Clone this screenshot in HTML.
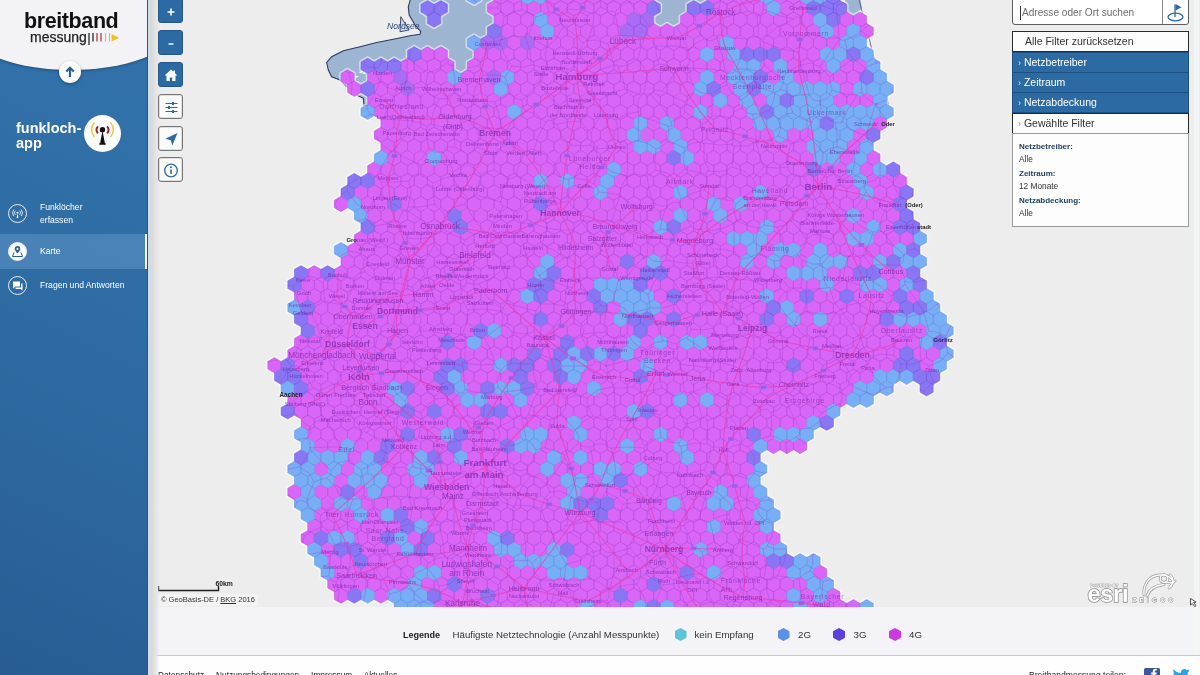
<!DOCTYPE html>
<html lang="de">
<head>
<meta charset="utf-8">
<title>Breitbandmessung – Funkloch-App Karte</title>
<style>
*{box-sizing:border-box;margin:0;padding:0}
html,body{width:1200px;height:675px;overflow:hidden;background:#efefef;font-family:"Liberation Sans",sans-serif;color:#222}
#app{position:relative;width:1200px;height:675px;overflow:hidden}
#map{position:absolute;left:148px;top:0;width:1052px;height:607px;background:#eeeeee;overflow:hidden}
#map svg{position:absolute;left:-148px;top:0}
/* sidebar */
#side{position:absolute;left:0;top:0;width:148px;height:675px;background:linear-gradient(205deg,#3272ab 0%,#2f6da4 40%,#2c669d 70%,#285c92 100%);z-index:5;overflow:hidden;border-right:1px solid #2a5578}
#sideshadow{position:absolute;left:148px;top:0;width:12px;height:675px;background:linear-gradient(90deg,#cfe3ef 0,#d3dcdf 12%,#d9d9d9 30%,#e3e3e7 60%,rgba(238,238,238,0) 100%);z-index:3}
#head{position:absolute;left:-29px;top:-90px;width:200px;height:160px;background:#f3f2f6;border-radius:0 0 50% 50%/0 0 38px 38px;box-shadow:0 1px 3px rgba(0,0,0,.3)}
#logo1{position:absolute;left:24px;top:8px;font-size:21.5px;font-weight:bold;color:#111;letter-spacing:-.4px;line-height:26px}
#logo2{position:absolute;left:30px;top:27.500px;font-size:14px;color:#222;line-height:18px;-webkit-text-stroke:.25px #222}
#bars{position:absolute;left:87.500px;top:32px}
#up{position:absolute;left:59px;top:61px;width:22px;height:22px;border-radius:50%;background:#fbfbfb;box-shadow:0 1px 3px rgba(0,0,0,.35)}
#fl{position:absolute;left:16px;top:121px;font-size:14.5px;font-weight:bold;color:#fff;line-height:15px}
#flic{position:absolute;left:84px;top:114.500px;width:37px;height:37px;border-radius:50%;background:#fdfdfd}
.nav{position:absolute;left:0;width:148px;color:#fff;font-size:8.6px;line-height:12.6px}
.nav .ic{position:absolute;left:8px;width:19px;height:19px;border-radius:50%;border:1px solid #e6eef6}
.nav .tx{position:absolute;left:40px}
#n2{top:234px;height:35px;background:rgba(120,170,215,.36);border-right:3px solid #f4f6f8}
/* map buttons */
.mb{position:absolute;left:158px;width:25px;height:25px;border-radius:3px;z-index:4}
.mb.b{background:#2c6aa3;border:1px solid #24578a;color:#fff}
.mb.w{background:#fbfbfb;border:1px solid #777;box-shadow:inset 0 0 0 1px #ddd}
.mb svg{position:absolute;left:0;top:0}
/* right panel */
#rp{position:absolute;left:1012px;top:0;width:177px;z-index:4;font-size:11px}
#search{position:absolute;left:0;top:-3px;width:177px;height:28px;border:1.500px solid #5e5e5e;border-radius:3px;background:#fff}
#search .ph{position:absolute;left:7px;top:8px;font-size:10.1px;color:#6d6d6d;border-left:1px solid #333;padding-left:1px;line-height:14px}
#search .go{position:absolute;right:0;top:0;width:26px;height:26px;border-left:1px solid #8a8a8a}
.fr{position:absolute;left:0;width:177px;height:21px;line-height:19px;font-size:10.5px;border:1px solid #2a2a2a}
.fr.w{background:#fdfdfd;color:#333}
.fr.b{background:#2c6aa3;color:#fff;border-color:#1d4f80}
#sel{position:absolute;left:0;top:133px;width:177px;height:94px;background:#fdfdfd;border:1px solid #9a9a9a;font-size:8.3px;line-height:13.4px;padding:6px 0 0 6px;color:#333}
#sel b{color:#1c3d5e;font-size:8px}
/* legend + footer */
#legend{position:absolute;left:148px;top:607px;width:1052px;height:49px;background:#f3f3f8;border-bottom:1px solid #c9c9cf;font-size:9.7px;color:#333}
#legend span{position:absolute;top:22px;line-height:12px;white-space:nowrap}
#legend i{position:absolute;top:21px;width:12px;height:13px;clip-path:polygon(50% 0,100% 25%,100% 75%,50% 100%,0 75%,0 25%)}
#foot{position:absolute;left:148px;top:656px;width:1052px;height:19px;background:#fefefe;font-size:8.3px;color:#222}
#foot span{position:absolute;top:13px;line-height:12px;white-space:nowrap}
#attr{position:absolute;left:158px;top:594px;font-size:7.5px;line-height:12px;color:#333;background:rgba(245,245,245,.7);padding:0 3px;z-index:3;white-space:nowrap}
#scale{position:absolute;left:158px;top:577px;z-index:3}
</style>
</head>
<body>
<div id="app">
<div id="map">
<svg width="1200" height="607" viewBox="0 0 1200 607" font-family="Liberation Sans, sans-serif">
<rect width="1200" height="607" fill="#ededed"/>
<polygon points="410.8,-2.0 408.3,6.7 409.2,15.0 415.0,25.0 420.8,31.7 420.0,34.2 410.0,35.8 393.3,39.2 376.7,42.5 360.0,46.7 343.3,50.8 331.7,56.7 326.7,62.5 328.3,70.0 331.7,76.7 340.0,80.0 346.7,86.7 353.3,93.3 363.3,98.3 364.2,106.7 366.7,112.0 376.0,110.0 376.0,92.0 372.0,86.0 376.0,80.0 400.0,72.0 440.0,66.0 455.0,76.0 470.0,76.0 482.0,62.0 500.0,42.0 506.0,-2.0" fill="#9db5d1"/>
<polyline points="410.8,-2.0 408.3,6.7 409.2,15.0 415.0,25.0 420.8,31.7 420.0,34.2 410.0,35.8 393.3,39.2 376.7,42.5 360.0,46.7 343.3,50.8 331.7,56.7 326.7,62.5 328.3,70.0 331.7,76.7 340.0,80.0 346.7,86.7 353.3,93.3 363.3,98.3 364.2,106.7 366.7,112.0" fill="none" stroke="#2b3a66" stroke-width="1.1"/>
<polygon points="400.8,16.7 409.2,30 400,31.7" fill="#cfd8e6" stroke="#2b3a66" stroke-width=".9"/>
<path d="M359 72l3-1.500 1 1.500-3 1.500zM355 76.500l3-.8.500 1.300-3 .8zM362.500 73l2-1 .6 1.200-2 1z" fill="#f4f4f4"/>
<polygon points="650,-2 710,-2 708,5 692,8 690,28 654,28 652,10" fill="#9db5d1"/>
<polygon points="845,-2 860,-2 862,8 856,16 846,14" fill="#9db5d1"/>
<polyline points="859.0,-1.0 864.0,20.0 870.0,41.7 873.0,55.0 880.0,70.0 886.7,86.7 887.5,100.0 889.0,110.0" fill="none" stroke="#3a4470" stroke-width=".9" opacity=".8"/>
<clipPath id="land"><path clip-rule="evenodd" d="M360.9 108.0L360.9 115.7L367.6 119.6L374.2 115.7L380.8 119.6L380.8 127.2L374.2 131.1L374.2 138.7L380.8 142.6L380.8 150.2L374.2 154.1L374.2 161.8L367.5 165.6L367.5 173.3L360.9 177.1L354.3 173.2L347.6 177.1L347.6 184.8L340.9 188.7L340.9 196.3L334.2 200.2L334.2 207.9L340.9 211.8L347.6 207.9L354.2 211.7L354.2 219.4L360.9 223.2L360.9 230.9L354.2 234.7L354.2 242.4L347.6 246.2L340.9 242.4L334.2 246.3L334.2 253.9L340.9 257.8L340.9 265.4L334.3 269.3L327.6 265.4L321.0 269.3L314.3 265.4L307.7 269.3L301.0 265.4L294.3 269.3L294.3 277.0L287.7 280.8L287.7 288.5L294.3 292.4L294.3 300.0L287.7 303.9L287.7 311.5L294.3 315.4L294.3 323.1L301.0 326.9L301.0 334.6L294.3 338.4L294.3 346.1L287.7 349.9L287.7 357.6L281.1 361.4L274.4 357.6L267.7 361.5L267.7 369.1L274.3 373.0L274.3 380.7L281.0 384.5L281.0 392.2L287.7 396.0L287.7 403.7L281.0 407.5L281.0 415.2L287.7 419.1L294.4 415.3L301.0 419.1L301.0 426.7L294.3 430.6L294.3 438.3L301.0 442.1L301.0 449.8L294.3 453.6L294.3 461.3L287.7 465.1L287.7 472.8L294.3 476.7L294.3 484.3L287.7 488.2L287.7 495.9L294.3 499.7L294.3 507.4L301.0 511.2L301.0 518.9L307.6 522.8L307.6 530.4L301.0 534.3L301.0 541.9L307.6 545.8L307.6 553.5L314.3 557.3L314.3 565.0L320.9 568.8L320.9 576.5L327.6 580.4L327.6 588.0L334.2 591.9L334.2 599.5L340.9 603.4L347.6 599.6L354.3 603.4L360.9 599.6L367.6 603.4L374.2 599.6L380.9 603.4L387.5 599.6L394.1 603.4L394.1 611.1L400.8 615.0L407.5 611.1L414.2 615.0L420.8 611.1L427.5 615.0L434.1 611.1L440.8 615.0L447.4 611.1L454.1 615.0L460.7 611.1L467.4 615.0L474.0 611.1L480.7 615.0L487.4 611.1L494.0 615.0L500.7 611.1L507.3 615.0L514.0 611.1L520.6 615.0L527.3 611.1L533.9 615.0L540.6 611.1L547.3 615.0L553.9 611.1L560.6 615.0L567.2 611.1L573.9 615.0L580.5 611.1L587.2 615.0L593.8 611.1L600.5 615.0L607.1 611.1L613.8 615.0L620.5 611.1L627.1 615.0L633.8 611.1L640.4 615.0L647.1 611.1L653.7 615.0L660.4 611.1L667.0 615.0L673.7 611.1L680.4 615.0L687.0 611.1L693.7 615.0L700.3 611.1L707.0 615.0L713.6 611.1L720.3 615.0L726.9 611.1L733.6 615.0L740.2 611.1L746.9 615.0L753.6 611.1L760.2 615.0L766.9 611.1L773.5 615.0L780.2 611.1L786.8 615.0L793.5 611.1L800.1 615.0L806.8 611.1L813.5 615.0L820.1 611.1L826.8 615.0L833.4 611.1L840.1 615.0L846.7 611.1L853.4 615.0L860.0 611.1L866.7 615.0L873.4 611.1L873.4 603.4L866.7 599.5L860.0 603.3L853.4 599.5L846.7 603.3L840.1 599.5L840.1 591.9L833.5 588.0L833.5 580.3L826.8 576.5L826.8 568.8L820.2 565.0L820.2 557.3L813.5 553.4L806.8 557.3L800.1 553.4L793.5 557.3L786.9 553.4L786.9 545.8L780.2 541.9L780.2 534.3L773.6 530.4L773.6 522.8L780.2 518.9L780.2 511.2L773.6 507.4L773.6 499.7L766.9 495.8L766.9 488.2L760.3 484.3L760.3 476.7L766.9 472.8L766.9 465.1L760.3 461.3L760.3 453.6L766.9 449.8L773.5 453.7L780.2 449.8L786.8 453.7L793.5 449.8L800.1 453.7L806.9 449.8L806.9 442.1L813.5 438.3L813.5 430.6L820.1 426.8L826.8 430.6L833.5 426.7L833.5 419.1L840.1 415.2L840.1 407.6L846.7 403.7L853.4 407.6L860.0 403.7L866.7 407.6L873.4 403.7L873.4 396.0L880.0 392.2L886.7 396.1L893.4 392.2L893.4 384.5L900.0 380.7L906.6 384.6L913.3 380.7L919.9 384.5L919.9 392.2L926.6 396.1L933.3 392.2L933.3 384.5L940.0 380.7L940.0 373.0L946.6 369.1L946.6 361.5L953.3 357.6L953.3 349.9L946.6 346.1L946.6 338.4L953.3 334.6L953.3 326.9L946.6 323.0L946.6 315.4L940.0 311.5L940.0 303.9L933.3 300.0L933.3 292.3L926.6 288.5L926.6 280.8L920.0 277.0L920.0 269.3L926.6 265.5L926.6 257.8L920.0 253.9L920.0 246.3L926.6 242.4L926.6 234.7L920.0 230.9L920.0 223.2L913.3 219.4L913.3 211.7L906.7 207.8L906.7 200.2L913.3 196.3L913.3 188.7L906.7 184.8L906.7 177.1L900.0 173.3L900.0 165.6L893.3 161.7L886.7 165.6L880.1 161.8L880.1 154.1L873.4 150.2L873.4 142.6L880.1 138.7L880.1 131.1L886.7 127.2L886.7 119.6L893.4 115.7L893.4 108.0L886.7 104.2L886.7 96.5L893.4 92.7L893.4 85.0L886.7 81.1L886.7 73.5L880.1 69.6L880.1 61.9L873.4 58.1L873.4 50.4L866.7 46.6L866.7 38.9L873.4 35.1L873.4 27.4L866.7 23.5L866.7 15.9L860.0 12.0L853.4 15.8L846.8 12.0L846.8 4.3L840.1 0.5L840.1 -7.2L833.4 -11.1L826.8 -7.2L820.1 -11.1L813.5 -7.2L806.8 -11.1L800.1 -7.2L793.5 -11.1L786.8 -7.2L780.2 -11.1L773.5 -7.2L766.9 -11.1L760.2 -7.2L753.6 -11.1L746.9 -7.2L740.2 -11.1L733.6 -7.2L726.9 -11.1L720.3 -7.2L713.6 -11.1L706.9 -7.2L706.9 0.5L700.3 4.3L693.7 0.4L687.0 4.3L687.0 12.0L680.3 15.9L680.3 23.5L673.7 27.3L667.0 23.5L660.4 27.3L653.8 23.5L653.8 15.9L660.4 12.0L660.4 4.3L653.8 0.5L653.8 -7.2L647.1 -11.1L640.4 -7.2L633.8 -11.1L627.1 -7.2L620.5 -11.1L613.8 -7.2L607.1 -11.1L600.5 -7.2L593.8 -11.1L587.2 -7.2L580.5 -11.1L573.9 -7.2L567.2 -11.1L560.6 -7.2L553.9 -11.1L547.3 -7.2L540.6 -11.1L533.9 -7.2L527.3 -11.1L520.6 -7.2L514.0 -11.1L507.3 -7.2L500.7 -11.1L494.0 -7.2L494.0 0.5L487.3 4.3L487.3 12.0L494.0 15.9L494.0 23.5L487.3 27.4L487.3 35.0L480.7 38.9L474.0 35.0L467.3 38.9L467.3 46.6L474.0 50.4L474.0 58.1L467.3 61.9L467.3 69.6L460.7 73.4L454.1 69.6L454.1 61.9L447.5 58.1L447.5 50.4L440.8 46.5L434.1 50.4L427.5 46.5L420.8 50.4L414.2 46.5L407.4 50.4L407.4 58.1L400.8 61.9L394.2 58.0L387.5 61.9L380.9 58.0L374.2 61.9L367.6 58.0L360.9 61.9L360.9 69.6L367.5 73.5L367.5 81.1L360.9 84.9L354.3 81.1L354.3 73.5L347.6 69.6L340.9 73.5L340.9 81.1L347.6 85.0L347.6 92.7L354.3 96.6L360.9 92.7L367.5 96.5L367.5 104.2ZM447.5 4.3L440.8 0.4L434.1 4.3L427.5 0.4L420.8 4.3L420.8 12.0L427.4 15.9L427.4 23.5L434.1 27.4L440.8 23.5L440.8 15.9L447.5 12.0ZM480.8 -7.2L474.0 -11.1L467.3 -7.2L467.3 0.5L474.0 4.4L480.8 0.5Z"/></clipPath>
<path d="M360.9 108.0L360.9 115.7L367.6 119.6L374.2 115.7L380.8 119.6L380.8 127.2L374.2 131.1L374.2 138.7L380.8 142.6L380.8 150.2L374.2 154.1L374.2 161.8L367.5 165.6L367.5 173.3L360.9 177.1L354.3 173.2L347.6 177.1L347.6 184.8L340.9 188.7L340.9 196.3L334.2 200.2L334.2 207.9L340.9 211.8L347.6 207.9L354.2 211.7L354.2 219.4L360.9 223.2L360.9 230.9L354.2 234.7L354.2 242.4L347.6 246.2L340.9 242.4L334.2 246.3L334.2 253.9L340.9 257.8L340.9 265.4L334.3 269.3L327.6 265.4L321.0 269.3L314.3 265.4L307.7 269.3L301.0 265.4L294.3 269.3L294.3 277.0L287.7 280.8L287.7 288.5L294.3 292.4L294.3 300.0L287.7 303.9L287.7 311.5L294.3 315.4L294.3 323.1L301.0 326.9L301.0 334.6L294.3 338.4L294.3 346.1L287.7 349.9L287.7 357.6L281.1 361.4L274.4 357.6L267.7 361.5L267.7 369.1L274.3 373.0L274.3 380.7L281.0 384.5L281.0 392.2L287.7 396.0L287.7 403.7L281.0 407.5L281.0 415.2L287.7 419.1L294.4 415.3L301.0 419.1L301.0 426.7L294.3 430.6L294.3 438.3L301.0 442.1L301.0 449.8L294.3 453.6L294.3 461.3L287.7 465.1L287.7 472.8L294.3 476.7L294.3 484.3L287.7 488.2L287.7 495.9L294.3 499.7L294.3 507.4L301.0 511.2L301.0 518.9L307.6 522.8L307.6 530.4L301.0 534.3L301.0 541.9L307.6 545.8L307.6 553.5L314.3 557.3L314.3 565.0L320.9 568.8L320.9 576.5L327.6 580.4L327.6 588.0L334.2 591.9L334.2 599.5L340.9 603.4L347.6 599.6L354.3 603.4L360.9 599.6L367.6 603.4L374.2 599.6L380.9 603.4L387.5 599.6L394.1 603.4L394.1 611.1L400.8 615.0L407.5 611.1L414.2 615.0L420.8 611.1L427.5 615.0L434.1 611.1L440.8 615.0L447.4 611.1L454.1 615.0L460.7 611.1L467.4 615.0L474.0 611.1L480.7 615.0L487.4 611.1L494.0 615.0L500.7 611.1L507.3 615.0L514.0 611.1L520.6 615.0L527.3 611.1L533.9 615.0L540.6 611.1L547.3 615.0L553.9 611.1L560.6 615.0L567.2 611.1L573.9 615.0L580.5 611.1L587.2 615.0L593.8 611.1L600.5 615.0L607.1 611.1L613.8 615.0L620.5 611.1L627.1 615.0L633.8 611.1L640.4 615.0L647.1 611.1L653.7 615.0L660.4 611.1L667.0 615.0L673.7 611.1L680.4 615.0L687.0 611.1L693.7 615.0L700.3 611.1L707.0 615.0L713.6 611.1L720.3 615.0L726.9 611.1L733.6 615.0L740.2 611.1L746.9 615.0L753.6 611.1L760.2 615.0L766.9 611.1L773.5 615.0L780.2 611.1L786.8 615.0L793.5 611.1L800.1 615.0L806.8 611.1L813.5 615.0L820.1 611.1L826.8 615.0L833.4 611.1L840.1 615.0L846.7 611.1L853.4 615.0L860.0 611.1L866.7 615.0L873.4 611.1L873.4 603.4L866.7 599.5L860.0 603.3L853.4 599.5L846.7 603.3L840.1 599.5L840.1 591.9L833.5 588.0L833.5 580.3L826.8 576.5L826.8 568.8L820.2 565.0L820.2 557.3L813.5 553.4L806.8 557.3L800.1 553.4L793.5 557.3L786.9 553.4L786.9 545.8L780.2 541.9L780.2 534.3L773.6 530.4L773.6 522.8L780.2 518.9L780.2 511.2L773.6 507.4L773.6 499.7L766.9 495.8L766.9 488.2L760.3 484.3L760.3 476.7L766.9 472.8L766.9 465.1L760.3 461.3L760.3 453.6L766.9 449.8L773.5 453.7L780.2 449.8L786.8 453.7L793.5 449.8L800.1 453.7L806.9 449.8L806.9 442.1L813.5 438.3L813.5 430.6L820.1 426.8L826.8 430.6L833.5 426.7L833.5 419.1L840.1 415.2L840.1 407.6L846.7 403.7L853.4 407.6L860.0 403.7L866.7 407.6L873.4 403.7L873.4 396.0L880.0 392.2L886.7 396.1L893.4 392.2L893.4 384.5L900.0 380.7L906.6 384.6L913.3 380.7L919.9 384.5L919.9 392.2L926.6 396.1L933.3 392.2L933.3 384.5L940.0 380.7L940.0 373.0L946.6 369.1L946.6 361.5L953.3 357.6L953.3 349.9L946.6 346.1L946.6 338.4L953.3 334.6L953.3 326.9L946.6 323.0L946.6 315.4L940.0 311.5L940.0 303.9L933.3 300.0L933.3 292.3L926.6 288.5L926.6 280.8L920.0 277.0L920.0 269.3L926.6 265.5L926.6 257.8L920.0 253.9L920.0 246.3L926.6 242.4L926.6 234.7L920.0 230.9L920.0 223.2L913.3 219.4L913.3 211.7L906.7 207.8L906.7 200.2L913.3 196.3L913.3 188.7L906.7 184.8L906.7 177.1L900.0 173.3L900.0 165.6L893.3 161.7L886.7 165.6L880.1 161.8L880.1 154.1L873.4 150.2L873.4 142.6L880.1 138.7L880.1 131.1L886.7 127.2L886.7 119.6L893.4 115.7L893.4 108.0L886.7 104.2L886.7 96.5L893.4 92.7L893.4 85.0L886.7 81.1L886.7 73.5L880.1 69.6L880.1 61.9L873.4 58.1L873.4 50.4L866.7 46.6L866.7 38.9L873.4 35.1L873.4 27.4L866.7 23.5L866.7 15.9L860.0 12.0L853.4 15.8L846.8 12.0L846.8 4.3L840.1 0.5L840.1 -7.2L833.4 -11.1L826.8 -7.2L820.1 -11.1L813.5 -7.2L806.8 -11.1L800.1 -7.2L793.5 -11.1L786.8 -7.2L780.2 -11.1L773.5 -7.2L766.9 -11.1L760.2 -7.2L753.6 -11.1L746.9 -7.2L740.2 -11.1L733.6 -7.2L726.9 -11.1L720.3 -7.2L713.6 -11.1L706.9 -7.2L706.9 0.5L700.3 4.3L693.7 0.4L687.0 4.3L687.0 12.0L680.3 15.9L680.3 23.5L673.7 27.3L667.0 23.5L660.4 27.3L653.8 23.5L653.8 15.9L660.4 12.0L660.4 4.3L653.8 0.5L653.8 -7.2L647.1 -11.1L640.4 -7.2L633.8 -11.1L627.1 -7.2L620.5 -11.1L613.8 -7.2L607.1 -11.1L600.5 -7.2L593.8 -11.1L587.2 -7.2L580.5 -11.1L573.9 -7.2L567.2 -11.1L560.6 -7.2L553.9 -11.1L547.3 -7.2L540.6 -11.1L533.9 -7.2L527.3 -11.1L520.6 -7.2L514.0 -11.1L507.3 -7.2L500.7 -11.1L494.0 -7.2L494.0 0.5L487.3 4.3L487.3 12.0L494.0 15.9L494.0 23.5L487.3 27.4L487.3 35.0L480.7 38.9L474.0 35.0L467.3 38.9L467.3 46.6L474.0 50.4L474.0 58.1L467.3 61.9L467.3 69.6L460.7 73.4L454.1 69.6L454.1 61.9L447.5 58.1L447.5 50.4L440.8 46.5L434.1 50.4L427.5 46.5L420.8 50.4L414.2 46.5L407.4 50.4L407.4 58.1L400.8 61.9L394.2 58.0L387.5 61.9L380.9 58.0L374.2 61.9L367.6 58.0L360.9 61.9L360.9 69.6L367.5 73.5L367.5 81.1L360.9 84.9L354.3 81.1L354.3 73.5L347.6 69.6L340.9 73.5L340.9 81.1L347.6 85.0L347.6 92.7L354.3 96.6L360.9 92.7L367.5 96.5L367.5 104.2ZM447.5 4.3L440.8 0.4L434.1 4.3L427.5 0.4L420.8 4.3L420.8 12.0L427.4 15.9L427.4 23.5L434.1 27.4L440.8 23.5L440.8 15.9L447.5 12.0ZM480.8 -7.2L474.0 -11.1L467.3 -7.2L467.3 0.5L474.0 4.4L480.8 0.5Z" fill="none" stroke="#fff" stroke-width="3.500" stroke-opacity=".55" stroke-linejoin="round"/>
<path d="M500.7 -11.0 l6.66 3.84 v7.68 l-6.66 3.84 l-6.66 -3.84 v-7.68 zM514.0 -11.0 l6.66 3.84 v7.68 l-6.66 3.84 l-6.66 -3.84 v-7.68 zM553.9 -11.0 l6.66 3.84 v7.68 l-6.66 3.84 l-6.66 -3.84 v-7.68 zM567.2 -11.0 l6.66 3.84 v7.68 l-6.66 3.84 l-6.66 -3.84 v-7.68 zM580.5 -11.0 l6.66 3.84 v7.68 l-6.66 3.84 l-6.66 -3.84 v-7.68 zM593.8 -11.0 l6.66 3.84 v7.68 l-6.66 3.84 l-6.66 -3.84 v-7.68 zM607.1 -11.0 l6.66 3.84 v7.68 l-6.66 3.84 l-6.66 -3.84 v-7.68 zM620.5 -11.0 l6.66 3.84 v7.68 l-6.66 3.84 l-6.66 -3.84 v-7.68 zM633.8 -11.0 l6.66 3.84 v7.68 l-6.66 3.84 l-6.66 -3.84 v-7.68 zM647.1 -11.0 l6.66 3.84 v7.68 l-6.66 3.84 l-6.66 -3.84 v-7.68 zM713.6 -11.0 l6.66 3.84 v7.68 l-6.66 3.84 l-6.66 -3.84 v-7.68 zM726.9 -11.0 l6.66 3.84 v7.68 l-6.66 3.84 l-6.66 -3.84 v-7.68 zM740.2 -11.0 l6.66 3.84 v7.68 l-6.66 3.84 l-6.66 -3.84 v-7.68 zM753.6 -11.0 l6.66 3.84 v7.68 l-6.66 3.84 l-6.66 -3.84 v-7.68 zM780.2 -11.0 l6.66 3.84 v7.68 l-6.66 3.84 l-6.66 -3.84 v-7.68 zM793.5 -11.0 l6.66 3.84 v7.68 l-6.66 3.84 l-6.66 -3.84 v-7.68 zM494.0 0.5 l6.66 3.84 v7.68 l-6.66 3.84 l-6.66 -3.84 v-7.68 zM507.3 0.5 l6.66 3.84 v7.68 l-6.66 3.84 l-6.66 -3.84 v-7.68 zM520.6 0.5 l6.66 3.84 v7.68 l-6.66 3.84 l-6.66 -3.84 v-7.68 zM533.9 0.5 l6.66 3.84 v7.68 l-6.66 3.84 l-6.66 -3.84 v-7.68 zM547.3 0.5 l6.66 3.84 v7.68 l-6.66 3.84 l-6.66 -3.84 v-7.68 zM560.6 0.5 l6.66 3.84 v7.68 l-6.66 3.84 l-6.66 -3.84 v-7.68 zM573.9 0.5 l6.66 3.84 v7.68 l-6.66 3.84 l-6.66 -3.84 v-7.68 zM587.2 0.5 l6.66 3.84 v7.68 l-6.66 3.84 l-6.66 -3.84 v-7.68 zM600.5 0.5 l6.66 3.84 v7.68 l-6.66 3.84 l-6.66 -3.84 v-7.68 zM613.8 0.5 l6.66 3.84 v7.68 l-6.66 3.84 l-6.66 -3.84 v-7.68 zM627.1 0.5 l6.66 3.84 v7.68 l-6.66 3.84 l-6.66 -3.84 v-7.68 zM640.4 0.5 l6.66 3.84 v7.68 l-6.66 3.84 l-6.66 -3.84 v-7.68 zM720.3 0.5 l6.66 3.84 v7.68 l-6.66 3.84 l-6.66 -3.84 v-7.68 zM733.6 0.5 l6.66 3.84 v7.68 l-6.66 3.84 l-6.66 -3.84 v-7.68 zM746.9 0.5 l6.66 3.84 v7.68 l-6.66 3.84 l-6.66 -3.84 v-7.68 zM760.2 0.5 l6.66 3.84 v7.68 l-6.66 3.84 l-6.66 -3.84 v-7.68 zM786.8 0.5 l6.66 3.84 v7.68 l-6.66 3.84 l-6.66 -3.84 v-7.68 zM800.1 0.5 l6.66 3.84 v7.68 l-6.66 3.84 l-6.66 -3.84 v-7.68 zM500.7 12.0 l6.66 3.84 v7.68 l-6.66 3.84 l-6.66 -3.84 v-7.68 zM514.0 12.0 l6.66 3.84 v7.68 l-6.66 3.84 l-6.66 -3.84 v-7.68 zM527.3 12.0 l6.66 3.84 v7.68 l-6.66 3.84 l-6.66 -3.84 v-7.68 zM553.9 12.0 l6.66 3.84 v7.68 l-6.66 3.84 l-6.66 -3.84 v-7.68 zM567.2 12.0 l6.66 3.84 v7.68 l-6.66 3.84 l-6.66 -3.84 v-7.68 zM580.5 12.0 l6.66 3.84 v7.68 l-6.66 3.84 l-6.66 -3.84 v-7.68 zM593.8 12.0 l6.66 3.84 v7.68 l-6.66 3.84 l-6.66 -3.84 v-7.68 zM607.1 12.0 l6.66 3.84 v7.68 l-6.66 3.84 l-6.66 -3.84 v-7.68 zM620.5 12.0 l6.66 3.84 v7.68 l-6.66 3.84 l-6.66 -3.84 v-7.68 zM687.0 12.0 l6.66 3.84 v7.68 l-6.66 3.84 l-6.66 -3.84 v-7.68 zM700.3 12.0 l6.66 3.84 v7.68 l-6.66 3.84 l-6.66 -3.84 v-7.68 zM713.6 12.0 l6.66 3.84 v7.68 l-6.66 3.84 l-6.66 -3.84 v-7.68 zM726.9 12.0 l6.66 3.84 v7.68 l-6.66 3.84 l-6.66 -3.84 v-7.68 zM740.2 12.0 l6.66 3.84 v7.68 l-6.66 3.84 l-6.66 -3.84 v-7.68 zM753.6 12.0 l6.66 3.84 v7.68 l-6.66 3.84 l-6.66 -3.84 v-7.68 zM766.9 12.0 l6.66 3.84 v7.68 l-6.66 3.84 l-6.66 -3.84 v-7.68 zM780.2 12.0 l6.66 3.84 v7.68 l-6.66 3.84 l-6.66 -3.84 v-7.68 zM793.5 12.0 l6.66 3.84 v7.68 l-6.66 3.84 l-6.66 -3.84 v-7.68 zM806.8 12.0 l6.66 3.84 v7.68 l-6.66 3.84 l-6.66 -3.84 v-7.68 zM846.7 12.0 l6.66 3.84 v7.68 l-6.66 3.84 l-6.66 -3.84 v-7.68 zM860.0 12.0 l6.66 3.84 v7.68 l-6.66 3.84 l-6.66 -3.84 v-7.68 zM507.3 23.5 l6.66 3.84 v7.68 l-6.66 3.84 l-6.66 -3.84 v-7.68 zM520.6 23.5 l6.66 3.84 v7.68 l-6.66 3.84 l-6.66 -3.84 v-7.68 zM533.9 23.5 l6.66 3.84 v7.68 l-6.66 3.84 l-6.66 -3.84 v-7.68 zM560.6 23.5 l6.66 3.84 v7.68 l-6.66 3.84 l-6.66 -3.84 v-7.68 zM573.9 23.5 l6.66 3.84 v7.68 l-6.66 3.84 l-6.66 -3.84 v-7.68 zM587.2 23.5 l6.66 3.84 v7.68 l-6.66 3.84 l-6.66 -3.84 v-7.68 zM600.5 23.5 l6.66 3.84 v7.68 l-6.66 3.84 l-6.66 -3.84 v-7.68 zM613.8 23.5 l6.66 3.84 v7.68 l-6.66 3.84 l-6.66 -3.84 v-7.68 zM653.7 23.5 l6.66 3.84 v7.68 l-6.66 3.84 l-6.66 -3.84 v-7.68 zM667.0 23.5 l6.66 3.84 v7.68 l-6.66 3.84 l-6.66 -3.84 v-7.68 zM680.4 23.5 l6.66 3.84 v7.68 l-6.66 3.84 l-6.66 -3.84 v-7.68 zM693.7 23.5 l6.66 3.84 v7.68 l-6.66 3.84 l-6.66 -3.84 v-7.68 zM707.0 23.5 l6.66 3.84 v7.68 l-6.66 3.84 l-6.66 -3.84 v-7.68 zM720.3 23.5 l6.66 3.84 v7.68 l-6.66 3.84 l-6.66 -3.84 v-7.68 zM733.6 23.5 l6.66 3.84 v7.68 l-6.66 3.84 l-6.66 -3.84 v-7.68 zM746.9 23.5 l6.66 3.84 v7.68 l-6.66 3.84 l-6.66 -3.84 v-7.68 zM760.2 23.5 l6.66 3.84 v7.68 l-6.66 3.84 l-6.66 -3.84 v-7.68 zM773.5 23.5 l6.66 3.84 v7.68 l-6.66 3.84 l-6.66 -3.84 v-7.68 zM786.8 23.5 l6.66 3.84 v7.68 l-6.66 3.84 l-6.66 -3.84 v-7.68 zM800.1 23.5 l6.66 3.84 v7.68 l-6.66 3.84 l-6.66 -3.84 v-7.68 zM813.5 23.5 l6.66 3.84 v7.68 l-6.66 3.84 l-6.66 -3.84 v-7.68 zM840.1 23.5 l6.66 3.84 v7.68 l-6.66 3.84 l-6.66 -3.84 v-7.68 zM866.7 23.5 l6.66 3.84 v7.68 l-6.66 3.84 l-6.66 -3.84 v-7.68 zM514.0 35.1 l6.66 3.84 v7.68 l-6.66 3.84 l-6.66 -3.84 v-7.68 zM540.6 35.1 l6.66 3.84 v7.68 l-6.66 3.84 l-6.66 -3.84 v-7.68 zM553.9 35.1 l6.66 3.84 v7.68 l-6.66 3.84 l-6.66 -3.84 v-7.68 zM567.2 35.1 l6.66 3.84 v7.68 l-6.66 3.84 l-6.66 -3.84 v-7.68 zM580.5 35.1 l6.66 3.84 v7.68 l-6.66 3.84 l-6.66 -3.84 v-7.68 zM593.8 35.1 l6.66 3.84 v7.68 l-6.66 3.84 l-6.66 -3.84 v-7.68 zM607.1 35.1 l6.66 3.84 v7.68 l-6.66 3.84 l-6.66 -3.84 v-7.68 zM620.5 35.1 l6.66 3.84 v7.68 l-6.66 3.84 l-6.66 -3.84 v-7.68 zM633.8 35.1 l6.66 3.84 v7.68 l-6.66 3.84 l-6.66 -3.84 v-7.68 zM647.1 35.1 l6.66 3.84 v7.68 l-6.66 3.84 l-6.66 -3.84 v-7.68 zM660.4 35.1 l6.66 3.84 v7.68 l-6.66 3.84 l-6.66 -3.84 v-7.68 zM673.7 35.1 l6.66 3.84 v7.68 l-6.66 3.84 l-6.66 -3.84 v-7.68 zM687.0 35.1 l6.66 3.84 v7.68 l-6.66 3.84 l-6.66 -3.84 v-7.68 zM700.3 35.1 l6.66 3.84 v7.68 l-6.66 3.84 l-6.66 -3.84 v-7.68 zM713.6 35.1 l6.66 3.84 v7.68 l-6.66 3.84 l-6.66 -3.84 v-7.68 zM740.2 35.1 l6.66 3.84 v7.68 l-6.66 3.84 l-6.66 -3.84 v-7.68 zM753.6 35.1 l6.66 3.84 v7.68 l-6.66 3.84 l-6.66 -3.84 v-7.68 zM766.9 35.1 l6.66 3.84 v7.68 l-6.66 3.84 l-6.66 -3.84 v-7.68 zM780.2 35.1 l6.66 3.84 v7.68 l-6.66 3.84 l-6.66 -3.84 v-7.68 zM793.5 35.1 l6.66 3.84 v7.68 l-6.66 3.84 l-6.66 -3.84 v-7.68 zM806.8 35.1 l6.66 3.84 v7.68 l-6.66 3.84 l-6.66 -3.84 v-7.68 zM820.1 35.1 l6.66 3.84 v7.68 l-6.66 3.84 l-6.66 -3.84 v-7.68 zM833.4 35.1 l6.66 3.84 v7.68 l-6.66 3.84 l-6.66 -3.84 v-7.68 zM427.5 46.6 l6.66 3.84 v7.68 l-6.66 3.84 l-6.66 -3.84 v-7.68 zM440.8 46.6 l6.66 3.84 v7.68 l-6.66 3.84 l-6.66 -3.84 v-7.68 zM480.7 46.6 l6.66 3.84 v7.68 l-6.66 3.84 l-6.66 -3.84 v-7.68 zM494.0 46.6 l6.66 3.84 v7.68 l-6.66 3.84 l-6.66 -3.84 v-7.68 zM507.3 46.6 l6.66 3.84 v7.68 l-6.66 3.84 l-6.66 -3.84 v-7.68 zM520.6 46.6 l6.66 3.84 v7.68 l-6.66 3.84 l-6.66 -3.84 v-7.68 zM533.9 46.6 l6.66 3.84 v7.68 l-6.66 3.84 l-6.66 -3.84 v-7.68 zM547.3 46.6 l6.66 3.84 v7.68 l-6.66 3.84 l-6.66 -3.84 v-7.68 zM560.6 46.6 l6.66 3.84 v7.68 l-6.66 3.84 l-6.66 -3.84 v-7.68 zM573.9 46.6 l6.66 3.84 v7.68 l-6.66 3.84 l-6.66 -3.84 v-7.68 zM587.2 46.6 l6.66 3.84 v7.68 l-6.66 3.84 l-6.66 -3.84 v-7.68 zM600.5 46.6 l6.66 3.84 v7.68 l-6.66 3.84 l-6.66 -3.84 v-7.68 zM613.8 46.6 l6.66 3.84 v7.68 l-6.66 3.84 l-6.66 -3.84 v-7.68 zM627.1 46.6 l6.66 3.84 v7.68 l-6.66 3.84 l-6.66 -3.84 v-7.68 zM640.4 46.6 l6.66 3.84 v7.68 l-6.66 3.84 l-6.66 -3.84 v-7.68 zM653.7 46.6 l6.66 3.84 v7.68 l-6.66 3.84 l-6.66 -3.84 v-7.68 zM667.0 46.6 l6.66 3.84 v7.68 l-6.66 3.84 l-6.66 -3.84 v-7.68 zM680.4 46.6 l6.66 3.84 v7.68 l-6.66 3.84 l-6.66 -3.84 v-7.68 zM693.7 46.6 l6.66 3.84 v7.68 l-6.66 3.84 l-6.66 -3.84 v-7.68 zM720.3 46.6 l6.66 3.84 v7.68 l-6.66 3.84 l-6.66 -3.84 v-7.68 zM786.8 46.6 l6.66 3.84 v7.68 l-6.66 3.84 l-6.66 -3.84 v-7.68 zM800.1 46.6 l6.66 3.84 v7.68 l-6.66 3.84 l-6.66 -3.84 v-7.68 zM813.5 46.6 l6.66 3.84 v7.68 l-6.66 3.84 l-6.66 -3.84 v-7.68 zM407.5 58.1 l6.66 3.84 v7.68 l-6.66 3.84 l-6.66 -3.84 v-7.68 zM420.8 58.1 l6.66 3.84 v7.68 l-6.66 3.84 l-6.66 -3.84 v-7.68 zM434.1 58.1 l6.66 3.84 v7.68 l-6.66 3.84 l-6.66 -3.84 v-7.68 zM447.4 58.1 l6.66 3.84 v7.68 l-6.66 3.84 l-6.66 -3.84 v-7.68 zM474.0 58.1 l6.66 3.84 v7.68 l-6.66 3.84 l-6.66 -3.84 v-7.68 zM487.4 58.1 l6.66 3.84 v7.68 l-6.66 3.84 l-6.66 -3.84 v-7.68 zM500.7 58.1 l6.66 3.84 v7.68 l-6.66 3.84 l-6.66 -3.84 v-7.68 zM514.0 58.1 l6.66 3.84 v7.68 l-6.66 3.84 l-6.66 -3.84 v-7.68 zM527.3 58.1 l6.66 3.84 v7.68 l-6.66 3.84 l-6.66 -3.84 v-7.68 zM540.6 58.1 l6.66 3.84 v7.68 l-6.66 3.84 l-6.66 -3.84 v-7.68 zM553.9 58.1 l6.66 3.84 v7.68 l-6.66 3.84 l-6.66 -3.84 v-7.68 zM567.2 58.1 l6.66 3.84 v7.68 l-6.66 3.84 l-6.66 -3.84 v-7.68 zM580.5 58.1 l6.66 3.84 v7.68 l-6.66 3.84 l-6.66 -3.84 v-7.68 zM593.8 58.1 l6.66 3.84 v7.68 l-6.66 3.84 l-6.66 -3.84 v-7.68 zM607.1 58.1 l6.66 3.84 v7.68 l-6.66 3.84 l-6.66 -3.84 v-7.68 zM620.5 58.1 l6.66 3.84 v7.68 l-6.66 3.84 l-6.66 -3.84 v-7.68 zM633.8 58.1 l6.66 3.84 v7.68 l-6.66 3.84 l-6.66 -3.84 v-7.68 zM647.1 58.1 l6.66 3.84 v7.68 l-6.66 3.84 l-6.66 -3.84 v-7.68 zM660.4 58.1 l6.66 3.84 v7.68 l-6.66 3.84 l-6.66 -3.84 v-7.68 zM673.7 58.1 l6.66 3.84 v7.68 l-6.66 3.84 l-6.66 -3.84 v-7.68 zM687.0 58.1 l6.66 3.84 v7.68 l-6.66 3.84 l-6.66 -3.84 v-7.68 zM700.3 58.1 l6.66 3.84 v7.68 l-6.66 3.84 l-6.66 -3.84 v-7.68 zM713.6 58.1 l6.66 3.84 v7.68 l-6.66 3.84 l-6.66 -3.84 v-7.68 zM726.9 58.1 l6.66 3.84 v7.68 l-6.66 3.84 l-6.66 -3.84 v-7.68 zM766.9 58.1 l6.66 3.84 v7.68 l-6.66 3.84 l-6.66 -3.84 v-7.68 zM793.5 58.1 l6.66 3.84 v7.68 l-6.66 3.84 l-6.66 -3.84 v-7.68 zM806.8 58.1 l6.66 3.84 v7.68 l-6.66 3.84 l-6.66 -3.84 v-7.68 zM820.1 58.1 l6.66 3.84 v7.68 l-6.66 3.84 l-6.66 -3.84 v-7.68 zM846.7 58.1 l6.66 3.84 v7.68 l-6.66 3.84 l-6.66 -3.84 v-7.68 zM860.0 58.1 l6.66 3.84 v7.68 l-6.66 3.84 l-6.66 -3.84 v-7.68 zM347.6 69.6 l6.66 3.84 v7.68 l-6.66 3.84 l-6.66 -3.84 v-7.68 zM374.2 69.6 l6.66 3.84 v7.68 l-6.66 3.84 l-6.66 -3.84 v-7.68 zM387.5 69.6 l6.66 3.84 v7.68 l-6.66 3.84 l-6.66 -3.84 v-7.68 zM414.2 69.6 l6.66 3.84 v7.68 l-6.66 3.84 l-6.66 -3.84 v-7.68 zM427.5 69.6 l6.66 3.84 v7.68 l-6.66 3.84 l-6.66 -3.84 v-7.68 zM440.8 69.6 l6.66 3.84 v7.68 l-6.66 3.84 l-6.66 -3.84 v-7.68 zM467.4 69.6 l6.66 3.84 v7.68 l-6.66 3.84 l-6.66 -3.84 v-7.68 zM480.7 69.6 l6.66 3.84 v7.68 l-6.66 3.84 l-6.66 -3.84 v-7.68 zM520.6 69.6 l6.66 3.84 v7.68 l-6.66 3.84 l-6.66 -3.84 v-7.68 zM533.9 69.6 l6.66 3.84 v7.68 l-6.66 3.84 l-6.66 -3.84 v-7.68 zM547.3 69.6 l6.66 3.84 v7.68 l-6.66 3.84 l-6.66 -3.84 v-7.68 zM560.6 69.6 l6.66 3.84 v7.68 l-6.66 3.84 l-6.66 -3.84 v-7.68 zM573.9 69.6 l6.66 3.84 v7.68 l-6.66 3.84 l-6.66 -3.84 v-7.68 zM587.2 69.6 l6.66 3.84 v7.68 l-6.66 3.84 l-6.66 -3.84 v-7.68 zM600.5 69.6 l6.66 3.84 v7.68 l-6.66 3.84 l-6.66 -3.84 v-7.68 zM613.8 69.6 l6.66 3.84 v7.68 l-6.66 3.84 l-6.66 -3.84 v-7.68 zM627.1 69.6 l6.66 3.84 v7.68 l-6.66 3.84 l-6.66 -3.84 v-7.68 zM640.4 69.6 l6.66 3.84 v7.68 l-6.66 3.84 l-6.66 -3.84 v-7.68 zM653.7 69.6 l6.66 3.84 v7.68 l-6.66 3.84 l-6.66 -3.84 v-7.68 zM667.0 69.6 l6.66 3.84 v7.68 l-6.66 3.84 l-6.66 -3.84 v-7.68 zM680.4 69.6 l6.66 3.84 v7.68 l-6.66 3.84 l-6.66 -3.84 v-7.68 zM693.7 69.6 l6.66 3.84 v7.68 l-6.66 3.84 l-6.66 -3.84 v-7.68 zM720.3 69.6 l6.66 3.84 v7.68 l-6.66 3.84 l-6.66 -3.84 v-7.68 zM773.5 69.6 l6.66 3.84 v7.68 l-6.66 3.84 l-6.66 -3.84 v-7.68 zM800.1 69.6 l6.66 3.84 v7.68 l-6.66 3.84 l-6.66 -3.84 v-7.68 zM813.5 69.6 l6.66 3.84 v7.68 l-6.66 3.84 l-6.66 -3.84 v-7.68 zM826.8 69.6 l6.66 3.84 v7.68 l-6.66 3.84 l-6.66 -3.84 v-7.68 zM840.1 69.6 l6.66 3.84 v7.68 l-6.66 3.84 l-6.66 -3.84 v-7.68 zM853.4 69.6 l6.66 3.84 v7.68 l-6.66 3.84 l-6.66 -3.84 v-7.68 zM354.3 81.1 l6.66 3.84 v7.68 l-6.66 3.84 l-6.66 -3.84 v-7.68 zM380.9 81.1 l6.66 3.84 v7.68 l-6.66 3.84 l-6.66 -3.84 v-7.68 zM394.2 81.1 l6.66 3.84 v7.68 l-6.66 3.84 l-6.66 -3.84 v-7.68 zM420.8 81.1 l6.66 3.84 v7.68 l-6.66 3.84 l-6.66 -3.84 v-7.68 zM434.1 81.1 l6.66 3.84 v7.68 l-6.66 3.84 l-6.66 -3.84 v-7.68 zM447.4 81.1 l6.66 3.84 v7.68 l-6.66 3.84 l-6.66 -3.84 v-7.68 zM460.7 81.1 l6.66 3.84 v7.68 l-6.66 3.84 l-6.66 -3.84 v-7.68 zM474.0 81.1 l6.66 3.84 v7.68 l-6.66 3.84 l-6.66 -3.84 v-7.68 zM487.4 81.1 l6.66 3.84 v7.68 l-6.66 3.84 l-6.66 -3.84 v-7.68 zM514.0 81.1 l6.66 3.84 v7.68 l-6.66 3.84 l-6.66 -3.84 v-7.68 zM527.3 81.1 l6.66 3.84 v7.68 l-6.66 3.84 l-6.66 -3.84 v-7.68 zM540.6 81.1 l6.66 3.84 v7.68 l-6.66 3.84 l-6.66 -3.84 v-7.68 zM553.9 81.1 l6.66 3.84 v7.68 l-6.66 3.84 l-6.66 -3.84 v-7.68 zM567.2 81.1 l6.66 3.84 v7.68 l-6.66 3.84 l-6.66 -3.84 v-7.68 zM580.5 81.1 l6.66 3.84 v7.68 l-6.66 3.84 l-6.66 -3.84 v-7.68 zM593.8 81.1 l6.66 3.84 v7.68 l-6.66 3.84 l-6.66 -3.84 v-7.68 zM607.1 81.1 l6.66 3.84 v7.68 l-6.66 3.84 l-6.66 -3.84 v-7.68 zM620.5 81.1 l6.66 3.84 v7.68 l-6.66 3.84 l-6.66 -3.84 v-7.68 zM633.8 81.1 l6.66 3.84 v7.68 l-6.66 3.84 l-6.66 -3.84 v-7.68 zM647.1 81.1 l6.66 3.84 v7.68 l-6.66 3.84 l-6.66 -3.84 v-7.68 zM660.4 81.1 l6.66 3.84 v7.68 l-6.66 3.84 l-6.66 -3.84 v-7.68 zM673.7 81.1 l6.66 3.84 v7.68 l-6.66 3.84 l-6.66 -3.84 v-7.68 zM687.0 81.1 l6.66 3.84 v7.68 l-6.66 3.84 l-6.66 -3.84 v-7.68 zM726.9 81.1 l6.66 3.84 v7.68 l-6.66 3.84 l-6.66 -3.84 v-7.68 zM846.7 81.1 l6.66 3.84 v7.68 l-6.66 3.84 l-6.66 -3.84 v-7.68 zM374.2 92.7 l6.66 3.84 v7.68 l-6.66 3.84 l-6.66 -3.84 v-7.68 zM387.5 92.7 l6.66 3.84 v7.68 l-6.66 3.84 l-6.66 -3.84 v-7.68 zM400.8 92.7 l6.66 3.84 v7.68 l-6.66 3.84 l-6.66 -3.84 v-7.68 zM414.2 92.7 l6.66 3.84 v7.68 l-6.66 3.84 l-6.66 -3.84 v-7.68 zM427.5 92.7 l6.66 3.84 v7.68 l-6.66 3.84 l-6.66 -3.84 v-7.68 zM440.8 92.7 l6.66 3.84 v7.68 l-6.66 3.84 l-6.66 -3.84 v-7.68 zM454.1 92.7 l6.66 3.84 v7.68 l-6.66 3.84 l-6.66 -3.84 v-7.68 zM467.4 92.7 l6.66 3.84 v7.68 l-6.66 3.84 l-6.66 -3.84 v-7.68 zM480.7 92.7 l6.66 3.84 v7.68 l-6.66 3.84 l-6.66 -3.84 v-7.68 zM494.0 92.7 l6.66 3.84 v7.68 l-6.66 3.84 l-6.66 -3.84 v-7.68 zM507.3 92.7 l6.66 3.84 v7.68 l-6.66 3.84 l-6.66 -3.84 v-7.68 zM520.6 92.7 l6.66 3.84 v7.68 l-6.66 3.84 l-6.66 -3.84 v-7.68 zM533.9 92.7 l6.66 3.84 v7.68 l-6.66 3.84 l-6.66 -3.84 v-7.68 zM547.3 92.7 l6.66 3.84 v7.68 l-6.66 3.84 l-6.66 -3.84 v-7.68 zM560.6 92.7 l6.66 3.84 v7.68 l-6.66 3.84 l-6.66 -3.84 v-7.68 zM573.9 92.7 l6.66 3.84 v7.68 l-6.66 3.84 l-6.66 -3.84 v-7.68 zM587.2 92.7 l6.66 3.84 v7.68 l-6.66 3.84 l-6.66 -3.84 v-7.68 zM600.5 92.7 l6.66 3.84 v7.68 l-6.66 3.84 l-6.66 -3.84 v-7.68 zM613.8 92.7 l6.66 3.84 v7.68 l-6.66 3.84 l-6.66 -3.84 v-7.68 zM627.1 92.7 l6.66 3.84 v7.68 l-6.66 3.84 l-6.66 -3.84 v-7.68 zM640.4 92.7 l6.66 3.84 v7.68 l-6.66 3.84 l-6.66 -3.84 v-7.68 zM653.7 92.7 l6.66 3.84 v7.68 l-6.66 3.84 l-6.66 -3.84 v-7.68 zM667.0 92.7 l6.66 3.84 v7.68 l-6.66 3.84 l-6.66 -3.84 v-7.68 zM680.4 92.7 l6.66 3.84 v7.68 l-6.66 3.84 l-6.66 -3.84 v-7.68 zM693.7 92.7 l6.66 3.84 v7.68 l-6.66 3.84 l-6.66 -3.84 v-7.68 zM707.0 92.7 l6.66 3.84 v7.68 l-6.66 3.84 l-6.66 -3.84 v-7.68 zM733.6 92.7 l6.66 3.84 v7.68 l-6.66 3.84 l-6.66 -3.84 v-7.68 zM760.2 92.7 l6.66 3.84 v7.68 l-6.66 3.84 l-6.66 -3.84 v-7.68 zM840.1 92.7 l6.66 3.84 v7.68 l-6.66 3.84 l-6.66 -3.84 v-7.68 zM853.4 92.7 l6.66 3.84 v7.68 l-6.66 3.84 l-6.66 -3.84 v-7.68 zM866.7 92.7 l6.66 3.84 v7.68 l-6.66 3.84 l-6.66 -3.84 v-7.68 zM380.9 104.2 l6.66 3.84 v7.68 l-6.66 3.84 l-6.66 -3.84 v-7.68 zM394.2 104.2 l6.66 3.84 v7.68 l-6.66 3.84 l-6.66 -3.84 v-7.68 zM407.5 104.2 l6.66 3.84 v7.68 l-6.66 3.84 l-6.66 -3.84 v-7.68 zM420.8 104.2 l6.66 3.84 v7.68 l-6.66 3.84 l-6.66 -3.84 v-7.68 zM434.1 104.2 l6.66 3.84 v7.68 l-6.66 3.84 l-6.66 -3.84 v-7.68 zM447.4 104.2 l6.66 3.84 v7.68 l-6.66 3.84 l-6.66 -3.84 v-7.68 zM460.7 104.2 l6.66 3.84 v7.68 l-6.66 3.84 l-6.66 -3.84 v-7.68 zM474.0 104.2 l6.66 3.84 v7.68 l-6.66 3.84 l-6.66 -3.84 v-7.68 zM487.4 104.2 l6.66 3.84 v7.68 l-6.66 3.84 l-6.66 -3.84 v-7.68 zM500.7 104.2 l6.66 3.84 v7.68 l-6.66 3.84 l-6.66 -3.84 v-7.68 zM527.3 104.2 l6.66 3.84 v7.68 l-6.66 3.84 l-6.66 -3.84 v-7.68 zM540.6 104.2 l6.66 3.84 v7.68 l-6.66 3.84 l-6.66 -3.84 v-7.68 zM553.9 104.2 l6.66 3.84 v7.68 l-6.66 3.84 l-6.66 -3.84 v-7.68 zM567.2 104.2 l6.66 3.84 v7.68 l-6.66 3.84 l-6.66 -3.84 v-7.68 zM580.5 104.2 l6.66 3.84 v7.68 l-6.66 3.84 l-6.66 -3.84 v-7.68 zM593.8 104.2 l6.66 3.84 v7.68 l-6.66 3.84 l-6.66 -3.84 v-7.68 zM607.1 104.2 l6.66 3.84 v7.68 l-6.66 3.84 l-6.66 -3.84 v-7.68 zM620.5 104.2 l6.66 3.84 v7.68 l-6.66 3.84 l-6.66 -3.84 v-7.68 zM633.8 104.2 l6.66 3.84 v7.68 l-6.66 3.84 l-6.66 -3.84 v-7.68 zM647.1 104.2 l6.66 3.84 v7.68 l-6.66 3.84 l-6.66 -3.84 v-7.68 zM660.4 104.2 l6.66 3.84 v7.68 l-6.66 3.84 l-6.66 -3.84 v-7.68 zM673.7 104.2 l6.66 3.84 v7.68 l-6.66 3.84 l-6.66 -3.84 v-7.68 zM687.0 104.2 l6.66 3.84 v7.68 l-6.66 3.84 l-6.66 -3.84 v-7.68 zM713.6 104.2 l6.66 3.84 v7.68 l-6.66 3.84 l-6.66 -3.84 v-7.68 zM726.9 104.2 l6.66 3.84 v7.68 l-6.66 3.84 l-6.66 -3.84 v-7.68 zM740.2 104.2 l6.66 3.84 v7.68 l-6.66 3.84 l-6.66 -3.84 v-7.68 zM387.5 115.7 l6.66 3.84 v7.68 l-6.66 3.84 l-6.66 -3.84 v-7.68 zM400.8 115.7 l6.66 3.84 v7.68 l-6.66 3.84 l-6.66 -3.84 v-7.68 zM414.2 115.7 l6.66 3.84 v7.68 l-6.66 3.84 l-6.66 -3.84 v-7.68 zM427.5 115.7 l6.66 3.84 v7.68 l-6.66 3.84 l-6.66 -3.84 v-7.68 zM440.8 115.7 l6.66 3.84 v7.68 l-6.66 3.84 l-6.66 -3.84 v-7.68 zM454.1 115.7 l6.66 3.84 v7.68 l-6.66 3.84 l-6.66 -3.84 v-7.68 zM467.4 115.7 l6.66 3.84 v7.68 l-6.66 3.84 l-6.66 -3.84 v-7.68 zM480.7 115.7 l6.66 3.84 v7.68 l-6.66 3.84 l-6.66 -3.84 v-7.68 zM494.0 115.7 l6.66 3.84 v7.68 l-6.66 3.84 l-6.66 -3.84 v-7.68 zM507.3 115.7 l6.66 3.84 v7.68 l-6.66 3.84 l-6.66 -3.84 v-7.68 zM520.6 115.7 l6.66 3.84 v7.68 l-6.66 3.84 l-6.66 -3.84 v-7.68 zM533.9 115.7 l6.66 3.84 v7.68 l-6.66 3.84 l-6.66 -3.84 v-7.68 zM547.3 115.7 l6.66 3.84 v7.68 l-6.66 3.84 l-6.66 -3.84 v-7.68 zM560.6 115.7 l6.66 3.84 v7.68 l-6.66 3.84 l-6.66 -3.84 v-7.68 zM573.9 115.7 l6.66 3.84 v7.68 l-6.66 3.84 l-6.66 -3.84 v-7.68 zM587.2 115.7 l6.66 3.84 v7.68 l-6.66 3.84 l-6.66 -3.84 v-7.68 zM600.5 115.7 l6.66 3.84 v7.68 l-6.66 3.84 l-6.66 -3.84 v-7.68 zM613.8 115.7 l6.66 3.84 v7.68 l-6.66 3.84 l-6.66 -3.84 v-7.68 zM627.1 115.7 l6.66 3.84 v7.68 l-6.66 3.84 l-6.66 -3.84 v-7.68 zM653.7 115.7 l6.66 3.84 v7.68 l-6.66 3.84 l-6.66 -3.84 v-7.68 zM680.4 115.7 l6.66 3.84 v7.68 l-6.66 3.84 l-6.66 -3.84 v-7.68 zM693.7 115.7 l6.66 3.84 v7.68 l-6.66 3.84 l-6.66 -3.84 v-7.68 zM707.0 115.7 l6.66 3.84 v7.68 l-6.66 3.84 l-6.66 -3.84 v-7.68 zM720.3 115.7 l6.66 3.84 v7.68 l-6.66 3.84 l-6.66 -3.84 v-7.68 zM733.6 115.7 l6.66 3.84 v7.68 l-6.66 3.84 l-6.66 -3.84 v-7.68 zM746.9 115.7 l6.66 3.84 v7.68 l-6.66 3.84 l-6.66 -3.84 v-7.68 zM880.0 115.7 l6.66 3.84 v7.68 l-6.66 3.84 l-6.66 -3.84 v-7.68 zM380.9 127.2 l6.66 3.84 v7.68 l-6.66 3.84 l-6.66 -3.84 v-7.68 zM394.2 127.2 l6.66 3.84 v7.68 l-6.66 3.84 l-6.66 -3.84 v-7.68 zM407.5 127.2 l6.66 3.84 v7.68 l-6.66 3.84 l-6.66 -3.84 v-7.68 zM420.8 127.2 l6.66 3.84 v7.68 l-6.66 3.84 l-6.66 -3.84 v-7.68 zM434.1 127.2 l6.66 3.84 v7.68 l-6.66 3.84 l-6.66 -3.84 v-7.68 zM447.4 127.2 l6.66 3.84 v7.68 l-6.66 3.84 l-6.66 -3.84 v-7.68 zM460.7 127.2 l6.66 3.84 v7.68 l-6.66 3.84 l-6.66 -3.84 v-7.68 zM474.0 127.2 l6.66 3.84 v7.68 l-6.66 3.84 l-6.66 -3.84 v-7.68 zM487.4 127.2 l6.66 3.84 v7.68 l-6.66 3.84 l-6.66 -3.84 v-7.68 zM500.7 127.2 l6.66 3.84 v7.68 l-6.66 3.84 l-6.66 -3.84 v-7.68 zM514.0 127.2 l6.66 3.84 v7.68 l-6.66 3.84 l-6.66 -3.84 v-7.68 zM527.3 127.2 l6.66 3.84 v7.68 l-6.66 3.84 l-6.66 -3.84 v-7.68 zM540.6 127.2 l6.66 3.84 v7.68 l-6.66 3.84 l-6.66 -3.84 v-7.68 zM553.9 127.2 l6.66 3.84 v7.68 l-6.66 3.84 l-6.66 -3.84 v-7.68 zM567.2 127.2 l6.66 3.84 v7.68 l-6.66 3.84 l-6.66 -3.84 v-7.68 zM580.5 127.2 l6.66 3.84 v7.68 l-6.66 3.84 l-6.66 -3.84 v-7.68 zM593.8 127.2 l6.66 3.84 v7.68 l-6.66 3.84 l-6.66 -3.84 v-7.68 zM607.1 127.2 l6.66 3.84 v7.68 l-6.66 3.84 l-6.66 -3.84 v-7.68 zM620.5 127.2 l6.66 3.84 v7.68 l-6.66 3.84 l-6.66 -3.84 v-7.68 zM647.1 127.2 l6.66 3.84 v7.68 l-6.66 3.84 l-6.66 -3.84 v-7.68 zM660.4 127.2 l6.66 3.84 v7.68 l-6.66 3.84 l-6.66 -3.84 v-7.68 zM687.0 127.2 l6.66 3.84 v7.68 l-6.66 3.84 l-6.66 -3.84 v-7.68 zM700.3 127.2 l6.66 3.84 v7.68 l-6.66 3.84 l-6.66 -3.84 v-7.68 zM713.6 127.2 l6.66 3.84 v7.68 l-6.66 3.84 l-6.66 -3.84 v-7.68 zM726.9 127.2 l6.66 3.84 v7.68 l-6.66 3.84 l-6.66 -3.84 v-7.68 zM740.2 127.2 l6.66 3.84 v7.68 l-6.66 3.84 l-6.66 -3.84 v-7.68 zM753.6 127.2 l6.66 3.84 v7.68 l-6.66 3.84 l-6.66 -3.84 v-7.68 zM766.9 127.2 l6.66 3.84 v7.68 l-6.66 3.84 l-6.66 -3.84 v-7.68 zM793.5 127.2 l6.66 3.84 v7.68 l-6.66 3.84 l-6.66 -3.84 v-7.68 zM806.8 127.2 l6.66 3.84 v7.68 l-6.66 3.84 l-6.66 -3.84 v-7.68 zM860.0 127.2 l6.66 3.84 v7.68 l-6.66 3.84 l-6.66 -3.84 v-7.68 zM387.5 138.7 l6.66 3.84 v7.68 l-6.66 3.84 l-6.66 -3.84 v-7.68 zM400.8 138.7 l6.66 3.84 v7.68 l-6.66 3.84 l-6.66 -3.84 v-7.68 zM414.2 138.7 l6.66 3.84 v7.68 l-6.66 3.84 l-6.66 -3.84 v-7.68 zM427.5 138.7 l6.66 3.84 v7.68 l-6.66 3.84 l-6.66 -3.84 v-7.68 zM440.8 138.7 l6.66 3.84 v7.68 l-6.66 3.84 l-6.66 -3.84 v-7.68 zM454.1 138.7 l6.66 3.84 v7.68 l-6.66 3.84 l-6.66 -3.84 v-7.68 zM467.4 138.7 l6.66 3.84 v7.68 l-6.66 3.84 l-6.66 -3.84 v-7.68 zM480.7 138.7 l6.66 3.84 v7.68 l-6.66 3.84 l-6.66 -3.84 v-7.68 zM494.0 138.7 l6.66 3.84 v7.68 l-6.66 3.84 l-6.66 -3.84 v-7.68 zM507.3 138.7 l6.66 3.84 v7.68 l-6.66 3.84 l-6.66 -3.84 v-7.68 zM520.6 138.7 l6.66 3.84 v7.68 l-6.66 3.84 l-6.66 -3.84 v-7.68 zM533.9 138.7 l6.66 3.84 v7.68 l-6.66 3.84 l-6.66 -3.84 v-7.68 zM547.3 138.7 l6.66 3.84 v7.68 l-6.66 3.84 l-6.66 -3.84 v-7.68 zM560.6 138.7 l6.66 3.84 v7.68 l-6.66 3.84 l-6.66 -3.84 v-7.68 zM573.9 138.7 l6.66 3.84 v7.68 l-6.66 3.84 l-6.66 -3.84 v-7.68 zM587.2 138.7 l6.66 3.84 v7.68 l-6.66 3.84 l-6.66 -3.84 v-7.68 zM600.5 138.7 l6.66 3.84 v7.68 l-6.66 3.84 l-6.66 -3.84 v-7.68 zM613.8 138.7 l6.66 3.84 v7.68 l-6.66 3.84 l-6.66 -3.84 v-7.68 zM627.1 138.7 l6.66 3.84 v7.68 l-6.66 3.84 l-6.66 -3.84 v-7.68 zM667.0 138.7 l6.66 3.84 v7.68 l-6.66 3.84 l-6.66 -3.84 v-7.68 zM693.7 138.7 l6.66 3.84 v7.68 l-6.66 3.84 l-6.66 -3.84 v-7.68 zM707.0 138.7 l6.66 3.84 v7.68 l-6.66 3.84 l-6.66 -3.84 v-7.68 zM720.3 138.7 l6.66 3.84 v7.68 l-6.66 3.84 l-6.66 -3.84 v-7.68 zM733.6 138.7 l6.66 3.84 v7.68 l-6.66 3.84 l-6.66 -3.84 v-7.68 zM746.9 138.7 l6.66 3.84 v7.68 l-6.66 3.84 l-6.66 -3.84 v-7.68 zM760.2 138.7 l6.66 3.84 v7.68 l-6.66 3.84 l-6.66 -3.84 v-7.68 zM773.5 138.7 l6.66 3.84 v7.68 l-6.66 3.84 l-6.66 -3.84 v-7.68 zM786.8 138.7 l6.66 3.84 v7.68 l-6.66 3.84 l-6.66 -3.84 v-7.68 zM800.1 138.7 l6.66 3.84 v7.68 l-6.66 3.84 l-6.66 -3.84 v-7.68 zM853.4 138.7 l6.66 3.84 v7.68 l-6.66 3.84 l-6.66 -3.84 v-7.68 zM394.2 150.3 l6.66 3.84 v7.68 l-6.66 3.84 l-6.66 -3.84 v-7.68 zM407.5 150.3 l6.66 3.84 v7.68 l-6.66 3.84 l-6.66 -3.84 v-7.68 zM420.8 150.3 l6.66 3.84 v7.68 l-6.66 3.84 l-6.66 -3.84 v-7.68 zM447.4 150.3 l6.66 3.84 v7.68 l-6.66 3.84 l-6.66 -3.84 v-7.68 zM460.7 150.3 l6.66 3.84 v7.68 l-6.66 3.84 l-6.66 -3.84 v-7.68 zM474.0 150.3 l6.66 3.84 v7.68 l-6.66 3.84 l-6.66 -3.84 v-7.68 zM487.4 150.3 l6.66 3.84 v7.68 l-6.66 3.84 l-6.66 -3.84 v-7.68 zM500.7 150.3 l6.66 3.84 v7.68 l-6.66 3.84 l-6.66 -3.84 v-7.68 zM514.0 150.3 l6.66 3.84 v7.68 l-6.66 3.84 l-6.66 -3.84 v-7.68 zM527.3 150.3 l6.66 3.84 v7.68 l-6.66 3.84 l-6.66 -3.84 v-7.68 zM540.6 150.3 l6.66 3.84 v7.68 l-6.66 3.84 l-6.66 -3.84 v-7.68 zM553.9 150.3 l6.66 3.84 v7.68 l-6.66 3.84 l-6.66 -3.84 v-7.68 zM567.2 150.3 l6.66 3.84 v7.68 l-6.66 3.84 l-6.66 -3.84 v-7.68 zM580.5 150.3 l6.66 3.84 v7.68 l-6.66 3.84 l-6.66 -3.84 v-7.68 zM593.8 150.3 l6.66 3.84 v7.68 l-6.66 3.84 l-6.66 -3.84 v-7.68 zM607.1 150.3 l6.66 3.84 v7.68 l-6.66 3.84 l-6.66 -3.84 v-7.68 zM620.5 150.3 l6.66 3.84 v7.68 l-6.66 3.84 l-6.66 -3.84 v-7.68 zM633.8 150.3 l6.66 3.84 v7.68 l-6.66 3.84 l-6.66 -3.84 v-7.68 zM647.1 150.3 l6.66 3.84 v7.68 l-6.66 3.84 l-6.66 -3.84 v-7.68 zM660.4 150.3 l6.66 3.84 v7.68 l-6.66 3.84 l-6.66 -3.84 v-7.68 zM700.3 150.3 l6.66 3.84 v7.68 l-6.66 3.84 l-6.66 -3.84 v-7.68 zM713.6 150.3 l6.66 3.84 v7.68 l-6.66 3.84 l-6.66 -3.84 v-7.68 zM726.9 150.3 l6.66 3.84 v7.68 l-6.66 3.84 l-6.66 -3.84 v-7.68 zM740.2 150.3 l6.66 3.84 v7.68 l-6.66 3.84 l-6.66 -3.84 v-7.68 zM753.6 150.3 l6.66 3.84 v7.68 l-6.66 3.84 l-6.66 -3.84 v-7.68 zM766.9 150.3 l6.66 3.84 v7.68 l-6.66 3.84 l-6.66 -3.84 v-7.68 zM780.2 150.3 l6.66 3.84 v7.68 l-6.66 3.84 l-6.66 -3.84 v-7.68 zM793.5 150.3 l6.66 3.84 v7.68 l-6.66 3.84 l-6.66 -3.84 v-7.68 zM806.8 150.3 l6.66 3.84 v7.68 l-6.66 3.84 l-6.66 -3.84 v-7.68 zM846.7 150.3 l6.66 3.84 v7.68 l-6.66 3.84 l-6.66 -3.84 v-7.68 zM873.4 150.3 l6.66 3.84 v7.68 l-6.66 3.84 l-6.66 -3.84 v-7.68 zM374.2 161.8 l6.66 3.84 v7.68 l-6.66 3.84 l-6.66 -3.84 v-7.68 zM387.5 161.8 l6.66 3.84 v7.68 l-6.66 3.84 l-6.66 -3.84 v-7.68 zM400.8 161.8 l6.66 3.84 v7.68 l-6.66 3.84 l-6.66 -3.84 v-7.68 zM414.2 161.8 l6.66 3.84 v7.68 l-6.66 3.84 l-6.66 -3.84 v-7.68 zM427.5 161.8 l6.66 3.84 v7.68 l-6.66 3.84 l-6.66 -3.84 v-7.68 zM440.8 161.8 l6.66 3.84 v7.68 l-6.66 3.84 l-6.66 -3.84 v-7.68 zM454.1 161.8 l6.66 3.84 v7.68 l-6.66 3.84 l-6.66 -3.84 v-7.68 zM467.4 161.8 l6.66 3.84 v7.68 l-6.66 3.84 l-6.66 -3.84 v-7.68 zM480.7 161.8 l6.66 3.84 v7.68 l-6.66 3.84 l-6.66 -3.84 v-7.68 zM494.0 161.8 l6.66 3.84 v7.68 l-6.66 3.84 l-6.66 -3.84 v-7.68 zM507.3 161.8 l6.66 3.84 v7.68 l-6.66 3.84 l-6.66 -3.84 v-7.68 zM520.6 161.8 l6.66 3.84 v7.68 l-6.66 3.84 l-6.66 -3.84 v-7.68 zM533.9 161.8 l6.66 3.84 v7.68 l-6.66 3.84 l-6.66 -3.84 v-7.68 zM547.3 161.8 l6.66 3.84 v7.68 l-6.66 3.84 l-6.66 -3.84 v-7.68 zM560.6 161.8 l6.66 3.84 v7.68 l-6.66 3.84 l-6.66 -3.84 v-7.68 zM573.9 161.8 l6.66 3.84 v7.68 l-6.66 3.84 l-6.66 -3.84 v-7.68 zM587.2 161.8 l6.66 3.84 v7.68 l-6.66 3.84 l-6.66 -3.84 v-7.68 zM600.5 161.8 l6.66 3.84 v7.68 l-6.66 3.84 l-6.66 -3.84 v-7.68 zM627.1 161.8 l6.66 3.84 v7.68 l-6.66 3.84 l-6.66 -3.84 v-7.68 zM640.4 161.8 l6.66 3.84 v7.68 l-6.66 3.84 l-6.66 -3.84 v-7.68 zM653.7 161.8 l6.66 3.84 v7.68 l-6.66 3.84 l-6.66 -3.84 v-7.68 zM667.0 161.8 l6.66 3.84 v7.68 l-6.66 3.84 l-6.66 -3.84 v-7.68 zM680.4 161.8 l6.66 3.84 v7.68 l-6.66 3.84 l-6.66 -3.84 v-7.68 zM693.7 161.8 l6.66 3.84 v7.68 l-6.66 3.84 l-6.66 -3.84 v-7.68 zM707.0 161.8 l6.66 3.84 v7.68 l-6.66 3.84 l-6.66 -3.84 v-7.68 zM720.3 161.8 l6.66 3.84 v7.68 l-6.66 3.84 l-6.66 -3.84 v-7.68 zM733.6 161.8 l6.66 3.84 v7.68 l-6.66 3.84 l-6.66 -3.84 v-7.68 zM746.9 161.8 l6.66 3.84 v7.68 l-6.66 3.84 l-6.66 -3.84 v-7.68 zM760.2 161.8 l6.66 3.84 v7.68 l-6.66 3.84 l-6.66 -3.84 v-7.68 zM773.5 161.8 l6.66 3.84 v7.68 l-6.66 3.84 l-6.66 -3.84 v-7.68 zM786.8 161.8 l6.66 3.84 v7.68 l-6.66 3.84 l-6.66 -3.84 v-7.68 zM800.1 161.8 l6.66 3.84 v7.68 l-6.66 3.84 l-6.66 -3.84 v-7.68 zM826.8 161.8 l6.66 3.84 v7.68 l-6.66 3.84 l-6.66 -3.84 v-7.68 zM840.1 161.8 l6.66 3.84 v7.68 l-6.66 3.84 l-6.66 -3.84 v-7.68 zM866.7 161.8 l6.66 3.84 v7.68 l-6.66 3.84 l-6.66 -3.84 v-7.68 zM380.9 173.3 l6.66 3.84 v7.68 l-6.66 3.84 l-6.66 -3.84 v-7.68 zM394.2 173.3 l6.66 3.84 v7.68 l-6.66 3.84 l-6.66 -3.84 v-7.68 zM407.5 173.3 l6.66 3.84 v7.68 l-6.66 3.84 l-6.66 -3.84 v-7.68 zM420.8 173.3 l6.66 3.84 v7.68 l-6.66 3.84 l-6.66 -3.84 v-7.68 zM434.1 173.3 l6.66 3.84 v7.68 l-6.66 3.84 l-6.66 -3.84 v-7.68 zM447.4 173.3 l6.66 3.84 v7.68 l-6.66 3.84 l-6.66 -3.84 v-7.68 zM460.7 173.3 l6.66 3.84 v7.68 l-6.66 3.84 l-6.66 -3.84 v-7.68 zM474.0 173.3 l6.66 3.84 v7.68 l-6.66 3.84 l-6.66 -3.84 v-7.68 zM487.4 173.3 l6.66 3.84 v7.68 l-6.66 3.84 l-6.66 -3.84 v-7.68 zM500.7 173.3 l6.66 3.84 v7.68 l-6.66 3.84 l-6.66 -3.84 v-7.68 zM514.0 173.3 l6.66 3.84 v7.68 l-6.66 3.84 l-6.66 -3.84 v-7.68 zM527.3 173.3 l6.66 3.84 v7.68 l-6.66 3.84 l-6.66 -3.84 v-7.68 zM553.9 173.3 l6.66 3.84 v7.68 l-6.66 3.84 l-6.66 -3.84 v-7.68 zM580.5 173.3 l6.66 3.84 v7.68 l-6.66 3.84 l-6.66 -3.84 v-7.68 zM593.8 173.3 l6.66 3.84 v7.68 l-6.66 3.84 l-6.66 -3.84 v-7.68 zM620.5 173.3 l6.66 3.84 v7.68 l-6.66 3.84 l-6.66 -3.84 v-7.68 zM633.8 173.3 l6.66 3.84 v7.68 l-6.66 3.84 l-6.66 -3.84 v-7.68 zM647.1 173.3 l6.66 3.84 v7.68 l-6.66 3.84 l-6.66 -3.84 v-7.68 zM660.4 173.3 l6.66 3.84 v7.68 l-6.66 3.84 l-6.66 -3.84 v-7.68 zM673.7 173.3 l6.66 3.84 v7.68 l-6.66 3.84 l-6.66 -3.84 v-7.68 zM687.0 173.3 l6.66 3.84 v7.68 l-6.66 3.84 l-6.66 -3.84 v-7.68 zM700.3 173.3 l6.66 3.84 v7.68 l-6.66 3.84 l-6.66 -3.84 v-7.68 zM713.6 173.3 l6.66 3.84 v7.68 l-6.66 3.84 l-6.66 -3.84 v-7.68 zM726.9 173.3 l6.66 3.84 v7.68 l-6.66 3.84 l-6.66 -3.84 v-7.68 zM740.2 173.3 l6.66 3.84 v7.68 l-6.66 3.84 l-6.66 -3.84 v-7.68 zM753.6 173.3 l6.66 3.84 v7.68 l-6.66 3.84 l-6.66 -3.84 v-7.68 zM766.9 173.3 l6.66 3.84 v7.68 l-6.66 3.84 l-6.66 -3.84 v-7.68 zM780.2 173.3 l6.66 3.84 v7.68 l-6.66 3.84 l-6.66 -3.84 v-7.68 zM793.5 173.3 l6.66 3.84 v7.68 l-6.66 3.84 l-6.66 -3.84 v-7.68 zM806.8 173.3 l6.66 3.84 v7.68 l-6.66 3.84 l-6.66 -3.84 v-7.68 zM820.1 173.3 l6.66 3.84 v7.68 l-6.66 3.84 l-6.66 -3.84 v-7.68 zM833.4 173.3 l6.66 3.84 v7.68 l-6.66 3.84 l-6.66 -3.84 v-7.68 zM846.7 173.3 l6.66 3.84 v7.68 l-6.66 3.84 l-6.66 -3.84 v-7.68 zM873.4 173.3 l6.66 3.84 v7.68 l-6.66 3.84 l-6.66 -3.84 v-7.68 zM886.7 173.3 l6.66 3.84 v7.68 l-6.66 3.84 l-6.66 -3.84 v-7.68 zM900.0 173.3 l6.66 3.84 v7.68 l-6.66 3.84 l-6.66 -3.84 v-7.68 zM360.9 184.8 l6.66 3.84 v7.68 l-6.66 3.84 l-6.66 -3.84 v-7.68 zM374.2 184.8 l6.66 3.84 v7.68 l-6.66 3.84 l-6.66 -3.84 v-7.68 zM387.5 184.8 l6.66 3.84 v7.68 l-6.66 3.84 l-6.66 -3.84 v-7.68 zM400.8 184.8 l6.66 3.84 v7.68 l-6.66 3.84 l-6.66 -3.84 v-7.68 zM414.2 184.8 l6.66 3.84 v7.68 l-6.66 3.84 l-6.66 -3.84 v-7.68 zM427.5 184.8 l6.66 3.84 v7.68 l-6.66 3.84 l-6.66 -3.84 v-7.68 zM440.8 184.8 l6.66 3.84 v7.68 l-6.66 3.84 l-6.66 -3.84 v-7.68 zM454.1 184.8 l6.66 3.84 v7.68 l-6.66 3.84 l-6.66 -3.84 v-7.68 zM467.4 184.8 l6.66 3.84 v7.68 l-6.66 3.84 l-6.66 -3.84 v-7.68 zM480.7 184.8 l6.66 3.84 v7.68 l-6.66 3.84 l-6.66 -3.84 v-7.68 zM494.0 184.8 l6.66 3.84 v7.68 l-6.66 3.84 l-6.66 -3.84 v-7.68 zM507.3 184.8 l6.66 3.84 v7.68 l-6.66 3.84 l-6.66 -3.84 v-7.68 zM520.6 184.8 l6.66 3.84 v7.68 l-6.66 3.84 l-6.66 -3.84 v-7.68 zM533.9 184.8 l6.66 3.84 v7.68 l-6.66 3.84 l-6.66 -3.84 v-7.68 zM547.3 184.8 l6.66 3.84 v7.68 l-6.66 3.84 l-6.66 -3.84 v-7.68 zM560.6 184.8 l6.66 3.84 v7.68 l-6.66 3.84 l-6.66 -3.84 v-7.68 zM573.9 184.8 l6.66 3.84 v7.68 l-6.66 3.84 l-6.66 -3.84 v-7.68 zM587.2 184.8 l6.66 3.84 v7.68 l-6.66 3.84 l-6.66 -3.84 v-7.68 zM613.8 184.8 l6.66 3.84 v7.68 l-6.66 3.84 l-6.66 -3.84 v-7.68 zM627.1 184.8 l6.66 3.84 v7.68 l-6.66 3.84 l-6.66 -3.84 v-7.68 zM640.4 184.8 l6.66 3.84 v7.68 l-6.66 3.84 l-6.66 -3.84 v-7.68 zM653.7 184.8 l6.66 3.84 v7.68 l-6.66 3.84 l-6.66 -3.84 v-7.68 zM667.0 184.8 l6.66 3.84 v7.68 l-6.66 3.84 l-6.66 -3.84 v-7.68 zM693.7 184.8 l6.66 3.84 v7.68 l-6.66 3.84 l-6.66 -3.84 v-7.68 zM707.0 184.8 l6.66 3.84 v7.68 l-6.66 3.84 l-6.66 -3.84 v-7.68 zM720.3 184.8 l6.66 3.84 v7.68 l-6.66 3.84 l-6.66 -3.84 v-7.68 zM733.6 184.8 l6.66 3.84 v7.68 l-6.66 3.84 l-6.66 -3.84 v-7.68 zM746.9 184.8 l6.66 3.84 v7.68 l-6.66 3.84 l-6.66 -3.84 v-7.68 zM773.5 184.8 l6.66 3.84 v7.68 l-6.66 3.84 l-6.66 -3.84 v-7.68 zM786.8 184.8 l6.66 3.84 v7.68 l-6.66 3.84 l-6.66 -3.84 v-7.68 zM800.1 184.8 l6.66 3.84 v7.68 l-6.66 3.84 l-6.66 -3.84 v-7.68 zM813.5 184.8 l6.66 3.84 v7.68 l-6.66 3.84 l-6.66 -3.84 v-7.68 zM826.8 184.8 l6.66 3.84 v7.68 l-6.66 3.84 l-6.66 -3.84 v-7.68 zM840.1 184.8 l6.66 3.84 v7.68 l-6.66 3.84 l-6.66 -3.84 v-7.68 zM853.4 184.8 l6.66 3.84 v7.68 l-6.66 3.84 l-6.66 -3.84 v-7.68 zM880.0 184.8 l6.66 3.84 v7.68 l-6.66 3.84 l-6.66 -3.84 v-7.68 zM893.3 184.8 l6.66 3.84 v7.68 l-6.66 3.84 l-6.66 -3.84 v-7.68 zM340.9 196.3 l6.66 3.84 v7.68 l-6.66 3.84 l-6.66 -3.84 v-7.68 zM367.6 196.3 l6.66 3.84 v7.68 l-6.66 3.84 l-6.66 -3.84 v-7.68 zM380.9 196.3 l6.66 3.84 v7.68 l-6.66 3.84 l-6.66 -3.84 v-7.68 zM407.5 196.3 l6.66 3.84 v7.68 l-6.66 3.84 l-6.66 -3.84 v-7.68 zM420.8 196.3 l6.66 3.84 v7.68 l-6.66 3.84 l-6.66 -3.84 v-7.68 zM434.1 196.3 l6.66 3.84 v7.68 l-6.66 3.84 l-6.66 -3.84 v-7.68 zM447.4 196.3 l6.66 3.84 v7.68 l-6.66 3.84 l-6.66 -3.84 v-7.68 zM460.7 196.3 l6.66 3.84 v7.68 l-6.66 3.84 l-6.66 -3.84 v-7.68 zM474.0 196.3 l6.66 3.84 v7.68 l-6.66 3.84 l-6.66 -3.84 v-7.68 zM487.4 196.3 l6.66 3.84 v7.68 l-6.66 3.84 l-6.66 -3.84 v-7.68 zM500.7 196.3 l6.66 3.84 v7.68 l-6.66 3.84 l-6.66 -3.84 v-7.68 zM514.0 196.3 l6.66 3.84 v7.68 l-6.66 3.84 l-6.66 -3.84 v-7.68 zM527.3 196.3 l6.66 3.84 v7.68 l-6.66 3.84 l-6.66 -3.84 v-7.68 zM553.9 196.3 l6.66 3.84 v7.68 l-6.66 3.84 l-6.66 -3.84 v-7.68 zM567.2 196.3 l6.66 3.84 v7.68 l-6.66 3.84 l-6.66 -3.84 v-7.68 zM580.5 196.3 l6.66 3.84 v7.68 l-6.66 3.84 l-6.66 -3.84 v-7.68 zM593.8 196.3 l6.66 3.84 v7.68 l-6.66 3.84 l-6.66 -3.84 v-7.68 zM607.1 196.3 l6.66 3.84 v7.68 l-6.66 3.84 l-6.66 -3.84 v-7.68 zM620.5 196.3 l6.66 3.84 v7.68 l-6.66 3.84 l-6.66 -3.84 v-7.68 zM633.8 196.3 l6.66 3.84 v7.68 l-6.66 3.84 l-6.66 -3.84 v-7.68 zM647.1 196.3 l6.66 3.84 v7.68 l-6.66 3.84 l-6.66 -3.84 v-7.68 zM660.4 196.3 l6.66 3.84 v7.68 l-6.66 3.84 l-6.66 -3.84 v-7.68 zM673.7 196.3 l6.66 3.84 v7.68 l-6.66 3.84 l-6.66 -3.84 v-7.68 zM687.0 196.3 l6.66 3.84 v7.68 l-6.66 3.84 l-6.66 -3.84 v-7.68 zM700.3 196.3 l6.66 3.84 v7.68 l-6.66 3.84 l-6.66 -3.84 v-7.68 zM726.9 196.3 l6.66 3.84 v7.68 l-6.66 3.84 l-6.66 -3.84 v-7.68 zM753.6 196.3 l6.66 3.84 v7.68 l-6.66 3.84 l-6.66 -3.84 v-7.68 zM766.9 196.3 l6.66 3.84 v7.68 l-6.66 3.84 l-6.66 -3.84 v-7.68 zM780.2 196.3 l6.66 3.84 v7.68 l-6.66 3.84 l-6.66 -3.84 v-7.68 zM793.5 196.3 l6.66 3.84 v7.68 l-6.66 3.84 l-6.66 -3.84 v-7.68 zM806.8 196.3 l6.66 3.84 v7.68 l-6.66 3.84 l-6.66 -3.84 v-7.68 zM820.1 196.3 l6.66 3.84 v7.68 l-6.66 3.84 l-6.66 -3.84 v-7.68 zM833.4 196.3 l6.66 3.84 v7.68 l-6.66 3.84 l-6.66 -3.84 v-7.68 zM846.7 196.3 l6.66 3.84 v7.68 l-6.66 3.84 l-6.66 -3.84 v-7.68 zM860.0 196.3 l6.66 3.84 v7.68 l-6.66 3.84 l-6.66 -3.84 v-7.68 zM873.4 196.3 l6.66 3.84 v7.68 l-6.66 3.84 l-6.66 -3.84 v-7.68 zM886.7 196.3 l6.66 3.84 v7.68 l-6.66 3.84 l-6.66 -3.84 v-7.68 zM374.2 207.9 l6.66 3.84 v7.68 l-6.66 3.84 l-6.66 -3.84 v-7.68 zM387.5 207.9 l6.66 3.84 v7.68 l-6.66 3.84 l-6.66 -3.84 v-7.68 zM400.8 207.9 l6.66 3.84 v7.68 l-6.66 3.84 l-6.66 -3.84 v-7.68 zM414.2 207.9 l6.66 3.84 v7.68 l-6.66 3.84 l-6.66 -3.84 v-7.68 zM427.5 207.9 l6.66 3.84 v7.68 l-6.66 3.84 l-6.66 -3.84 v-7.68 zM440.8 207.9 l6.66 3.84 v7.68 l-6.66 3.84 l-6.66 -3.84 v-7.68 zM467.4 207.9 l6.66 3.84 v7.68 l-6.66 3.84 l-6.66 -3.84 v-7.68 zM480.7 207.9 l6.66 3.84 v7.68 l-6.66 3.84 l-6.66 -3.84 v-7.68 zM494.0 207.9 l6.66 3.84 v7.68 l-6.66 3.84 l-6.66 -3.84 v-7.68 zM507.3 207.9 l6.66 3.84 v7.68 l-6.66 3.84 l-6.66 -3.84 v-7.68 zM520.6 207.9 l6.66 3.84 v7.68 l-6.66 3.84 l-6.66 -3.84 v-7.68 zM533.9 207.9 l6.66 3.84 v7.68 l-6.66 3.84 l-6.66 -3.84 v-7.68 zM547.3 207.9 l6.66 3.84 v7.68 l-6.66 3.84 l-6.66 -3.84 v-7.68 zM560.6 207.9 l6.66 3.84 v7.68 l-6.66 3.84 l-6.66 -3.84 v-7.68 zM573.9 207.9 l6.66 3.84 v7.68 l-6.66 3.84 l-6.66 -3.84 v-7.68 zM587.2 207.9 l6.66 3.84 v7.68 l-6.66 3.84 l-6.66 -3.84 v-7.68 zM600.5 207.9 l6.66 3.84 v7.68 l-6.66 3.84 l-6.66 -3.84 v-7.68 zM613.8 207.9 l6.66 3.84 v7.68 l-6.66 3.84 l-6.66 -3.84 v-7.68 zM627.1 207.9 l6.66 3.84 v7.68 l-6.66 3.84 l-6.66 -3.84 v-7.68 zM640.4 207.9 l6.66 3.84 v7.68 l-6.66 3.84 l-6.66 -3.84 v-7.68 zM653.7 207.9 l6.66 3.84 v7.68 l-6.66 3.84 l-6.66 -3.84 v-7.68 zM667.0 207.9 l6.66 3.84 v7.68 l-6.66 3.84 l-6.66 -3.84 v-7.68 zM693.7 207.9 l6.66 3.84 v7.68 l-6.66 3.84 l-6.66 -3.84 v-7.68 zM707.0 207.9 l6.66 3.84 v7.68 l-6.66 3.84 l-6.66 -3.84 v-7.68 zM733.6 207.9 l6.66 3.84 v7.68 l-6.66 3.84 l-6.66 -3.84 v-7.68 zM746.9 207.9 l6.66 3.84 v7.68 l-6.66 3.84 l-6.66 -3.84 v-7.68 zM760.2 207.9 l6.66 3.84 v7.68 l-6.66 3.84 l-6.66 -3.84 v-7.68 zM773.5 207.9 l6.66 3.84 v7.68 l-6.66 3.84 l-6.66 -3.84 v-7.68 zM786.8 207.9 l6.66 3.84 v7.68 l-6.66 3.84 l-6.66 -3.84 v-7.68 zM800.1 207.9 l6.66 3.84 v7.68 l-6.66 3.84 l-6.66 -3.84 v-7.68 zM813.5 207.9 l6.66 3.84 v7.68 l-6.66 3.84 l-6.66 -3.84 v-7.68 zM826.8 207.9 l6.66 3.84 v7.68 l-6.66 3.84 l-6.66 -3.84 v-7.68 zM840.1 207.9 l6.66 3.84 v7.68 l-6.66 3.84 l-6.66 -3.84 v-7.68 zM866.7 207.9 l6.66 3.84 v7.68 l-6.66 3.84 l-6.66 -3.84 v-7.68 zM880.0 207.9 l6.66 3.84 v7.68 l-6.66 3.84 l-6.66 -3.84 v-7.68 zM893.3 207.9 l6.66 3.84 v7.68 l-6.66 3.84 l-6.66 -3.84 v-7.68 zM380.9 219.4 l6.66 3.84 v7.68 l-6.66 3.84 l-6.66 -3.84 v-7.68 zM394.2 219.4 l6.66 3.84 v7.68 l-6.66 3.84 l-6.66 -3.84 v-7.68 zM407.5 219.4 l6.66 3.84 v7.68 l-6.66 3.84 l-6.66 -3.84 v-7.68 zM420.8 219.4 l6.66 3.84 v7.68 l-6.66 3.84 l-6.66 -3.84 v-7.68 zM434.1 219.4 l6.66 3.84 v7.68 l-6.66 3.84 l-6.66 -3.84 v-7.68 zM447.4 219.4 l6.66 3.84 v7.68 l-6.66 3.84 l-6.66 -3.84 v-7.68 zM474.0 219.4 l6.66 3.84 v7.68 l-6.66 3.84 l-6.66 -3.84 v-7.68 zM487.4 219.4 l6.66 3.84 v7.68 l-6.66 3.84 l-6.66 -3.84 v-7.68 zM500.7 219.4 l6.66 3.84 v7.68 l-6.66 3.84 l-6.66 -3.84 v-7.68 zM514.0 219.4 l6.66 3.84 v7.68 l-6.66 3.84 l-6.66 -3.84 v-7.68 zM527.3 219.4 l6.66 3.84 v7.68 l-6.66 3.84 l-6.66 -3.84 v-7.68 zM540.6 219.4 l6.66 3.84 v7.68 l-6.66 3.84 l-6.66 -3.84 v-7.68 zM553.9 219.4 l6.66 3.84 v7.68 l-6.66 3.84 l-6.66 -3.84 v-7.68 zM567.2 219.4 l6.66 3.84 v7.68 l-6.66 3.84 l-6.66 -3.84 v-7.68 zM580.5 219.4 l6.66 3.84 v7.68 l-6.66 3.84 l-6.66 -3.84 v-7.68 zM593.8 219.4 l6.66 3.84 v7.68 l-6.66 3.84 l-6.66 -3.84 v-7.68 zM607.1 219.4 l6.66 3.84 v7.68 l-6.66 3.84 l-6.66 -3.84 v-7.68 zM620.5 219.4 l6.66 3.84 v7.68 l-6.66 3.84 l-6.66 -3.84 v-7.68 zM633.8 219.4 l6.66 3.84 v7.68 l-6.66 3.84 l-6.66 -3.84 v-7.68 zM647.1 219.4 l6.66 3.84 v7.68 l-6.66 3.84 l-6.66 -3.84 v-7.68 zM687.0 219.4 l6.66 3.84 v7.68 l-6.66 3.84 l-6.66 -3.84 v-7.68 zM700.3 219.4 l6.66 3.84 v7.68 l-6.66 3.84 l-6.66 -3.84 v-7.68 zM713.6 219.4 l6.66 3.84 v7.68 l-6.66 3.84 l-6.66 -3.84 v-7.68 zM726.9 219.4 l6.66 3.84 v7.68 l-6.66 3.84 l-6.66 -3.84 v-7.68 zM740.2 219.4 l6.66 3.84 v7.68 l-6.66 3.84 l-6.66 -3.84 v-7.68 zM753.6 219.4 l6.66 3.84 v7.68 l-6.66 3.84 l-6.66 -3.84 v-7.68 zM780.2 219.4 l6.66 3.84 v7.68 l-6.66 3.84 l-6.66 -3.84 v-7.68 zM793.5 219.4 l6.66 3.84 v7.68 l-6.66 3.84 l-6.66 -3.84 v-7.68 zM806.8 219.4 l6.66 3.84 v7.68 l-6.66 3.84 l-6.66 -3.84 v-7.68 zM820.1 219.4 l6.66 3.84 v7.68 l-6.66 3.84 l-6.66 -3.84 v-7.68 zM833.4 219.4 l6.66 3.84 v7.68 l-6.66 3.84 l-6.66 -3.84 v-7.68 zM846.7 219.4 l6.66 3.84 v7.68 l-6.66 3.84 l-6.66 -3.84 v-7.68 zM860.0 219.4 l6.66 3.84 v7.68 l-6.66 3.84 l-6.66 -3.84 v-7.68 zM886.7 219.4 l6.66 3.84 v7.68 l-6.66 3.84 l-6.66 -3.84 v-7.68 zM360.9 230.9 l6.66 3.84 v7.68 l-6.66 3.84 l-6.66 -3.84 v-7.68 zM374.2 230.9 l6.66 3.84 v7.68 l-6.66 3.84 l-6.66 -3.84 v-7.68 zM387.5 230.9 l6.66 3.84 v7.68 l-6.66 3.84 l-6.66 -3.84 v-7.68 zM400.8 230.9 l6.66 3.84 v7.68 l-6.66 3.84 l-6.66 -3.84 v-7.68 zM414.2 230.9 l6.66 3.84 v7.68 l-6.66 3.84 l-6.66 -3.84 v-7.68 zM427.5 230.9 l6.66 3.84 v7.68 l-6.66 3.84 l-6.66 -3.84 v-7.68 zM440.8 230.9 l6.66 3.84 v7.68 l-6.66 3.84 l-6.66 -3.84 v-7.68 zM454.1 230.9 l6.66 3.84 v7.68 l-6.66 3.84 l-6.66 -3.84 v-7.68 zM467.4 230.9 l6.66 3.84 v7.68 l-6.66 3.84 l-6.66 -3.84 v-7.68 zM480.7 230.9 l6.66 3.84 v7.68 l-6.66 3.84 l-6.66 -3.84 v-7.68 zM494.0 230.9 l6.66 3.84 v7.68 l-6.66 3.84 l-6.66 -3.84 v-7.68 zM507.3 230.9 l6.66 3.84 v7.68 l-6.66 3.84 l-6.66 -3.84 v-7.68 zM520.6 230.9 l6.66 3.84 v7.68 l-6.66 3.84 l-6.66 -3.84 v-7.68 zM533.9 230.9 l6.66 3.84 v7.68 l-6.66 3.84 l-6.66 -3.84 v-7.68 zM547.3 230.9 l6.66 3.84 v7.68 l-6.66 3.84 l-6.66 -3.84 v-7.68 zM560.6 230.9 l6.66 3.84 v7.68 l-6.66 3.84 l-6.66 -3.84 v-7.68 zM573.9 230.9 l6.66 3.84 v7.68 l-6.66 3.84 l-6.66 -3.84 v-7.68 zM587.2 230.9 l6.66 3.84 v7.68 l-6.66 3.84 l-6.66 -3.84 v-7.68 zM600.5 230.9 l6.66 3.84 v7.68 l-6.66 3.84 l-6.66 -3.84 v-7.68 zM613.8 230.9 l6.66 3.84 v7.68 l-6.66 3.84 l-6.66 -3.84 v-7.68 zM627.1 230.9 l6.66 3.84 v7.68 l-6.66 3.84 l-6.66 -3.84 v-7.68 zM640.4 230.9 l6.66 3.84 v7.68 l-6.66 3.84 l-6.66 -3.84 v-7.68 zM653.7 230.9 l6.66 3.84 v7.68 l-6.66 3.84 l-6.66 -3.84 v-7.68 zM667.0 230.9 l6.66 3.84 v7.68 l-6.66 3.84 l-6.66 -3.84 v-7.68 zM680.4 230.9 l6.66 3.84 v7.68 l-6.66 3.84 l-6.66 -3.84 v-7.68 zM693.7 230.9 l6.66 3.84 v7.68 l-6.66 3.84 l-6.66 -3.84 v-7.68 zM707.0 230.9 l6.66 3.84 v7.68 l-6.66 3.84 l-6.66 -3.84 v-7.68 zM720.3 230.9 l6.66 3.84 v7.68 l-6.66 3.84 l-6.66 -3.84 v-7.68 zM773.5 230.9 l6.66 3.84 v7.68 l-6.66 3.84 l-6.66 -3.84 v-7.68 zM786.8 230.9 l6.66 3.84 v7.68 l-6.66 3.84 l-6.66 -3.84 v-7.68 zM800.1 230.9 l6.66 3.84 v7.68 l-6.66 3.84 l-6.66 -3.84 v-7.68 zM813.5 230.9 l6.66 3.84 v7.68 l-6.66 3.84 l-6.66 -3.84 v-7.68 zM826.8 230.9 l6.66 3.84 v7.68 l-6.66 3.84 l-6.66 -3.84 v-7.68 zM840.1 230.9 l6.66 3.84 v7.68 l-6.66 3.84 l-6.66 -3.84 v-7.68 zM880.0 230.9 l6.66 3.84 v7.68 l-6.66 3.84 l-6.66 -3.84 v-7.68 zM893.3 230.9 l6.66 3.84 v7.68 l-6.66 3.84 l-6.66 -3.84 v-7.68 zM906.6 230.9 l6.66 3.84 v7.68 l-6.66 3.84 l-6.66 -3.84 v-7.68 zM354.3 242.4 l6.66 3.84 v7.68 l-6.66 3.84 l-6.66 -3.84 v-7.68 zM367.6 242.4 l6.66 3.84 v7.68 l-6.66 3.84 l-6.66 -3.84 v-7.68 zM380.9 242.4 l6.66 3.84 v7.68 l-6.66 3.84 l-6.66 -3.84 v-7.68 zM394.2 242.4 l6.66 3.84 v7.68 l-6.66 3.84 l-6.66 -3.84 v-7.68 zM407.5 242.4 l6.66 3.84 v7.68 l-6.66 3.84 l-6.66 -3.84 v-7.68 zM420.8 242.4 l6.66 3.84 v7.68 l-6.66 3.84 l-6.66 -3.84 v-7.68 zM434.1 242.4 l6.66 3.84 v7.68 l-6.66 3.84 l-6.66 -3.84 v-7.68 zM447.4 242.4 l6.66 3.84 v7.68 l-6.66 3.84 l-6.66 -3.84 v-7.68 zM460.7 242.4 l6.66 3.84 v7.68 l-6.66 3.84 l-6.66 -3.84 v-7.68 zM474.0 242.4 l6.66 3.84 v7.68 l-6.66 3.84 l-6.66 -3.84 v-7.68 zM487.4 242.4 l6.66 3.84 v7.68 l-6.66 3.84 l-6.66 -3.84 v-7.68 zM500.7 242.4 l6.66 3.84 v7.68 l-6.66 3.84 l-6.66 -3.84 v-7.68 zM514.0 242.4 l6.66 3.84 v7.68 l-6.66 3.84 l-6.66 -3.84 v-7.68 zM527.3 242.4 l6.66 3.84 v7.68 l-6.66 3.84 l-6.66 -3.84 v-7.68 zM540.6 242.4 l6.66 3.84 v7.68 l-6.66 3.84 l-6.66 -3.84 v-7.68 zM553.9 242.4 l6.66 3.84 v7.68 l-6.66 3.84 l-6.66 -3.84 v-7.68 zM567.2 242.4 l6.66 3.84 v7.68 l-6.66 3.84 l-6.66 -3.84 v-7.68 zM580.5 242.4 l6.66 3.84 v7.68 l-6.66 3.84 l-6.66 -3.84 v-7.68 zM593.8 242.4 l6.66 3.84 v7.68 l-6.66 3.84 l-6.66 -3.84 v-7.68 zM607.1 242.4 l6.66 3.84 v7.68 l-6.66 3.84 l-6.66 -3.84 v-7.68 zM620.5 242.4 l6.66 3.84 v7.68 l-6.66 3.84 l-6.66 -3.84 v-7.68 zM633.8 242.4 l6.66 3.84 v7.68 l-6.66 3.84 l-6.66 -3.84 v-7.68 zM647.1 242.4 l6.66 3.84 v7.68 l-6.66 3.84 l-6.66 -3.84 v-7.68 zM660.4 242.4 l6.66 3.84 v7.68 l-6.66 3.84 l-6.66 -3.84 v-7.68 zM673.7 242.4 l6.66 3.84 v7.68 l-6.66 3.84 l-6.66 -3.84 v-7.68 zM687.0 242.4 l6.66 3.84 v7.68 l-6.66 3.84 l-6.66 -3.84 v-7.68 zM700.3 242.4 l6.66 3.84 v7.68 l-6.66 3.84 l-6.66 -3.84 v-7.68 zM713.6 242.4 l6.66 3.84 v7.68 l-6.66 3.84 l-6.66 -3.84 v-7.68 zM726.9 242.4 l6.66 3.84 v7.68 l-6.66 3.84 l-6.66 -3.84 v-7.68 zM740.2 242.4 l6.66 3.84 v7.68 l-6.66 3.84 l-6.66 -3.84 v-7.68 zM766.9 242.4 l6.66 3.84 v7.68 l-6.66 3.84 l-6.66 -3.84 v-7.68 zM806.8 242.4 l6.66 3.84 v7.68 l-6.66 3.84 l-6.66 -3.84 v-7.68 zM833.4 242.4 l6.66 3.84 v7.68 l-6.66 3.84 l-6.66 -3.84 v-7.68 zM846.7 242.4 l6.66 3.84 v7.68 l-6.66 3.84 l-6.66 -3.84 v-7.68 zM860.0 242.4 l6.66 3.84 v7.68 l-6.66 3.84 l-6.66 -3.84 v-7.68 zM873.4 242.4 l6.66 3.84 v7.68 l-6.66 3.84 l-6.66 -3.84 v-7.68 zM886.7 242.4 l6.66 3.84 v7.68 l-6.66 3.84 l-6.66 -3.84 v-7.68 zM347.6 253.9 l6.66 3.84 v7.68 l-6.66 3.84 l-6.66 -3.84 v-7.68 zM360.9 253.9 l6.66 3.84 v7.68 l-6.66 3.84 l-6.66 -3.84 v-7.68 zM374.2 253.9 l6.66 3.84 v7.68 l-6.66 3.84 l-6.66 -3.84 v-7.68 zM387.5 253.9 l6.66 3.84 v7.68 l-6.66 3.84 l-6.66 -3.84 v-7.68 zM400.8 253.9 l6.66 3.84 v7.68 l-6.66 3.84 l-6.66 -3.84 v-7.68 zM414.2 253.9 l6.66 3.84 v7.68 l-6.66 3.84 l-6.66 -3.84 v-7.68 zM427.5 253.9 l6.66 3.84 v7.68 l-6.66 3.84 l-6.66 -3.84 v-7.68 zM440.8 253.9 l6.66 3.84 v7.68 l-6.66 3.84 l-6.66 -3.84 v-7.68 zM454.1 253.9 l6.66 3.84 v7.68 l-6.66 3.84 l-6.66 -3.84 v-7.68 zM467.4 253.9 l6.66 3.84 v7.68 l-6.66 3.84 l-6.66 -3.84 v-7.68 zM480.7 253.9 l6.66 3.84 v7.68 l-6.66 3.84 l-6.66 -3.84 v-7.68 zM494.0 253.9 l6.66 3.84 v7.68 l-6.66 3.84 l-6.66 -3.84 v-7.68 zM507.3 253.9 l6.66 3.84 v7.68 l-6.66 3.84 l-6.66 -3.84 v-7.68 zM520.6 253.9 l6.66 3.84 v7.68 l-6.66 3.84 l-6.66 -3.84 v-7.68 zM533.9 253.9 l6.66 3.84 v7.68 l-6.66 3.84 l-6.66 -3.84 v-7.68 zM560.6 253.9 l6.66 3.84 v7.68 l-6.66 3.84 l-6.66 -3.84 v-7.68 zM573.9 253.9 l6.66 3.84 v7.68 l-6.66 3.84 l-6.66 -3.84 v-7.68 zM587.2 253.9 l6.66 3.84 v7.68 l-6.66 3.84 l-6.66 -3.84 v-7.68 zM600.5 253.9 l6.66 3.84 v7.68 l-6.66 3.84 l-6.66 -3.84 v-7.68 zM613.8 253.9 l6.66 3.84 v7.68 l-6.66 3.84 l-6.66 -3.84 v-7.68 zM640.4 253.9 l6.66 3.84 v7.68 l-6.66 3.84 l-6.66 -3.84 v-7.68 zM667.0 253.9 l6.66 3.84 v7.68 l-6.66 3.84 l-6.66 -3.84 v-7.68 zM680.4 253.9 l6.66 3.84 v7.68 l-6.66 3.84 l-6.66 -3.84 v-7.68 zM693.7 253.9 l6.66 3.84 v7.68 l-6.66 3.84 l-6.66 -3.84 v-7.68 zM707.0 253.9 l6.66 3.84 v7.68 l-6.66 3.84 l-6.66 -3.84 v-7.68 zM720.3 253.9 l6.66 3.84 v7.68 l-6.66 3.84 l-6.66 -3.84 v-7.68 zM733.6 253.9 l6.66 3.84 v7.68 l-6.66 3.84 l-6.66 -3.84 v-7.68 zM760.2 253.9 l6.66 3.84 v7.68 l-6.66 3.84 l-6.66 -3.84 v-7.68 zM786.8 253.9 l6.66 3.84 v7.68 l-6.66 3.84 l-6.66 -3.84 v-7.68 zM800.1 253.9 l6.66 3.84 v7.68 l-6.66 3.84 l-6.66 -3.84 v-7.68 zM853.4 253.9 l6.66 3.84 v7.68 l-6.66 3.84 l-6.66 -3.84 v-7.68 zM866.7 253.9 l6.66 3.84 v7.68 l-6.66 3.84 l-6.66 -3.84 v-7.68 zM314.3 265.5 l6.66 3.84 v7.68 l-6.66 3.84 l-6.66 -3.84 v-7.68 zM340.9 265.5 l6.66 3.84 v7.68 l-6.66 3.84 l-6.66 -3.84 v-7.68 zM354.3 265.5 l6.66 3.84 v7.68 l-6.66 3.84 l-6.66 -3.84 v-7.68 zM367.6 265.5 l6.66 3.84 v7.68 l-6.66 3.84 l-6.66 -3.84 v-7.68 zM380.9 265.5 l6.66 3.84 v7.68 l-6.66 3.84 l-6.66 -3.84 v-7.68 zM394.2 265.5 l6.66 3.84 v7.68 l-6.66 3.84 l-6.66 -3.84 v-7.68 zM407.5 265.5 l6.66 3.84 v7.68 l-6.66 3.84 l-6.66 -3.84 v-7.68 zM420.8 265.5 l6.66 3.84 v7.68 l-6.66 3.84 l-6.66 -3.84 v-7.68 zM434.1 265.5 l6.66 3.84 v7.68 l-6.66 3.84 l-6.66 -3.84 v-7.68 zM447.4 265.5 l6.66 3.84 v7.68 l-6.66 3.84 l-6.66 -3.84 v-7.68 zM460.7 265.5 l6.66 3.84 v7.68 l-6.66 3.84 l-6.66 -3.84 v-7.68 zM474.0 265.5 l6.66 3.84 v7.68 l-6.66 3.84 l-6.66 -3.84 v-7.68 zM487.4 265.5 l6.66 3.84 v7.68 l-6.66 3.84 l-6.66 -3.84 v-7.68 zM500.7 265.5 l6.66 3.84 v7.68 l-6.66 3.84 l-6.66 -3.84 v-7.68 zM514.0 265.5 l6.66 3.84 v7.68 l-6.66 3.84 l-6.66 -3.84 v-7.68 zM527.3 265.5 l6.66 3.84 v7.68 l-6.66 3.84 l-6.66 -3.84 v-7.68 zM567.2 265.5 l6.66 3.84 v7.68 l-6.66 3.84 l-6.66 -3.84 v-7.68 zM580.5 265.5 l6.66 3.84 v7.68 l-6.66 3.84 l-6.66 -3.84 v-7.68 zM593.8 265.5 l6.66 3.84 v7.68 l-6.66 3.84 l-6.66 -3.84 v-7.68 zM607.1 265.5 l6.66 3.84 v7.68 l-6.66 3.84 l-6.66 -3.84 v-7.68 zM620.5 265.5 l6.66 3.84 v7.68 l-6.66 3.84 l-6.66 -3.84 v-7.68 zM633.8 265.5 l6.66 3.84 v7.68 l-6.66 3.84 l-6.66 -3.84 v-7.68 zM673.7 265.5 l6.66 3.84 v7.68 l-6.66 3.84 l-6.66 -3.84 v-7.68 zM687.0 265.5 l6.66 3.84 v7.68 l-6.66 3.84 l-6.66 -3.84 v-7.68 zM700.3 265.5 l6.66 3.84 v7.68 l-6.66 3.84 l-6.66 -3.84 v-7.68 zM713.6 265.5 l6.66 3.84 v7.68 l-6.66 3.84 l-6.66 -3.84 v-7.68 zM726.9 265.5 l6.66 3.84 v7.68 l-6.66 3.84 l-6.66 -3.84 v-7.68 zM740.2 265.5 l6.66 3.84 v7.68 l-6.66 3.84 l-6.66 -3.84 v-7.68 zM753.6 265.5 l6.66 3.84 v7.68 l-6.66 3.84 l-6.66 -3.84 v-7.68 zM766.9 265.5 l6.66 3.84 v7.68 l-6.66 3.84 l-6.66 -3.84 v-7.68 zM780.2 265.5 l6.66 3.84 v7.68 l-6.66 3.84 l-6.66 -3.84 v-7.68 zM833.4 265.5 l6.66 3.84 v7.68 l-6.66 3.84 l-6.66 -3.84 v-7.68 zM846.7 265.5 l6.66 3.84 v7.68 l-6.66 3.84 l-6.66 -3.84 v-7.68 zM886.7 265.5 l6.66 3.84 v7.68 l-6.66 3.84 l-6.66 -3.84 v-7.68 zM900.0 265.5 l6.66 3.84 v7.68 l-6.66 3.84 l-6.66 -3.84 v-7.68 zM307.7 277.0 l6.66 3.84 v7.68 l-6.66 3.84 l-6.66 -3.84 v-7.68 zM321.0 277.0 l6.66 3.84 v7.68 l-6.66 3.84 l-6.66 -3.84 v-7.68 zM334.3 277.0 l6.66 3.84 v7.68 l-6.66 3.84 l-6.66 -3.84 v-7.68 zM347.6 277.0 l6.66 3.84 v7.68 l-6.66 3.84 l-6.66 -3.84 v-7.68 zM360.9 277.0 l6.66 3.84 v7.68 l-6.66 3.84 l-6.66 -3.84 v-7.68 zM374.2 277.0 l6.66 3.84 v7.68 l-6.66 3.84 l-6.66 -3.84 v-7.68 zM387.5 277.0 l6.66 3.84 v7.68 l-6.66 3.84 l-6.66 -3.84 v-7.68 zM400.8 277.0 l6.66 3.84 v7.68 l-6.66 3.84 l-6.66 -3.84 v-7.68 zM414.2 277.0 l6.66 3.84 v7.68 l-6.66 3.84 l-6.66 -3.84 v-7.68 zM427.5 277.0 l6.66 3.84 v7.68 l-6.66 3.84 l-6.66 -3.84 v-7.68 zM440.8 277.0 l6.66 3.84 v7.68 l-6.66 3.84 l-6.66 -3.84 v-7.68 zM454.1 277.0 l6.66 3.84 v7.68 l-6.66 3.84 l-6.66 -3.84 v-7.68 zM467.4 277.0 l6.66 3.84 v7.68 l-6.66 3.84 l-6.66 -3.84 v-7.68 zM480.7 277.0 l6.66 3.84 v7.68 l-6.66 3.84 l-6.66 -3.84 v-7.68 zM494.0 277.0 l6.66 3.84 v7.68 l-6.66 3.84 l-6.66 -3.84 v-7.68 zM507.3 277.0 l6.66 3.84 v7.68 l-6.66 3.84 l-6.66 -3.84 v-7.68 zM520.6 277.0 l6.66 3.84 v7.68 l-6.66 3.84 l-6.66 -3.84 v-7.68 zM560.6 277.0 l6.66 3.84 v7.68 l-6.66 3.84 l-6.66 -3.84 v-7.68 zM573.9 277.0 l6.66 3.84 v7.68 l-6.66 3.84 l-6.66 -3.84 v-7.68 zM587.2 277.0 l6.66 3.84 v7.68 l-6.66 3.84 l-6.66 -3.84 v-7.68 zM653.7 277.0 l6.66 3.84 v7.68 l-6.66 3.84 l-6.66 -3.84 v-7.68 zM667.0 277.0 l6.66 3.84 v7.68 l-6.66 3.84 l-6.66 -3.84 v-7.68 zM680.4 277.0 l6.66 3.84 v7.68 l-6.66 3.84 l-6.66 -3.84 v-7.68 zM693.7 277.0 l6.66 3.84 v7.68 l-6.66 3.84 l-6.66 -3.84 v-7.68 zM707.0 277.0 l6.66 3.84 v7.68 l-6.66 3.84 l-6.66 -3.84 v-7.68 zM720.3 277.0 l6.66 3.84 v7.68 l-6.66 3.84 l-6.66 -3.84 v-7.68 zM733.6 277.0 l6.66 3.84 v7.68 l-6.66 3.84 l-6.66 -3.84 v-7.68 zM746.9 277.0 l6.66 3.84 v7.68 l-6.66 3.84 l-6.66 -3.84 v-7.68 zM760.2 277.0 l6.66 3.84 v7.68 l-6.66 3.84 l-6.66 -3.84 v-7.68 zM773.5 277.0 l6.66 3.84 v7.68 l-6.66 3.84 l-6.66 -3.84 v-7.68 zM786.8 277.0 l6.66 3.84 v7.68 l-6.66 3.84 l-6.66 -3.84 v-7.68 zM800.1 277.0 l6.66 3.84 v7.68 l-6.66 3.84 l-6.66 -3.84 v-7.68 zM813.5 277.0 l6.66 3.84 v7.68 l-6.66 3.84 l-6.66 -3.84 v-7.68 zM840.1 277.0 l6.66 3.84 v7.68 l-6.66 3.84 l-6.66 -3.84 v-7.68 zM853.4 277.0 l6.66 3.84 v7.68 l-6.66 3.84 l-6.66 -3.84 v-7.68 zM893.3 277.0 l6.66 3.84 v7.68 l-6.66 3.84 l-6.66 -3.84 v-7.68 zM301.0 288.5 l6.66 3.84 v7.68 l-6.66 3.84 l-6.66 -3.84 v-7.68 zM314.3 288.5 l6.66 3.84 v7.68 l-6.66 3.84 l-6.66 -3.84 v-7.68 zM327.6 288.5 l6.66 3.84 v7.68 l-6.66 3.84 l-6.66 -3.84 v-7.68 zM340.9 288.5 l6.66 3.84 v7.68 l-6.66 3.84 l-6.66 -3.84 v-7.68 zM354.3 288.5 l6.66 3.84 v7.68 l-6.66 3.84 l-6.66 -3.84 v-7.68 zM367.6 288.5 l6.66 3.84 v7.68 l-6.66 3.84 l-6.66 -3.84 v-7.68 zM380.9 288.5 l6.66 3.84 v7.68 l-6.66 3.84 l-6.66 -3.84 v-7.68 zM394.2 288.5 l6.66 3.84 v7.68 l-6.66 3.84 l-6.66 -3.84 v-7.68 zM407.5 288.5 l6.66 3.84 v7.68 l-6.66 3.84 l-6.66 -3.84 v-7.68 zM420.8 288.5 l6.66 3.84 v7.68 l-6.66 3.84 l-6.66 -3.84 v-7.68 zM434.1 288.5 l6.66 3.84 v7.68 l-6.66 3.84 l-6.66 -3.84 v-7.68 zM447.4 288.5 l6.66 3.84 v7.68 l-6.66 3.84 l-6.66 -3.84 v-7.68 zM460.7 288.5 l6.66 3.84 v7.68 l-6.66 3.84 l-6.66 -3.84 v-7.68 zM474.0 288.5 l6.66 3.84 v7.68 l-6.66 3.84 l-6.66 -3.84 v-7.68 zM487.4 288.5 l6.66 3.84 v7.68 l-6.66 3.84 l-6.66 -3.84 v-7.68 zM500.7 288.5 l6.66 3.84 v7.68 l-6.66 3.84 l-6.66 -3.84 v-7.68 zM514.0 288.5 l6.66 3.84 v7.68 l-6.66 3.84 l-6.66 -3.84 v-7.68 zM553.9 288.5 l6.66 3.84 v7.68 l-6.66 3.84 l-6.66 -3.84 v-7.68 zM567.2 288.5 l6.66 3.84 v7.68 l-6.66 3.84 l-6.66 -3.84 v-7.68 zM580.5 288.5 l6.66 3.84 v7.68 l-6.66 3.84 l-6.66 -3.84 v-7.68 zM660.4 288.5 l6.66 3.84 v7.68 l-6.66 3.84 l-6.66 -3.84 v-7.68 zM687.0 288.5 l6.66 3.84 v7.68 l-6.66 3.84 l-6.66 -3.84 v-7.68 zM700.3 288.5 l6.66 3.84 v7.68 l-6.66 3.84 l-6.66 -3.84 v-7.68 zM713.6 288.5 l6.66 3.84 v7.68 l-6.66 3.84 l-6.66 -3.84 v-7.68 zM726.9 288.5 l6.66 3.84 v7.68 l-6.66 3.84 l-6.66 -3.84 v-7.68 zM740.2 288.5 l6.66 3.84 v7.68 l-6.66 3.84 l-6.66 -3.84 v-7.68 zM753.6 288.5 l6.66 3.84 v7.68 l-6.66 3.84 l-6.66 -3.84 v-7.68 zM780.2 288.5 l6.66 3.84 v7.68 l-6.66 3.84 l-6.66 -3.84 v-7.68 zM793.5 288.5 l6.66 3.84 v7.68 l-6.66 3.84 l-6.66 -3.84 v-7.68 zM820.1 288.5 l6.66 3.84 v7.68 l-6.66 3.84 l-6.66 -3.84 v-7.68 zM833.4 288.5 l6.66 3.84 v7.68 l-6.66 3.84 l-6.66 -3.84 v-7.68 zM860.0 288.5 l6.66 3.84 v7.68 l-6.66 3.84 l-6.66 -3.84 v-7.68 zM873.4 288.5 l6.66 3.84 v7.68 l-6.66 3.84 l-6.66 -3.84 v-7.68 zM886.7 288.5 l6.66 3.84 v7.68 l-6.66 3.84 l-6.66 -3.84 v-7.68 zM913.3 288.5 l6.66 3.84 v7.68 l-6.66 3.84 l-6.66 -3.84 v-7.68 zM321.0 300.0 l6.66 3.84 v7.68 l-6.66 3.84 l-6.66 -3.84 v-7.68 zM334.3 300.0 l6.66 3.84 v7.68 l-6.66 3.84 l-6.66 -3.84 v-7.68 zM347.6 300.0 l6.66 3.84 v7.68 l-6.66 3.84 l-6.66 -3.84 v-7.68 zM360.9 300.0 l6.66 3.84 v7.68 l-6.66 3.84 l-6.66 -3.84 v-7.68 zM374.2 300.0 l6.66 3.84 v7.68 l-6.66 3.84 l-6.66 -3.84 v-7.68 zM387.5 300.0 l6.66 3.84 v7.68 l-6.66 3.84 l-6.66 -3.84 v-7.68 zM400.8 300.0 l6.66 3.84 v7.68 l-6.66 3.84 l-6.66 -3.84 v-7.68 zM414.2 300.0 l6.66 3.84 v7.68 l-6.66 3.84 l-6.66 -3.84 v-7.68 zM427.5 300.0 l6.66 3.84 v7.68 l-6.66 3.84 l-6.66 -3.84 v-7.68 zM440.8 300.0 l6.66 3.84 v7.68 l-6.66 3.84 l-6.66 -3.84 v-7.68 zM454.1 300.0 l6.66 3.84 v7.68 l-6.66 3.84 l-6.66 -3.84 v-7.68 zM467.4 300.0 l6.66 3.84 v7.68 l-6.66 3.84 l-6.66 -3.84 v-7.68 zM480.7 300.0 l6.66 3.84 v7.68 l-6.66 3.84 l-6.66 -3.84 v-7.68 zM494.0 300.0 l6.66 3.84 v7.68 l-6.66 3.84 l-6.66 -3.84 v-7.68 zM507.3 300.0 l6.66 3.84 v7.68 l-6.66 3.84 l-6.66 -3.84 v-7.68 zM520.6 300.0 l6.66 3.84 v7.68 l-6.66 3.84 l-6.66 -3.84 v-7.68 zM533.9 300.0 l6.66 3.84 v7.68 l-6.66 3.84 l-6.66 -3.84 v-7.68 zM547.3 300.0 l6.66 3.84 v7.68 l-6.66 3.84 l-6.66 -3.84 v-7.68 zM560.6 300.0 l6.66 3.84 v7.68 l-6.66 3.84 l-6.66 -3.84 v-7.68 zM573.9 300.0 l6.66 3.84 v7.68 l-6.66 3.84 l-6.66 -3.84 v-7.68 zM587.2 300.0 l6.66 3.84 v7.68 l-6.66 3.84 l-6.66 -3.84 v-7.68 zM613.8 300.0 l6.66 3.84 v7.68 l-6.66 3.84 l-6.66 -3.84 v-7.68 zM667.0 300.0 l6.66 3.84 v7.68 l-6.66 3.84 l-6.66 -3.84 v-7.68 zM680.4 300.0 l6.66 3.84 v7.68 l-6.66 3.84 l-6.66 -3.84 v-7.68 zM693.7 300.0 l6.66 3.84 v7.68 l-6.66 3.84 l-6.66 -3.84 v-7.68 zM707.0 300.0 l6.66 3.84 v7.68 l-6.66 3.84 l-6.66 -3.84 v-7.68 zM720.3 300.0 l6.66 3.84 v7.68 l-6.66 3.84 l-6.66 -3.84 v-7.68 zM733.6 300.0 l6.66 3.84 v7.68 l-6.66 3.84 l-6.66 -3.84 v-7.68 zM746.9 300.0 l6.66 3.84 v7.68 l-6.66 3.84 l-6.66 -3.84 v-7.68 zM760.2 300.0 l6.66 3.84 v7.68 l-6.66 3.84 l-6.66 -3.84 v-7.68 zM800.1 300.0 l6.66 3.84 v7.68 l-6.66 3.84 l-6.66 -3.84 v-7.68 zM813.5 300.0 l6.66 3.84 v7.68 l-6.66 3.84 l-6.66 -3.84 v-7.68 zM826.8 300.0 l6.66 3.84 v7.68 l-6.66 3.84 l-6.66 -3.84 v-7.68 zM840.1 300.0 l6.66 3.84 v7.68 l-6.66 3.84 l-6.66 -3.84 v-7.68 zM853.4 300.0 l6.66 3.84 v7.68 l-6.66 3.84 l-6.66 -3.84 v-7.68 zM866.7 300.0 l6.66 3.84 v7.68 l-6.66 3.84 l-6.66 -3.84 v-7.68 zM880.0 300.0 l6.66 3.84 v7.68 l-6.66 3.84 l-6.66 -3.84 v-7.68 zM893.3 300.0 l6.66 3.84 v7.68 l-6.66 3.84 l-6.66 -3.84 v-7.68 zM314.3 311.5 l6.66 3.84 v7.68 l-6.66 3.84 l-6.66 -3.84 v-7.68 zM327.6 311.5 l6.66 3.84 v7.68 l-6.66 3.84 l-6.66 -3.84 v-7.68 zM340.9 311.5 l6.66 3.84 v7.68 l-6.66 3.84 l-6.66 -3.84 v-7.68 zM354.3 311.5 l6.66 3.84 v7.68 l-6.66 3.84 l-6.66 -3.84 v-7.68 zM367.6 311.5 l6.66 3.84 v7.68 l-6.66 3.84 l-6.66 -3.84 v-7.68 zM380.9 311.5 l6.66 3.84 v7.68 l-6.66 3.84 l-6.66 -3.84 v-7.68 zM394.2 311.5 l6.66 3.84 v7.68 l-6.66 3.84 l-6.66 -3.84 v-7.68 zM407.5 311.5 l6.66 3.84 v7.68 l-6.66 3.84 l-6.66 -3.84 v-7.68 zM420.8 311.5 l6.66 3.84 v7.68 l-6.66 3.84 l-6.66 -3.84 v-7.68 zM434.1 311.5 l6.66 3.84 v7.68 l-6.66 3.84 l-6.66 -3.84 v-7.68 zM447.4 311.5 l6.66 3.84 v7.68 l-6.66 3.84 l-6.66 -3.84 v-7.68 zM460.7 311.5 l6.66 3.84 v7.68 l-6.66 3.84 l-6.66 -3.84 v-7.68 zM474.0 311.5 l6.66 3.84 v7.68 l-6.66 3.84 l-6.66 -3.84 v-7.68 zM487.4 311.5 l6.66 3.84 v7.68 l-6.66 3.84 l-6.66 -3.84 v-7.68 zM500.7 311.5 l6.66 3.84 v7.68 l-6.66 3.84 l-6.66 -3.84 v-7.68 zM514.0 311.5 l6.66 3.84 v7.68 l-6.66 3.84 l-6.66 -3.84 v-7.68 zM527.3 311.5 l6.66 3.84 v7.68 l-6.66 3.84 l-6.66 -3.84 v-7.68 zM553.9 311.5 l6.66 3.84 v7.68 l-6.66 3.84 l-6.66 -3.84 v-7.68 zM567.2 311.5 l6.66 3.84 v7.68 l-6.66 3.84 l-6.66 -3.84 v-7.68 zM580.5 311.5 l6.66 3.84 v7.68 l-6.66 3.84 l-6.66 -3.84 v-7.68 zM593.8 311.5 l6.66 3.84 v7.68 l-6.66 3.84 l-6.66 -3.84 v-7.68 zM607.1 311.5 l6.66 3.84 v7.68 l-6.66 3.84 l-6.66 -3.84 v-7.68 zM660.4 311.5 l6.66 3.84 v7.68 l-6.66 3.84 l-6.66 -3.84 v-7.68 zM687.0 311.5 l6.66 3.84 v7.68 l-6.66 3.84 l-6.66 -3.84 v-7.68 zM700.3 311.5 l6.66 3.84 v7.68 l-6.66 3.84 l-6.66 -3.84 v-7.68 zM713.6 311.5 l6.66 3.84 v7.68 l-6.66 3.84 l-6.66 -3.84 v-7.68 zM726.9 311.5 l6.66 3.84 v7.68 l-6.66 3.84 l-6.66 -3.84 v-7.68 zM740.2 311.5 l6.66 3.84 v7.68 l-6.66 3.84 l-6.66 -3.84 v-7.68 zM753.6 311.5 l6.66 3.84 v7.68 l-6.66 3.84 l-6.66 -3.84 v-7.68 zM780.2 311.5 l6.66 3.84 v7.68 l-6.66 3.84 l-6.66 -3.84 v-7.68 zM806.8 311.5 l6.66 3.84 v7.68 l-6.66 3.84 l-6.66 -3.84 v-7.68 zM833.4 311.5 l6.66 3.84 v7.68 l-6.66 3.84 l-6.66 -3.84 v-7.68 zM846.7 311.5 l6.66 3.84 v7.68 l-6.66 3.84 l-6.66 -3.84 v-7.68 zM860.0 311.5 l6.66 3.84 v7.68 l-6.66 3.84 l-6.66 -3.84 v-7.68 zM873.4 311.5 l6.66 3.84 v7.68 l-6.66 3.84 l-6.66 -3.84 v-7.68 zM321.0 323.1 l6.66 3.84 v7.68 l-6.66 3.84 l-6.66 -3.84 v-7.68 zM334.3 323.1 l6.66 3.84 v7.68 l-6.66 3.84 l-6.66 -3.84 v-7.68 zM347.6 323.1 l6.66 3.84 v7.68 l-6.66 3.84 l-6.66 -3.84 v-7.68 zM360.9 323.1 l6.66 3.84 v7.68 l-6.66 3.84 l-6.66 -3.84 v-7.68 zM374.2 323.1 l6.66 3.84 v7.68 l-6.66 3.84 l-6.66 -3.84 v-7.68 zM387.5 323.1 l6.66 3.84 v7.68 l-6.66 3.84 l-6.66 -3.84 v-7.68 zM400.8 323.1 l6.66 3.84 v7.68 l-6.66 3.84 l-6.66 -3.84 v-7.68 zM414.2 323.1 l6.66 3.84 v7.68 l-6.66 3.84 l-6.66 -3.84 v-7.68 zM427.5 323.1 l6.66 3.84 v7.68 l-6.66 3.84 l-6.66 -3.84 v-7.68 zM440.8 323.1 l6.66 3.84 v7.68 l-6.66 3.84 l-6.66 -3.84 v-7.68 zM454.1 323.1 l6.66 3.84 v7.68 l-6.66 3.84 l-6.66 -3.84 v-7.68 zM467.4 323.1 l6.66 3.84 v7.68 l-6.66 3.84 l-6.66 -3.84 v-7.68 zM507.3 323.1 l6.66 3.84 v7.68 l-6.66 3.84 l-6.66 -3.84 v-7.68 zM520.6 323.1 l6.66 3.84 v7.68 l-6.66 3.84 l-6.66 -3.84 v-7.68 zM533.9 323.1 l6.66 3.84 v7.68 l-6.66 3.84 l-6.66 -3.84 v-7.68 zM547.3 323.1 l6.66 3.84 v7.68 l-6.66 3.84 l-6.66 -3.84 v-7.68 zM560.6 323.1 l6.66 3.84 v7.68 l-6.66 3.84 l-6.66 -3.84 v-7.68 zM573.9 323.1 l6.66 3.84 v7.68 l-6.66 3.84 l-6.66 -3.84 v-7.68 zM587.2 323.1 l6.66 3.84 v7.68 l-6.66 3.84 l-6.66 -3.84 v-7.68 zM600.5 323.1 l6.66 3.84 v7.68 l-6.66 3.84 l-6.66 -3.84 v-7.68 zM613.8 323.1 l6.66 3.84 v7.68 l-6.66 3.84 l-6.66 -3.84 v-7.68 zM627.1 323.1 l6.66 3.84 v7.68 l-6.66 3.84 l-6.66 -3.84 v-7.68 zM653.7 323.1 l6.66 3.84 v7.68 l-6.66 3.84 l-6.66 -3.84 v-7.68 zM667.0 323.1 l6.66 3.84 v7.68 l-6.66 3.84 l-6.66 -3.84 v-7.68 zM680.4 323.1 l6.66 3.84 v7.68 l-6.66 3.84 l-6.66 -3.84 v-7.68 zM693.7 323.1 l6.66 3.84 v7.68 l-6.66 3.84 l-6.66 -3.84 v-7.68 zM707.0 323.1 l6.66 3.84 v7.68 l-6.66 3.84 l-6.66 -3.84 v-7.68 zM720.3 323.1 l6.66 3.84 v7.68 l-6.66 3.84 l-6.66 -3.84 v-7.68 zM733.6 323.1 l6.66 3.84 v7.68 l-6.66 3.84 l-6.66 -3.84 v-7.68 zM746.9 323.1 l6.66 3.84 v7.68 l-6.66 3.84 l-6.66 -3.84 v-7.68 zM760.2 323.1 l6.66 3.84 v7.68 l-6.66 3.84 l-6.66 -3.84 v-7.68 zM773.5 323.1 l6.66 3.84 v7.68 l-6.66 3.84 l-6.66 -3.84 v-7.68 zM786.8 323.1 l6.66 3.84 v7.68 l-6.66 3.84 l-6.66 -3.84 v-7.68 zM800.1 323.1 l6.66 3.84 v7.68 l-6.66 3.84 l-6.66 -3.84 v-7.68 zM813.5 323.1 l6.66 3.84 v7.68 l-6.66 3.84 l-6.66 -3.84 v-7.68 zM826.8 323.1 l6.66 3.84 v7.68 l-6.66 3.84 l-6.66 -3.84 v-7.68 zM840.1 323.1 l6.66 3.84 v7.68 l-6.66 3.84 l-6.66 -3.84 v-7.68 zM853.4 323.1 l6.66 3.84 v7.68 l-6.66 3.84 l-6.66 -3.84 v-7.68 zM866.7 323.1 l6.66 3.84 v7.68 l-6.66 3.84 l-6.66 -3.84 v-7.68 zM880.0 323.1 l6.66 3.84 v7.68 l-6.66 3.84 l-6.66 -3.84 v-7.68 zM893.3 323.1 l6.66 3.84 v7.68 l-6.66 3.84 l-6.66 -3.84 v-7.68 zM906.6 323.1 l6.66 3.84 v7.68 l-6.66 3.84 l-6.66 -3.84 v-7.68 zM919.9 323.1 l6.66 3.84 v7.68 l-6.66 3.84 l-6.66 -3.84 v-7.68 zM301.0 334.6 l6.66 3.84 v7.68 l-6.66 3.84 l-6.66 -3.84 v-7.68 zM314.3 334.6 l6.66 3.84 v7.68 l-6.66 3.84 l-6.66 -3.84 v-7.68 zM327.6 334.6 l6.66 3.84 v7.68 l-6.66 3.84 l-6.66 -3.84 v-7.68 zM340.9 334.6 l6.66 3.84 v7.68 l-6.66 3.84 l-6.66 -3.84 v-7.68 zM354.3 334.6 l6.66 3.84 v7.68 l-6.66 3.84 l-6.66 -3.84 v-7.68 zM367.6 334.6 l6.66 3.84 v7.68 l-6.66 3.84 l-6.66 -3.84 v-7.68 zM380.9 334.6 l6.66 3.84 v7.68 l-6.66 3.84 l-6.66 -3.84 v-7.68 zM394.2 334.6 l6.66 3.84 v7.68 l-6.66 3.84 l-6.66 -3.84 v-7.68 zM407.5 334.6 l6.66 3.84 v7.68 l-6.66 3.84 l-6.66 -3.84 v-7.68 zM420.8 334.6 l6.66 3.84 v7.68 l-6.66 3.84 l-6.66 -3.84 v-7.68 zM434.1 334.6 l6.66 3.84 v7.68 l-6.66 3.84 l-6.66 -3.84 v-7.68 zM460.7 334.6 l6.66 3.84 v7.68 l-6.66 3.84 l-6.66 -3.84 v-7.68 zM487.4 334.6 l6.66 3.84 v7.68 l-6.66 3.84 l-6.66 -3.84 v-7.68 zM500.7 334.6 l6.66 3.84 v7.68 l-6.66 3.84 l-6.66 -3.84 v-7.68 zM514.0 334.6 l6.66 3.84 v7.68 l-6.66 3.84 l-6.66 -3.84 v-7.68 zM527.3 334.6 l6.66 3.84 v7.68 l-6.66 3.84 l-6.66 -3.84 v-7.68 zM540.6 334.6 l6.66 3.84 v7.68 l-6.66 3.84 l-6.66 -3.84 v-7.68 zM553.9 334.6 l6.66 3.84 v7.68 l-6.66 3.84 l-6.66 -3.84 v-7.68 zM580.5 334.6 l6.66 3.84 v7.68 l-6.66 3.84 l-6.66 -3.84 v-7.68 zM593.8 334.6 l6.66 3.84 v7.68 l-6.66 3.84 l-6.66 -3.84 v-7.68 zM607.1 334.6 l6.66 3.84 v7.68 l-6.66 3.84 l-6.66 -3.84 v-7.68 zM620.5 334.6 l6.66 3.84 v7.68 l-6.66 3.84 l-6.66 -3.84 v-7.68 zM647.1 334.6 l6.66 3.84 v7.68 l-6.66 3.84 l-6.66 -3.84 v-7.68 zM673.7 334.6 l6.66 3.84 v7.68 l-6.66 3.84 l-6.66 -3.84 v-7.68 zM713.6 334.6 l6.66 3.84 v7.68 l-6.66 3.84 l-6.66 -3.84 v-7.68 zM726.9 334.6 l6.66 3.84 v7.68 l-6.66 3.84 l-6.66 -3.84 v-7.68 zM740.2 334.6 l6.66 3.84 v7.68 l-6.66 3.84 l-6.66 -3.84 v-7.68 zM753.6 334.6 l6.66 3.84 v7.68 l-6.66 3.84 l-6.66 -3.84 v-7.68 zM766.9 334.6 l6.66 3.84 v7.68 l-6.66 3.84 l-6.66 -3.84 v-7.68 zM780.2 334.6 l6.66 3.84 v7.68 l-6.66 3.84 l-6.66 -3.84 v-7.68 zM793.5 334.6 l6.66 3.84 v7.68 l-6.66 3.84 l-6.66 -3.84 v-7.68 zM806.8 334.6 l6.66 3.84 v7.68 l-6.66 3.84 l-6.66 -3.84 v-7.68 zM820.1 334.6 l6.66 3.84 v7.68 l-6.66 3.84 l-6.66 -3.84 v-7.68 zM833.4 334.6 l6.66 3.84 v7.68 l-6.66 3.84 l-6.66 -3.84 v-7.68 zM846.7 334.6 l6.66 3.84 v7.68 l-6.66 3.84 l-6.66 -3.84 v-7.68 zM860.0 334.6 l6.66 3.84 v7.68 l-6.66 3.84 l-6.66 -3.84 v-7.68 zM873.4 334.6 l6.66 3.84 v7.68 l-6.66 3.84 l-6.66 -3.84 v-7.68 zM886.7 334.6 l6.66 3.84 v7.68 l-6.66 3.84 l-6.66 -3.84 v-7.68 zM900.0 334.6 l6.66 3.84 v7.68 l-6.66 3.84 l-6.66 -3.84 v-7.68 zM913.3 334.6 l6.66 3.84 v7.68 l-6.66 3.84 l-6.66 -3.84 v-7.68 zM294.4 346.1 l6.66 3.84 v7.68 l-6.66 3.84 l-6.66 -3.84 v-7.68 zM307.7 346.1 l6.66 3.84 v7.68 l-6.66 3.84 l-6.66 -3.84 v-7.68 zM321.0 346.1 l6.66 3.84 v7.68 l-6.66 3.84 l-6.66 -3.84 v-7.68 zM334.3 346.1 l6.66 3.84 v7.68 l-6.66 3.84 l-6.66 -3.84 v-7.68 zM347.6 346.1 l6.66 3.84 v7.68 l-6.66 3.84 l-6.66 -3.84 v-7.68 zM360.9 346.1 l6.66 3.84 v7.68 l-6.66 3.84 l-6.66 -3.84 v-7.68 zM374.2 346.1 l6.66 3.84 v7.68 l-6.66 3.84 l-6.66 -3.84 v-7.68 zM387.5 346.1 l6.66 3.84 v7.68 l-6.66 3.84 l-6.66 -3.84 v-7.68 zM400.8 346.1 l6.66 3.84 v7.68 l-6.66 3.84 l-6.66 -3.84 v-7.68 zM414.2 346.1 l6.66 3.84 v7.68 l-6.66 3.84 l-6.66 -3.84 v-7.68 zM427.5 346.1 l6.66 3.84 v7.68 l-6.66 3.84 l-6.66 -3.84 v-7.68 zM440.8 346.1 l6.66 3.84 v7.68 l-6.66 3.84 l-6.66 -3.84 v-7.68 zM454.1 346.1 l6.66 3.84 v7.68 l-6.66 3.84 l-6.66 -3.84 v-7.68 zM467.4 346.1 l6.66 3.84 v7.68 l-6.66 3.84 l-6.66 -3.84 v-7.68 zM480.7 346.1 l6.66 3.84 v7.68 l-6.66 3.84 l-6.66 -3.84 v-7.68 zM494.0 346.1 l6.66 3.84 v7.68 l-6.66 3.84 l-6.66 -3.84 v-7.68 zM507.3 346.1 l6.66 3.84 v7.68 l-6.66 3.84 l-6.66 -3.84 v-7.68 zM520.6 346.1 l6.66 3.84 v7.68 l-6.66 3.84 l-6.66 -3.84 v-7.68 zM547.3 346.1 l6.66 3.84 v7.68 l-6.66 3.84 l-6.66 -3.84 v-7.68 zM640.4 346.1 l6.66 3.84 v7.68 l-6.66 3.84 l-6.66 -3.84 v-7.68 zM653.7 346.1 l6.66 3.84 v7.68 l-6.66 3.84 l-6.66 -3.84 v-7.68 zM667.0 346.1 l6.66 3.84 v7.68 l-6.66 3.84 l-6.66 -3.84 v-7.68 zM680.4 346.1 l6.66 3.84 v7.68 l-6.66 3.84 l-6.66 -3.84 v-7.68 zM693.7 346.1 l6.66 3.84 v7.68 l-6.66 3.84 l-6.66 -3.84 v-7.68 zM707.0 346.1 l6.66 3.84 v7.68 l-6.66 3.84 l-6.66 -3.84 v-7.68 zM720.3 346.1 l6.66 3.84 v7.68 l-6.66 3.84 l-6.66 -3.84 v-7.68 zM733.6 346.1 l6.66 3.84 v7.68 l-6.66 3.84 l-6.66 -3.84 v-7.68 zM746.9 346.1 l6.66 3.84 v7.68 l-6.66 3.84 l-6.66 -3.84 v-7.68 zM760.2 346.1 l6.66 3.84 v7.68 l-6.66 3.84 l-6.66 -3.84 v-7.68 zM773.5 346.1 l6.66 3.84 v7.68 l-6.66 3.84 l-6.66 -3.84 v-7.68 zM786.8 346.1 l6.66 3.84 v7.68 l-6.66 3.84 l-6.66 -3.84 v-7.68 zM800.1 346.1 l6.66 3.84 v7.68 l-6.66 3.84 l-6.66 -3.84 v-7.68 zM813.5 346.1 l6.66 3.84 v7.68 l-6.66 3.84 l-6.66 -3.84 v-7.68 zM826.8 346.1 l6.66 3.84 v7.68 l-6.66 3.84 l-6.66 -3.84 v-7.68 zM840.1 346.1 l6.66 3.84 v7.68 l-6.66 3.84 l-6.66 -3.84 v-7.68 zM853.4 346.1 l6.66 3.84 v7.68 l-6.66 3.84 l-6.66 -3.84 v-7.68 zM866.7 346.1 l6.66 3.84 v7.68 l-6.66 3.84 l-6.66 -3.84 v-7.68 zM880.0 346.1 l6.66 3.84 v7.68 l-6.66 3.84 l-6.66 -3.84 v-7.68 zM893.3 346.1 l6.66 3.84 v7.68 l-6.66 3.84 l-6.66 -3.84 v-7.68 zM919.9 346.1 l6.66 3.84 v7.68 l-6.66 3.84 l-6.66 -3.84 v-7.68 zM933.2 346.1 l6.66 3.84 v7.68 l-6.66 3.84 l-6.66 -3.84 v-7.68 zM274.4 357.6 l6.66 3.84 v7.68 l-6.66 3.84 l-6.66 -3.84 v-7.68 zM301.0 357.6 l6.66 3.84 v7.68 l-6.66 3.84 l-6.66 -3.84 v-7.68 zM314.3 357.6 l6.66 3.84 v7.68 l-6.66 3.84 l-6.66 -3.84 v-7.68 zM327.6 357.6 l6.66 3.84 v7.68 l-6.66 3.84 l-6.66 -3.84 v-7.68 zM340.9 357.6 l6.66 3.84 v7.68 l-6.66 3.84 l-6.66 -3.84 v-7.68 zM354.3 357.6 l6.66 3.84 v7.68 l-6.66 3.84 l-6.66 -3.84 v-7.68 zM367.6 357.6 l6.66 3.84 v7.68 l-6.66 3.84 l-6.66 -3.84 v-7.68 zM380.9 357.6 l6.66 3.84 v7.68 l-6.66 3.84 l-6.66 -3.84 v-7.68 zM394.2 357.6 l6.66 3.84 v7.68 l-6.66 3.84 l-6.66 -3.84 v-7.68 zM407.5 357.6 l6.66 3.84 v7.68 l-6.66 3.84 l-6.66 -3.84 v-7.68 zM420.8 357.6 l6.66 3.84 v7.68 l-6.66 3.84 l-6.66 -3.84 v-7.68 zM434.1 357.6 l6.66 3.84 v7.68 l-6.66 3.84 l-6.66 -3.84 v-7.68 zM474.0 357.6 l6.66 3.84 v7.68 l-6.66 3.84 l-6.66 -3.84 v-7.68 zM487.4 357.6 l6.66 3.84 v7.68 l-6.66 3.84 l-6.66 -3.84 v-7.68 zM540.6 357.6 l6.66 3.84 v7.68 l-6.66 3.84 l-6.66 -3.84 v-7.68 zM593.8 357.6 l6.66 3.84 v7.68 l-6.66 3.84 l-6.66 -3.84 v-7.68 zM607.1 357.6 l6.66 3.84 v7.68 l-6.66 3.84 l-6.66 -3.84 v-7.68 zM620.5 357.6 l6.66 3.84 v7.68 l-6.66 3.84 l-6.66 -3.84 v-7.68 zM633.8 357.6 l6.66 3.84 v7.68 l-6.66 3.84 l-6.66 -3.84 v-7.68 zM660.4 357.6 l6.66 3.84 v7.68 l-6.66 3.84 l-6.66 -3.84 v-7.68 zM673.7 357.6 l6.66 3.84 v7.68 l-6.66 3.84 l-6.66 -3.84 v-7.68 zM687.0 357.6 l6.66 3.84 v7.68 l-6.66 3.84 l-6.66 -3.84 v-7.68 zM700.3 357.6 l6.66 3.84 v7.68 l-6.66 3.84 l-6.66 -3.84 v-7.68 zM713.6 357.6 l6.66 3.84 v7.68 l-6.66 3.84 l-6.66 -3.84 v-7.68 zM726.9 357.6 l6.66 3.84 v7.68 l-6.66 3.84 l-6.66 -3.84 v-7.68 zM740.2 357.6 l6.66 3.84 v7.68 l-6.66 3.84 l-6.66 -3.84 v-7.68 zM753.6 357.6 l6.66 3.84 v7.68 l-6.66 3.84 l-6.66 -3.84 v-7.68 zM766.9 357.6 l6.66 3.84 v7.68 l-6.66 3.84 l-6.66 -3.84 v-7.68 zM780.2 357.6 l6.66 3.84 v7.68 l-6.66 3.84 l-6.66 -3.84 v-7.68 zM806.8 357.6 l6.66 3.84 v7.68 l-6.66 3.84 l-6.66 -3.84 v-7.68 zM820.1 357.6 l6.66 3.84 v7.68 l-6.66 3.84 l-6.66 -3.84 v-7.68 zM833.4 357.6 l6.66 3.84 v7.68 l-6.66 3.84 l-6.66 -3.84 v-7.68 zM846.7 357.6 l6.66 3.84 v7.68 l-6.66 3.84 l-6.66 -3.84 v-7.68 zM860.0 357.6 l6.66 3.84 v7.68 l-6.66 3.84 l-6.66 -3.84 v-7.68 zM873.4 357.6 l6.66 3.84 v7.68 l-6.66 3.84 l-6.66 -3.84 v-7.68 zM886.7 357.6 l6.66 3.84 v7.68 l-6.66 3.84 l-6.66 -3.84 v-7.68 zM926.6 357.6 l6.66 3.84 v7.68 l-6.66 3.84 l-6.66 -3.84 v-7.68 zM307.7 369.1 l6.66 3.84 v7.68 l-6.66 3.84 l-6.66 -3.84 v-7.68 zM321.0 369.1 l6.66 3.84 v7.68 l-6.66 3.84 l-6.66 -3.84 v-7.68 zM334.3 369.1 l6.66 3.84 v7.68 l-6.66 3.84 l-6.66 -3.84 v-7.68 zM347.6 369.1 l6.66 3.84 v7.68 l-6.66 3.84 l-6.66 -3.84 v-7.68 zM360.9 369.1 l6.66 3.84 v7.68 l-6.66 3.84 l-6.66 -3.84 v-7.68 zM374.2 369.1 l6.66 3.84 v7.68 l-6.66 3.84 l-6.66 -3.84 v-7.68 zM387.5 369.1 l6.66 3.84 v7.68 l-6.66 3.84 l-6.66 -3.84 v-7.68 zM400.8 369.1 l6.66 3.84 v7.68 l-6.66 3.84 l-6.66 -3.84 v-7.68 zM414.2 369.1 l6.66 3.84 v7.68 l-6.66 3.84 l-6.66 -3.84 v-7.68 zM427.5 369.1 l6.66 3.84 v7.68 l-6.66 3.84 l-6.66 -3.84 v-7.68 zM467.4 369.1 l6.66 3.84 v7.68 l-6.66 3.84 l-6.66 -3.84 v-7.68 zM480.7 369.1 l6.66 3.84 v7.68 l-6.66 3.84 l-6.66 -3.84 v-7.68 zM494.0 369.1 l6.66 3.84 v7.68 l-6.66 3.84 l-6.66 -3.84 v-7.68 zM507.3 369.1 l6.66 3.84 v7.68 l-6.66 3.84 l-6.66 -3.84 v-7.68 zM533.9 369.1 l6.66 3.84 v7.68 l-6.66 3.84 l-6.66 -3.84 v-7.68 zM547.3 369.1 l6.66 3.84 v7.68 l-6.66 3.84 l-6.66 -3.84 v-7.68 zM587.2 369.1 l6.66 3.84 v7.68 l-6.66 3.84 l-6.66 -3.84 v-7.68 zM600.5 369.1 l6.66 3.84 v7.68 l-6.66 3.84 l-6.66 -3.84 v-7.68 zM613.8 369.1 l6.66 3.84 v7.68 l-6.66 3.84 l-6.66 -3.84 v-7.68 zM627.1 369.1 l6.66 3.84 v7.68 l-6.66 3.84 l-6.66 -3.84 v-7.68 zM653.7 369.1 l6.66 3.84 v7.68 l-6.66 3.84 l-6.66 -3.84 v-7.68 zM667.0 369.1 l6.66 3.84 v7.68 l-6.66 3.84 l-6.66 -3.84 v-7.68 zM680.4 369.1 l6.66 3.84 v7.68 l-6.66 3.84 l-6.66 -3.84 v-7.68 zM693.7 369.1 l6.66 3.84 v7.68 l-6.66 3.84 l-6.66 -3.84 v-7.68 zM707.0 369.1 l6.66 3.84 v7.68 l-6.66 3.84 l-6.66 -3.84 v-7.68 zM720.3 369.1 l6.66 3.84 v7.68 l-6.66 3.84 l-6.66 -3.84 v-7.68 zM733.6 369.1 l6.66 3.84 v7.68 l-6.66 3.84 l-6.66 -3.84 v-7.68 zM746.9 369.1 l6.66 3.84 v7.68 l-6.66 3.84 l-6.66 -3.84 v-7.68 zM760.2 369.1 l6.66 3.84 v7.68 l-6.66 3.84 l-6.66 -3.84 v-7.68 zM773.5 369.1 l6.66 3.84 v7.68 l-6.66 3.84 l-6.66 -3.84 v-7.68 zM786.8 369.1 l6.66 3.84 v7.68 l-6.66 3.84 l-6.66 -3.84 v-7.68 zM800.1 369.1 l6.66 3.84 v7.68 l-6.66 3.84 l-6.66 -3.84 v-7.68 zM813.5 369.1 l6.66 3.84 v7.68 l-6.66 3.84 l-6.66 -3.84 v-7.68 zM826.8 369.1 l6.66 3.84 v7.68 l-6.66 3.84 l-6.66 -3.84 v-7.68 zM840.1 369.1 l6.66 3.84 v7.68 l-6.66 3.84 l-6.66 -3.84 v-7.68 zM853.4 369.1 l6.66 3.84 v7.68 l-6.66 3.84 l-6.66 -3.84 v-7.68 zM866.7 369.1 l6.66 3.84 v7.68 l-6.66 3.84 l-6.66 -3.84 v-7.68 zM314.3 380.7 l6.66 3.84 v7.68 l-6.66 3.84 l-6.66 -3.84 v-7.68 zM327.6 380.7 l6.66 3.84 v7.68 l-6.66 3.84 l-6.66 -3.84 v-7.68 zM340.9 380.7 l6.66 3.84 v7.68 l-6.66 3.84 l-6.66 -3.84 v-7.68 zM354.3 380.7 l6.66 3.84 v7.68 l-6.66 3.84 l-6.66 -3.84 v-7.68 zM367.6 380.7 l6.66 3.84 v7.68 l-6.66 3.84 l-6.66 -3.84 v-7.68 zM380.9 380.7 l6.66 3.84 v7.68 l-6.66 3.84 l-6.66 -3.84 v-7.68 zM420.8 380.7 l6.66 3.84 v7.68 l-6.66 3.84 l-6.66 -3.84 v-7.68 zM434.1 380.7 l6.66 3.84 v7.68 l-6.66 3.84 l-6.66 -3.84 v-7.68 zM474.0 380.7 l6.66 3.84 v7.68 l-6.66 3.84 l-6.66 -3.84 v-7.68 zM540.6 380.7 l6.66 3.84 v7.68 l-6.66 3.84 l-6.66 -3.84 v-7.68 zM553.9 380.7 l6.66 3.84 v7.68 l-6.66 3.84 l-6.66 -3.84 v-7.68 zM567.2 380.7 l6.66 3.84 v7.68 l-6.66 3.84 l-6.66 -3.84 v-7.68 zM580.5 380.7 l6.66 3.84 v7.68 l-6.66 3.84 l-6.66 -3.84 v-7.68 zM607.1 380.7 l6.66 3.84 v7.68 l-6.66 3.84 l-6.66 -3.84 v-7.68 zM620.5 380.7 l6.66 3.84 v7.68 l-6.66 3.84 l-6.66 -3.84 v-7.68 zM633.8 380.7 l6.66 3.84 v7.68 l-6.66 3.84 l-6.66 -3.84 v-7.68 zM647.1 380.7 l6.66 3.84 v7.68 l-6.66 3.84 l-6.66 -3.84 v-7.68 zM660.4 380.7 l6.66 3.84 v7.68 l-6.66 3.84 l-6.66 -3.84 v-7.68 zM673.7 380.7 l6.66 3.84 v7.68 l-6.66 3.84 l-6.66 -3.84 v-7.68 zM687.0 380.7 l6.66 3.84 v7.68 l-6.66 3.84 l-6.66 -3.84 v-7.68 zM700.3 380.7 l6.66 3.84 v7.68 l-6.66 3.84 l-6.66 -3.84 v-7.68 zM713.6 380.7 l6.66 3.84 v7.68 l-6.66 3.84 l-6.66 -3.84 v-7.68 zM726.9 380.7 l6.66 3.84 v7.68 l-6.66 3.84 l-6.66 -3.84 v-7.68 zM740.2 380.7 l6.66 3.84 v7.68 l-6.66 3.84 l-6.66 -3.84 v-7.68 zM753.6 380.7 l6.66 3.84 v7.68 l-6.66 3.84 l-6.66 -3.84 v-7.68 zM766.9 380.7 l6.66 3.84 v7.68 l-6.66 3.84 l-6.66 -3.84 v-7.68 zM780.2 380.7 l6.66 3.84 v7.68 l-6.66 3.84 l-6.66 -3.84 v-7.68 zM793.5 380.7 l6.66 3.84 v7.68 l-6.66 3.84 l-6.66 -3.84 v-7.68 zM806.8 380.7 l6.66 3.84 v7.68 l-6.66 3.84 l-6.66 -3.84 v-7.68 zM820.1 380.7 l6.66 3.84 v7.68 l-6.66 3.84 l-6.66 -3.84 v-7.68 zM833.4 380.7 l6.66 3.84 v7.68 l-6.66 3.84 l-6.66 -3.84 v-7.68 zM846.7 380.7 l6.66 3.84 v7.68 l-6.66 3.84 l-6.66 -3.84 v-7.68 zM294.4 392.2 l6.66 3.84 v7.68 l-6.66 3.84 l-6.66 -3.84 v-7.68 zM307.7 392.2 l6.66 3.84 v7.68 l-6.66 3.84 l-6.66 -3.84 v-7.68 zM321.0 392.2 l6.66 3.84 v7.68 l-6.66 3.84 l-6.66 -3.84 v-7.68 zM334.3 392.2 l6.66 3.84 v7.68 l-6.66 3.84 l-6.66 -3.84 v-7.68 zM347.6 392.2 l6.66 3.84 v7.68 l-6.66 3.84 l-6.66 -3.84 v-7.68 zM360.9 392.2 l6.66 3.84 v7.68 l-6.66 3.84 l-6.66 -3.84 v-7.68 zM374.2 392.2 l6.66 3.84 v7.68 l-6.66 3.84 l-6.66 -3.84 v-7.68 zM387.5 392.2 l6.66 3.84 v7.68 l-6.66 3.84 l-6.66 -3.84 v-7.68 zM414.2 392.2 l6.66 3.84 v7.68 l-6.66 3.84 l-6.66 -3.84 v-7.68 zM427.5 392.2 l6.66 3.84 v7.68 l-6.66 3.84 l-6.66 -3.84 v-7.68 zM440.8 392.2 l6.66 3.84 v7.68 l-6.66 3.84 l-6.66 -3.84 v-7.68 zM454.1 392.2 l6.66 3.84 v7.68 l-6.66 3.84 l-6.66 -3.84 v-7.68 zM494.0 392.2 l6.66 3.84 v7.68 l-6.66 3.84 l-6.66 -3.84 v-7.68 zM507.3 392.2 l6.66 3.84 v7.68 l-6.66 3.84 l-6.66 -3.84 v-7.68 zM533.9 392.2 l6.66 3.84 v7.68 l-6.66 3.84 l-6.66 -3.84 v-7.68 zM547.3 392.2 l6.66 3.84 v7.68 l-6.66 3.84 l-6.66 -3.84 v-7.68 zM560.6 392.2 l6.66 3.84 v7.68 l-6.66 3.84 l-6.66 -3.84 v-7.68 zM573.9 392.2 l6.66 3.84 v7.68 l-6.66 3.84 l-6.66 -3.84 v-7.68 zM587.2 392.2 l6.66 3.84 v7.68 l-6.66 3.84 l-6.66 -3.84 v-7.68 zM600.5 392.2 l6.66 3.84 v7.68 l-6.66 3.84 l-6.66 -3.84 v-7.68 zM613.8 392.2 l6.66 3.84 v7.68 l-6.66 3.84 l-6.66 -3.84 v-7.68 zM627.1 392.2 l6.66 3.84 v7.68 l-6.66 3.84 l-6.66 -3.84 v-7.68 zM640.4 392.2 l6.66 3.84 v7.68 l-6.66 3.84 l-6.66 -3.84 v-7.68 zM653.7 392.2 l6.66 3.84 v7.68 l-6.66 3.84 l-6.66 -3.84 v-7.68 zM667.0 392.2 l6.66 3.84 v7.68 l-6.66 3.84 l-6.66 -3.84 v-7.68 zM693.7 392.2 l6.66 3.84 v7.68 l-6.66 3.84 l-6.66 -3.84 v-7.68 zM720.3 392.2 l6.66 3.84 v7.68 l-6.66 3.84 l-6.66 -3.84 v-7.68 zM733.6 392.2 l6.66 3.84 v7.68 l-6.66 3.84 l-6.66 -3.84 v-7.68 zM746.9 392.2 l6.66 3.84 v7.68 l-6.66 3.84 l-6.66 -3.84 v-7.68 zM760.2 392.2 l6.66 3.84 v7.68 l-6.66 3.84 l-6.66 -3.84 v-7.68 zM773.5 392.2 l6.66 3.84 v7.68 l-6.66 3.84 l-6.66 -3.84 v-7.68 zM786.8 392.2 l6.66 3.84 v7.68 l-6.66 3.84 l-6.66 -3.84 v-7.68 zM800.1 392.2 l6.66 3.84 v7.68 l-6.66 3.84 l-6.66 -3.84 v-7.68 zM813.5 392.2 l6.66 3.84 v7.68 l-6.66 3.84 l-6.66 -3.84 v-7.68 zM826.8 392.2 l6.66 3.84 v7.68 l-6.66 3.84 l-6.66 -3.84 v-7.68 zM840.1 392.2 l6.66 3.84 v7.68 l-6.66 3.84 l-6.66 -3.84 v-7.68 zM301.0 403.7 l6.66 3.84 v7.68 l-6.66 3.84 l-6.66 -3.84 v-7.68 zM314.3 403.7 l6.66 3.84 v7.68 l-6.66 3.84 l-6.66 -3.84 v-7.68 zM327.6 403.7 l6.66 3.84 v7.68 l-6.66 3.84 l-6.66 -3.84 v-7.68 zM340.9 403.7 l6.66 3.84 v7.68 l-6.66 3.84 l-6.66 -3.84 v-7.68 zM354.3 403.7 l6.66 3.84 v7.68 l-6.66 3.84 l-6.66 -3.84 v-7.68 zM367.6 403.7 l6.66 3.84 v7.68 l-6.66 3.84 l-6.66 -3.84 v-7.68 zM380.9 403.7 l6.66 3.84 v7.68 l-6.66 3.84 l-6.66 -3.84 v-7.68 zM394.2 403.7 l6.66 3.84 v7.68 l-6.66 3.84 l-6.66 -3.84 v-7.68 zM420.8 403.7 l6.66 3.84 v7.68 l-6.66 3.84 l-6.66 -3.84 v-7.68 zM447.4 403.7 l6.66 3.84 v7.68 l-6.66 3.84 l-6.66 -3.84 v-7.68 zM460.7 403.7 l6.66 3.84 v7.68 l-6.66 3.84 l-6.66 -3.84 v-7.68 zM474.0 403.7 l6.66 3.84 v7.68 l-6.66 3.84 l-6.66 -3.84 v-7.68 zM514.0 403.7 l6.66 3.84 v7.68 l-6.66 3.84 l-6.66 -3.84 v-7.68 zM527.3 403.7 l6.66 3.84 v7.68 l-6.66 3.84 l-6.66 -3.84 v-7.68 zM540.6 403.7 l6.66 3.84 v7.68 l-6.66 3.84 l-6.66 -3.84 v-7.68 zM553.9 403.7 l6.66 3.84 v7.68 l-6.66 3.84 l-6.66 -3.84 v-7.68 zM567.2 403.7 l6.66 3.84 v7.68 l-6.66 3.84 l-6.66 -3.84 v-7.68 zM580.5 403.7 l6.66 3.84 v7.68 l-6.66 3.84 l-6.66 -3.84 v-7.68 zM593.8 403.7 l6.66 3.84 v7.68 l-6.66 3.84 l-6.66 -3.84 v-7.68 zM607.1 403.7 l6.66 3.84 v7.68 l-6.66 3.84 l-6.66 -3.84 v-7.68 zM620.5 403.7 l6.66 3.84 v7.68 l-6.66 3.84 l-6.66 -3.84 v-7.68 zM660.4 403.7 l6.66 3.84 v7.68 l-6.66 3.84 l-6.66 -3.84 v-7.68 zM673.7 403.7 l6.66 3.84 v7.68 l-6.66 3.84 l-6.66 -3.84 v-7.68 zM687.0 403.7 l6.66 3.84 v7.68 l-6.66 3.84 l-6.66 -3.84 v-7.68 zM700.3 403.7 l6.66 3.84 v7.68 l-6.66 3.84 l-6.66 -3.84 v-7.68 zM713.6 403.7 l6.66 3.84 v7.68 l-6.66 3.84 l-6.66 -3.84 v-7.68 zM726.9 403.7 l6.66 3.84 v7.68 l-6.66 3.84 l-6.66 -3.84 v-7.68 zM740.2 403.7 l6.66 3.84 v7.68 l-6.66 3.84 l-6.66 -3.84 v-7.68 zM753.6 403.7 l6.66 3.84 v7.68 l-6.66 3.84 l-6.66 -3.84 v-7.68 zM766.9 403.7 l6.66 3.84 v7.68 l-6.66 3.84 l-6.66 -3.84 v-7.68 zM780.2 403.7 l6.66 3.84 v7.68 l-6.66 3.84 l-6.66 -3.84 v-7.68 zM793.5 403.7 l6.66 3.84 v7.68 l-6.66 3.84 l-6.66 -3.84 v-7.68 zM806.8 403.7 l6.66 3.84 v7.68 l-6.66 3.84 l-6.66 -3.84 v-7.68 zM820.1 403.7 l6.66 3.84 v7.68 l-6.66 3.84 l-6.66 -3.84 v-7.68 zM307.7 415.2 l6.66 3.84 v7.68 l-6.66 3.84 l-6.66 -3.84 v-7.68 zM321.0 415.2 l6.66 3.84 v7.68 l-6.66 3.84 l-6.66 -3.84 v-7.68 zM334.3 415.2 l6.66 3.84 v7.68 l-6.66 3.84 l-6.66 -3.84 v-7.68 zM347.6 415.2 l6.66 3.84 v7.68 l-6.66 3.84 l-6.66 -3.84 v-7.68 zM360.9 415.2 l6.66 3.84 v7.68 l-6.66 3.84 l-6.66 -3.84 v-7.68 zM374.2 415.2 l6.66 3.84 v7.68 l-6.66 3.84 l-6.66 -3.84 v-7.68 zM387.5 415.2 l6.66 3.84 v7.68 l-6.66 3.84 l-6.66 -3.84 v-7.68 zM400.8 415.2 l6.66 3.84 v7.68 l-6.66 3.84 l-6.66 -3.84 v-7.68 zM414.2 415.2 l6.66 3.84 v7.68 l-6.66 3.84 l-6.66 -3.84 v-7.68 zM427.5 415.2 l6.66 3.84 v7.68 l-6.66 3.84 l-6.66 -3.84 v-7.68 zM440.8 415.2 l6.66 3.84 v7.68 l-6.66 3.84 l-6.66 -3.84 v-7.68 zM454.1 415.2 l6.66 3.84 v7.68 l-6.66 3.84 l-6.66 -3.84 v-7.68 zM467.4 415.2 l6.66 3.84 v7.68 l-6.66 3.84 l-6.66 -3.84 v-7.68 zM480.7 415.2 l6.66 3.84 v7.68 l-6.66 3.84 l-6.66 -3.84 v-7.68 zM494.0 415.2 l6.66 3.84 v7.68 l-6.66 3.84 l-6.66 -3.84 v-7.68 zM507.3 415.2 l6.66 3.84 v7.68 l-6.66 3.84 l-6.66 -3.84 v-7.68 zM520.6 415.2 l6.66 3.84 v7.68 l-6.66 3.84 l-6.66 -3.84 v-7.68 zM533.9 415.2 l6.66 3.84 v7.68 l-6.66 3.84 l-6.66 -3.84 v-7.68 zM547.3 415.2 l6.66 3.84 v7.68 l-6.66 3.84 l-6.66 -3.84 v-7.68 zM560.6 415.2 l6.66 3.84 v7.68 l-6.66 3.84 l-6.66 -3.84 v-7.68 zM587.2 415.2 l6.66 3.84 v7.68 l-6.66 3.84 l-6.66 -3.84 v-7.68 zM600.5 415.2 l6.66 3.84 v7.68 l-6.66 3.84 l-6.66 -3.84 v-7.68 zM613.8 415.2 l6.66 3.84 v7.68 l-6.66 3.84 l-6.66 -3.84 v-7.68 zM627.1 415.2 l6.66 3.84 v7.68 l-6.66 3.84 l-6.66 -3.84 v-7.68 zM640.4 415.2 l6.66 3.84 v7.68 l-6.66 3.84 l-6.66 -3.84 v-7.68 zM653.7 415.2 l6.66 3.84 v7.68 l-6.66 3.84 l-6.66 -3.84 v-7.68 zM667.0 415.2 l6.66 3.84 v7.68 l-6.66 3.84 l-6.66 -3.84 v-7.68 zM680.4 415.2 l6.66 3.84 v7.68 l-6.66 3.84 l-6.66 -3.84 v-7.68 zM693.7 415.2 l6.66 3.84 v7.68 l-6.66 3.84 l-6.66 -3.84 v-7.68 zM707.0 415.2 l6.66 3.84 v7.68 l-6.66 3.84 l-6.66 -3.84 v-7.68 zM720.3 415.2 l6.66 3.84 v7.68 l-6.66 3.84 l-6.66 -3.84 v-7.68 zM733.6 415.2 l6.66 3.84 v7.68 l-6.66 3.84 l-6.66 -3.84 v-7.68 zM746.9 415.2 l6.66 3.84 v7.68 l-6.66 3.84 l-6.66 -3.84 v-7.68 zM760.2 415.2 l6.66 3.84 v7.68 l-6.66 3.84 l-6.66 -3.84 v-7.68 zM773.5 415.2 l6.66 3.84 v7.68 l-6.66 3.84 l-6.66 -3.84 v-7.68 zM786.8 415.2 l6.66 3.84 v7.68 l-6.66 3.84 l-6.66 -3.84 v-7.68 zM800.1 415.2 l6.66 3.84 v7.68 l-6.66 3.84 l-6.66 -3.84 v-7.68 zM314.3 426.7 l6.66 3.84 v7.68 l-6.66 3.84 l-6.66 -3.84 v-7.68 zM327.6 426.7 l6.66 3.84 v7.68 l-6.66 3.84 l-6.66 -3.84 v-7.68 zM340.9 426.7 l6.66 3.84 v7.68 l-6.66 3.84 l-6.66 -3.84 v-7.68 zM354.3 426.7 l6.66 3.84 v7.68 l-6.66 3.84 l-6.66 -3.84 v-7.68 zM367.6 426.7 l6.66 3.84 v7.68 l-6.66 3.84 l-6.66 -3.84 v-7.68 zM380.9 426.7 l6.66 3.84 v7.68 l-6.66 3.84 l-6.66 -3.84 v-7.68 zM394.2 426.7 l6.66 3.84 v7.68 l-6.66 3.84 l-6.66 -3.84 v-7.68 zM420.8 426.7 l6.66 3.84 v7.68 l-6.66 3.84 l-6.66 -3.84 v-7.68 zM434.1 426.7 l6.66 3.84 v7.68 l-6.66 3.84 l-6.66 -3.84 v-7.68 zM474.0 426.7 l6.66 3.84 v7.68 l-6.66 3.84 l-6.66 -3.84 v-7.68 zM487.4 426.7 l6.66 3.84 v7.68 l-6.66 3.84 l-6.66 -3.84 v-7.68 zM500.7 426.7 l6.66 3.84 v7.68 l-6.66 3.84 l-6.66 -3.84 v-7.68 zM514.0 426.7 l6.66 3.84 v7.68 l-6.66 3.84 l-6.66 -3.84 v-7.68 zM553.9 426.7 l6.66 3.84 v7.68 l-6.66 3.84 l-6.66 -3.84 v-7.68 zM567.2 426.7 l6.66 3.84 v7.68 l-6.66 3.84 l-6.66 -3.84 v-7.68 zM593.8 426.7 l6.66 3.84 v7.68 l-6.66 3.84 l-6.66 -3.84 v-7.68 zM607.1 426.7 l6.66 3.84 v7.68 l-6.66 3.84 l-6.66 -3.84 v-7.68 zM620.5 426.7 l6.66 3.84 v7.68 l-6.66 3.84 l-6.66 -3.84 v-7.68 zM633.8 426.7 l6.66 3.84 v7.68 l-6.66 3.84 l-6.66 -3.84 v-7.68 zM647.1 426.7 l6.66 3.84 v7.68 l-6.66 3.84 l-6.66 -3.84 v-7.68 zM673.7 426.7 l6.66 3.84 v7.68 l-6.66 3.84 l-6.66 -3.84 v-7.68 zM687.0 426.7 l6.66 3.84 v7.68 l-6.66 3.84 l-6.66 -3.84 v-7.68 zM700.3 426.7 l6.66 3.84 v7.68 l-6.66 3.84 l-6.66 -3.84 v-7.68 zM713.6 426.7 l6.66 3.84 v7.68 l-6.66 3.84 l-6.66 -3.84 v-7.68 zM726.9 426.7 l6.66 3.84 v7.68 l-6.66 3.84 l-6.66 -3.84 v-7.68 zM740.2 426.7 l6.66 3.84 v7.68 l-6.66 3.84 l-6.66 -3.84 v-7.68 zM766.9 426.7 l6.66 3.84 v7.68 l-6.66 3.84 l-6.66 -3.84 v-7.68 zM321.0 438.3 l6.66 3.84 v7.68 l-6.66 3.84 l-6.66 -3.84 v-7.68 zM334.3 438.3 l6.66 3.84 v7.68 l-6.66 3.84 l-6.66 -3.84 v-7.68 zM360.9 438.3 l6.66 3.84 v7.68 l-6.66 3.84 l-6.66 -3.84 v-7.68 zM374.2 438.3 l6.66 3.84 v7.68 l-6.66 3.84 l-6.66 -3.84 v-7.68 zM400.8 438.3 l6.66 3.84 v7.68 l-6.66 3.84 l-6.66 -3.84 v-7.68 zM414.2 438.3 l6.66 3.84 v7.68 l-6.66 3.84 l-6.66 -3.84 v-7.68 zM427.5 438.3 l6.66 3.84 v7.68 l-6.66 3.84 l-6.66 -3.84 v-7.68 zM440.8 438.3 l6.66 3.84 v7.68 l-6.66 3.84 l-6.66 -3.84 v-7.68 zM467.4 438.3 l6.66 3.84 v7.68 l-6.66 3.84 l-6.66 -3.84 v-7.68 zM480.7 438.3 l6.66 3.84 v7.68 l-6.66 3.84 l-6.66 -3.84 v-7.68 zM494.0 438.3 l6.66 3.84 v7.68 l-6.66 3.84 l-6.66 -3.84 v-7.68 zM547.3 438.3 l6.66 3.84 v7.68 l-6.66 3.84 l-6.66 -3.84 v-7.68 zM560.6 438.3 l6.66 3.84 v7.68 l-6.66 3.84 l-6.66 -3.84 v-7.68 zM573.9 438.3 l6.66 3.84 v7.68 l-6.66 3.84 l-6.66 -3.84 v-7.68 zM587.2 438.3 l6.66 3.84 v7.68 l-6.66 3.84 l-6.66 -3.84 v-7.68 zM600.5 438.3 l6.66 3.84 v7.68 l-6.66 3.84 l-6.66 -3.84 v-7.68 zM613.8 438.3 l6.66 3.84 v7.68 l-6.66 3.84 l-6.66 -3.84 v-7.68 zM640.4 438.3 l6.66 3.84 v7.68 l-6.66 3.84 l-6.66 -3.84 v-7.68 zM653.7 438.3 l6.66 3.84 v7.68 l-6.66 3.84 l-6.66 -3.84 v-7.68 zM667.0 438.3 l6.66 3.84 v7.68 l-6.66 3.84 l-6.66 -3.84 v-7.68 zM693.7 438.3 l6.66 3.84 v7.68 l-6.66 3.84 l-6.66 -3.84 v-7.68 zM707.0 438.3 l6.66 3.84 v7.68 l-6.66 3.84 l-6.66 -3.84 v-7.68 zM720.3 438.3 l6.66 3.84 v7.68 l-6.66 3.84 l-6.66 -3.84 v-7.68 zM733.6 438.3 l6.66 3.84 v7.68 l-6.66 3.84 l-6.66 -3.84 v-7.68 zM746.9 438.3 l6.66 3.84 v7.68 l-6.66 3.84 l-6.66 -3.84 v-7.68 zM773.5 438.3 l6.66 3.84 v7.68 l-6.66 3.84 l-6.66 -3.84 v-7.68 zM786.8 438.3 l6.66 3.84 v7.68 l-6.66 3.84 l-6.66 -3.84 v-7.68 zM800.1 438.3 l6.66 3.84 v7.68 l-6.66 3.84 l-6.66 -3.84 v-7.68 zM354.3 449.8 l6.66 3.84 v7.68 l-6.66 3.84 l-6.66 -3.84 v-7.68 zM394.2 449.8 l6.66 3.84 v7.68 l-6.66 3.84 l-6.66 -3.84 v-7.68 zM407.5 449.8 l6.66 3.84 v7.68 l-6.66 3.84 l-6.66 -3.84 v-7.68 zM447.4 449.8 l6.66 3.84 v7.68 l-6.66 3.84 l-6.66 -3.84 v-7.68 zM474.0 449.8 l6.66 3.84 v7.68 l-6.66 3.84 l-6.66 -3.84 v-7.68 zM487.4 449.8 l6.66 3.84 v7.68 l-6.66 3.84 l-6.66 -3.84 v-7.68 zM500.7 449.8 l6.66 3.84 v7.68 l-6.66 3.84 l-6.66 -3.84 v-7.68 zM514.0 449.8 l6.66 3.84 v7.68 l-6.66 3.84 l-6.66 -3.84 v-7.68 zM527.3 449.8 l6.66 3.84 v7.68 l-6.66 3.84 l-6.66 -3.84 v-7.68 zM540.6 449.8 l6.66 3.84 v7.68 l-6.66 3.84 l-6.66 -3.84 v-7.68 zM567.2 449.8 l6.66 3.84 v7.68 l-6.66 3.84 l-6.66 -3.84 v-7.68 zM593.8 449.8 l6.66 3.84 v7.68 l-6.66 3.84 l-6.66 -3.84 v-7.68 zM607.1 449.8 l6.66 3.84 v7.68 l-6.66 3.84 l-6.66 -3.84 v-7.68 zM620.5 449.8 l6.66 3.84 v7.68 l-6.66 3.84 l-6.66 -3.84 v-7.68 zM633.8 449.8 l6.66 3.84 v7.68 l-6.66 3.84 l-6.66 -3.84 v-7.68 zM647.1 449.8 l6.66 3.84 v7.68 l-6.66 3.84 l-6.66 -3.84 v-7.68 zM660.4 449.8 l6.66 3.84 v7.68 l-6.66 3.84 l-6.66 -3.84 v-7.68 zM673.7 449.8 l6.66 3.84 v7.68 l-6.66 3.84 l-6.66 -3.84 v-7.68 zM700.3 449.8 l6.66 3.84 v7.68 l-6.66 3.84 l-6.66 -3.84 v-7.68 zM713.6 449.8 l6.66 3.84 v7.68 l-6.66 3.84 l-6.66 -3.84 v-7.68 zM726.9 449.8 l6.66 3.84 v7.68 l-6.66 3.84 l-6.66 -3.84 v-7.68 zM740.2 449.8 l6.66 3.84 v7.68 l-6.66 3.84 l-6.66 -3.84 v-7.68 zM321.0 461.3 l6.66 3.84 v7.68 l-6.66 3.84 l-6.66 -3.84 v-7.68 zM347.6 461.3 l6.66 3.84 v7.68 l-6.66 3.84 l-6.66 -3.84 v-7.68 zM387.5 461.3 l6.66 3.84 v7.68 l-6.66 3.84 l-6.66 -3.84 v-7.68 zM400.8 461.3 l6.66 3.84 v7.68 l-6.66 3.84 l-6.66 -3.84 v-7.68 zM440.8 461.3 l6.66 3.84 v7.68 l-6.66 3.84 l-6.66 -3.84 v-7.68 zM454.1 461.3 l6.66 3.84 v7.68 l-6.66 3.84 l-6.66 -3.84 v-7.68 zM467.4 461.3 l6.66 3.84 v7.68 l-6.66 3.84 l-6.66 -3.84 v-7.68 zM480.7 461.3 l6.66 3.84 v7.68 l-6.66 3.84 l-6.66 -3.84 v-7.68 zM494.0 461.3 l6.66 3.84 v7.68 l-6.66 3.84 l-6.66 -3.84 v-7.68 zM507.3 461.3 l6.66 3.84 v7.68 l-6.66 3.84 l-6.66 -3.84 v-7.68 zM520.6 461.3 l6.66 3.84 v7.68 l-6.66 3.84 l-6.66 -3.84 v-7.68 zM533.9 461.3 l6.66 3.84 v7.68 l-6.66 3.84 l-6.66 -3.84 v-7.68 zM560.6 461.3 l6.66 3.84 v7.68 l-6.66 3.84 l-6.66 -3.84 v-7.68 zM573.9 461.3 l6.66 3.84 v7.68 l-6.66 3.84 l-6.66 -3.84 v-7.68 zM587.2 461.3 l6.66 3.84 v7.68 l-6.66 3.84 l-6.66 -3.84 v-7.68 zM627.1 461.3 l6.66 3.84 v7.68 l-6.66 3.84 l-6.66 -3.84 v-7.68 zM653.7 461.3 l6.66 3.84 v7.68 l-6.66 3.84 l-6.66 -3.84 v-7.68 zM667.0 461.3 l6.66 3.84 v7.68 l-6.66 3.84 l-6.66 -3.84 v-7.68 zM680.4 461.3 l6.66 3.84 v7.68 l-6.66 3.84 l-6.66 -3.84 v-7.68 zM693.7 461.3 l6.66 3.84 v7.68 l-6.66 3.84 l-6.66 -3.84 v-7.68 zM707.0 461.3 l6.66 3.84 v7.68 l-6.66 3.84 l-6.66 -3.84 v-7.68 zM720.3 461.3 l6.66 3.84 v7.68 l-6.66 3.84 l-6.66 -3.84 v-7.68 zM733.6 461.3 l6.66 3.84 v7.68 l-6.66 3.84 l-6.66 -3.84 v-7.68 zM746.9 461.3 l6.66 3.84 v7.68 l-6.66 3.84 l-6.66 -3.84 v-7.68 zM340.9 472.8 l6.66 3.84 v7.68 l-6.66 3.84 l-6.66 -3.84 v-7.68 zM394.2 472.8 l6.66 3.84 v7.68 l-6.66 3.84 l-6.66 -3.84 v-7.68 zM407.5 472.8 l6.66 3.84 v7.68 l-6.66 3.84 l-6.66 -3.84 v-7.68 zM434.1 472.8 l6.66 3.84 v7.68 l-6.66 3.84 l-6.66 -3.84 v-7.68 zM447.4 472.8 l6.66 3.84 v7.68 l-6.66 3.84 l-6.66 -3.84 v-7.68 zM460.7 472.8 l6.66 3.84 v7.68 l-6.66 3.84 l-6.66 -3.84 v-7.68 zM474.0 472.8 l6.66 3.84 v7.68 l-6.66 3.84 l-6.66 -3.84 v-7.68 zM487.4 472.8 l6.66 3.84 v7.68 l-6.66 3.84 l-6.66 -3.84 v-7.68 zM500.7 472.8 l6.66 3.84 v7.68 l-6.66 3.84 l-6.66 -3.84 v-7.68 zM514.0 472.8 l6.66 3.84 v7.68 l-6.66 3.84 l-6.66 -3.84 v-7.68 zM527.3 472.8 l6.66 3.84 v7.68 l-6.66 3.84 l-6.66 -3.84 v-7.68 zM540.6 472.8 l6.66 3.84 v7.68 l-6.66 3.84 l-6.66 -3.84 v-7.68 zM553.9 472.8 l6.66 3.84 v7.68 l-6.66 3.84 l-6.66 -3.84 v-7.68 zM593.8 472.8 l6.66 3.84 v7.68 l-6.66 3.84 l-6.66 -3.84 v-7.68 zM633.8 472.8 l6.66 3.84 v7.68 l-6.66 3.84 l-6.66 -3.84 v-7.68 zM647.1 472.8 l6.66 3.84 v7.68 l-6.66 3.84 l-6.66 -3.84 v-7.68 zM660.4 472.8 l6.66 3.84 v7.68 l-6.66 3.84 l-6.66 -3.84 v-7.68 zM673.7 472.8 l6.66 3.84 v7.68 l-6.66 3.84 l-6.66 -3.84 v-7.68 zM687.0 472.8 l6.66 3.84 v7.68 l-6.66 3.84 l-6.66 -3.84 v-7.68 zM700.3 472.8 l6.66 3.84 v7.68 l-6.66 3.84 l-6.66 -3.84 v-7.68 zM713.6 472.8 l6.66 3.84 v7.68 l-6.66 3.84 l-6.66 -3.84 v-7.68 zM726.9 472.8 l6.66 3.84 v7.68 l-6.66 3.84 l-6.66 -3.84 v-7.68 zM740.2 472.8 l6.66 3.84 v7.68 l-6.66 3.84 l-6.66 -3.84 v-7.68 zM294.4 484.3 l6.66 3.84 v7.68 l-6.66 3.84 l-6.66 -3.84 v-7.68 zM321.0 484.3 l6.66 3.84 v7.68 l-6.66 3.84 l-6.66 -3.84 v-7.68 zM334.3 484.3 l6.66 3.84 v7.68 l-6.66 3.84 l-6.66 -3.84 v-7.68 zM360.9 484.3 l6.66 3.84 v7.68 l-6.66 3.84 l-6.66 -3.84 v-7.68 zM387.5 484.3 l6.66 3.84 v7.68 l-6.66 3.84 l-6.66 -3.84 v-7.68 zM400.8 484.3 l6.66 3.84 v7.68 l-6.66 3.84 l-6.66 -3.84 v-7.68 zM414.2 484.3 l6.66 3.84 v7.68 l-6.66 3.84 l-6.66 -3.84 v-7.68 zM427.5 484.3 l6.66 3.84 v7.68 l-6.66 3.84 l-6.66 -3.84 v-7.68 zM440.8 484.3 l6.66 3.84 v7.68 l-6.66 3.84 l-6.66 -3.84 v-7.68 zM454.1 484.3 l6.66 3.84 v7.68 l-6.66 3.84 l-6.66 -3.84 v-7.68 zM467.4 484.3 l6.66 3.84 v7.68 l-6.66 3.84 l-6.66 -3.84 v-7.68 zM480.7 484.3 l6.66 3.84 v7.68 l-6.66 3.84 l-6.66 -3.84 v-7.68 zM494.0 484.3 l6.66 3.84 v7.68 l-6.66 3.84 l-6.66 -3.84 v-7.68 zM507.3 484.3 l6.66 3.84 v7.68 l-6.66 3.84 l-6.66 -3.84 v-7.68 zM520.6 484.3 l6.66 3.84 v7.68 l-6.66 3.84 l-6.66 -3.84 v-7.68 zM533.9 484.3 l6.66 3.84 v7.68 l-6.66 3.84 l-6.66 -3.84 v-7.68 zM547.3 484.3 l6.66 3.84 v7.68 l-6.66 3.84 l-6.66 -3.84 v-7.68 zM560.6 484.3 l6.66 3.84 v7.68 l-6.66 3.84 l-6.66 -3.84 v-7.68 zM587.2 484.3 l6.66 3.84 v7.68 l-6.66 3.84 l-6.66 -3.84 v-7.68 zM600.5 484.3 l6.66 3.84 v7.68 l-6.66 3.84 l-6.66 -3.84 v-7.68 zM613.8 484.3 l6.66 3.84 v7.68 l-6.66 3.84 l-6.66 -3.84 v-7.68 zM627.1 484.3 l6.66 3.84 v7.68 l-6.66 3.84 l-6.66 -3.84 v-7.68 zM640.4 484.3 l6.66 3.84 v7.68 l-6.66 3.84 l-6.66 -3.84 v-7.68 zM653.7 484.3 l6.66 3.84 v7.68 l-6.66 3.84 l-6.66 -3.84 v-7.68 zM667.0 484.3 l6.66 3.84 v7.68 l-6.66 3.84 l-6.66 -3.84 v-7.68 zM680.4 484.3 l6.66 3.84 v7.68 l-6.66 3.84 l-6.66 -3.84 v-7.68 zM693.7 484.3 l6.66 3.84 v7.68 l-6.66 3.84 l-6.66 -3.84 v-7.68 zM707.0 484.3 l6.66 3.84 v7.68 l-6.66 3.84 l-6.66 -3.84 v-7.68 zM733.6 484.3 l6.66 3.84 v7.68 l-6.66 3.84 l-6.66 -3.84 v-7.68 zM746.9 484.3 l6.66 3.84 v7.68 l-6.66 3.84 l-6.66 -3.84 v-7.68 zM327.6 495.9 l6.66 3.84 v7.68 l-6.66 3.84 l-6.66 -3.84 v-7.68 zM367.6 495.9 l6.66 3.84 v7.68 l-6.66 3.84 l-6.66 -3.84 v-7.68 zM380.9 495.9 l6.66 3.84 v7.68 l-6.66 3.84 l-6.66 -3.84 v-7.68 zM394.2 495.9 l6.66 3.84 v7.68 l-6.66 3.84 l-6.66 -3.84 v-7.68 zM407.5 495.9 l6.66 3.84 v7.68 l-6.66 3.84 l-6.66 -3.84 v-7.68 zM420.8 495.9 l6.66 3.84 v7.68 l-6.66 3.84 l-6.66 -3.84 v-7.68 zM434.1 495.9 l6.66 3.84 v7.68 l-6.66 3.84 l-6.66 -3.84 v-7.68 zM447.4 495.9 l6.66 3.84 v7.68 l-6.66 3.84 l-6.66 -3.84 v-7.68 zM460.7 495.9 l6.66 3.84 v7.68 l-6.66 3.84 l-6.66 -3.84 v-7.68 zM474.0 495.9 l6.66 3.84 v7.68 l-6.66 3.84 l-6.66 -3.84 v-7.68 zM487.4 495.9 l6.66 3.84 v7.68 l-6.66 3.84 l-6.66 -3.84 v-7.68 zM500.7 495.9 l6.66 3.84 v7.68 l-6.66 3.84 l-6.66 -3.84 v-7.68 zM514.0 495.9 l6.66 3.84 v7.68 l-6.66 3.84 l-6.66 -3.84 v-7.68 zM527.3 495.9 l6.66 3.84 v7.68 l-6.66 3.84 l-6.66 -3.84 v-7.68 zM540.6 495.9 l6.66 3.84 v7.68 l-6.66 3.84 l-6.66 -3.84 v-7.68 zM553.9 495.9 l6.66 3.84 v7.68 l-6.66 3.84 l-6.66 -3.84 v-7.68 zM620.5 495.9 l6.66 3.84 v7.68 l-6.66 3.84 l-6.66 -3.84 v-7.68 zM633.8 495.9 l6.66 3.84 v7.68 l-6.66 3.84 l-6.66 -3.84 v-7.68 zM647.1 495.9 l6.66 3.84 v7.68 l-6.66 3.84 l-6.66 -3.84 v-7.68 zM660.4 495.9 l6.66 3.84 v7.68 l-6.66 3.84 l-6.66 -3.84 v-7.68 zM687.0 495.9 l6.66 3.84 v7.68 l-6.66 3.84 l-6.66 -3.84 v-7.68 zM700.3 495.9 l6.66 3.84 v7.68 l-6.66 3.84 l-6.66 -3.84 v-7.68 zM740.2 495.9 l6.66 3.84 v7.68 l-6.66 3.84 l-6.66 -3.84 v-7.68 zM753.6 495.9 l6.66 3.84 v7.68 l-6.66 3.84 l-6.66 -3.84 v-7.68 zM321.0 507.4 l6.66 3.84 v7.68 l-6.66 3.84 l-6.66 -3.84 v-7.68 zM334.3 507.4 l6.66 3.84 v7.68 l-6.66 3.84 l-6.66 -3.84 v-7.68 zM347.6 507.4 l6.66 3.84 v7.68 l-6.66 3.84 l-6.66 -3.84 v-7.68 zM374.2 507.4 l6.66 3.84 v7.68 l-6.66 3.84 l-6.66 -3.84 v-7.68 zM414.2 507.4 l6.66 3.84 v7.68 l-6.66 3.84 l-6.66 -3.84 v-7.68 zM427.5 507.4 l6.66 3.84 v7.68 l-6.66 3.84 l-6.66 -3.84 v-7.68 zM440.8 507.4 l6.66 3.84 v7.68 l-6.66 3.84 l-6.66 -3.84 v-7.68 zM454.1 507.4 l6.66 3.84 v7.68 l-6.66 3.84 l-6.66 -3.84 v-7.68 zM467.4 507.4 l6.66 3.84 v7.68 l-6.66 3.84 l-6.66 -3.84 v-7.68 zM480.7 507.4 l6.66 3.84 v7.68 l-6.66 3.84 l-6.66 -3.84 v-7.68 zM494.0 507.4 l6.66 3.84 v7.68 l-6.66 3.84 l-6.66 -3.84 v-7.68 zM507.3 507.4 l6.66 3.84 v7.68 l-6.66 3.84 l-6.66 -3.84 v-7.68 zM520.6 507.4 l6.66 3.84 v7.68 l-6.66 3.84 l-6.66 -3.84 v-7.68 zM533.9 507.4 l6.66 3.84 v7.68 l-6.66 3.84 l-6.66 -3.84 v-7.68 zM547.3 507.4 l6.66 3.84 v7.68 l-6.66 3.84 l-6.66 -3.84 v-7.68 zM560.6 507.4 l6.66 3.84 v7.68 l-6.66 3.84 l-6.66 -3.84 v-7.68 zM573.9 507.4 l6.66 3.84 v7.68 l-6.66 3.84 l-6.66 -3.84 v-7.68 zM587.2 507.4 l6.66 3.84 v7.68 l-6.66 3.84 l-6.66 -3.84 v-7.68 zM613.8 507.4 l6.66 3.84 v7.68 l-6.66 3.84 l-6.66 -3.84 v-7.68 zM627.1 507.4 l6.66 3.84 v7.68 l-6.66 3.84 l-6.66 -3.84 v-7.68 zM640.4 507.4 l6.66 3.84 v7.68 l-6.66 3.84 l-6.66 -3.84 v-7.68 zM653.7 507.4 l6.66 3.84 v7.68 l-6.66 3.84 l-6.66 -3.84 v-7.68 zM667.0 507.4 l6.66 3.84 v7.68 l-6.66 3.84 l-6.66 -3.84 v-7.68 zM680.4 507.4 l6.66 3.84 v7.68 l-6.66 3.84 l-6.66 -3.84 v-7.68 zM693.7 507.4 l6.66 3.84 v7.68 l-6.66 3.84 l-6.66 -3.84 v-7.68 zM707.0 507.4 l6.66 3.84 v7.68 l-6.66 3.84 l-6.66 -3.84 v-7.68 zM720.3 507.4 l6.66 3.84 v7.68 l-6.66 3.84 l-6.66 -3.84 v-7.68 zM733.6 507.4 l6.66 3.84 v7.68 l-6.66 3.84 l-6.66 -3.84 v-7.68 zM746.9 507.4 l6.66 3.84 v7.68 l-6.66 3.84 l-6.66 -3.84 v-7.68 zM314.3 518.9 l6.66 3.84 v7.68 l-6.66 3.84 l-6.66 -3.84 v-7.68 zM327.6 518.9 l6.66 3.84 v7.68 l-6.66 3.84 l-6.66 -3.84 v-7.68 zM340.9 518.9 l6.66 3.84 v7.68 l-6.66 3.84 l-6.66 -3.84 v-7.68 zM354.3 518.9 l6.66 3.84 v7.68 l-6.66 3.84 l-6.66 -3.84 v-7.68 zM367.6 518.9 l6.66 3.84 v7.68 l-6.66 3.84 l-6.66 -3.84 v-7.68 zM380.9 518.9 l6.66 3.84 v7.68 l-6.66 3.84 l-6.66 -3.84 v-7.68 zM394.2 518.9 l6.66 3.84 v7.68 l-6.66 3.84 l-6.66 -3.84 v-7.68 zM434.1 518.9 l6.66 3.84 v7.68 l-6.66 3.84 l-6.66 -3.84 v-7.68 zM447.4 518.9 l6.66 3.84 v7.68 l-6.66 3.84 l-6.66 -3.84 v-7.68 zM460.7 518.9 l6.66 3.84 v7.68 l-6.66 3.84 l-6.66 -3.84 v-7.68 zM474.0 518.9 l6.66 3.84 v7.68 l-6.66 3.84 l-6.66 -3.84 v-7.68 zM487.4 518.9 l6.66 3.84 v7.68 l-6.66 3.84 l-6.66 -3.84 v-7.68 zM500.7 518.9 l6.66 3.84 v7.68 l-6.66 3.84 l-6.66 -3.84 v-7.68 zM514.0 518.9 l6.66 3.84 v7.68 l-6.66 3.84 l-6.66 -3.84 v-7.68 zM527.3 518.9 l6.66 3.84 v7.68 l-6.66 3.84 l-6.66 -3.84 v-7.68 zM540.6 518.9 l6.66 3.84 v7.68 l-6.66 3.84 l-6.66 -3.84 v-7.68 zM553.9 518.9 l6.66 3.84 v7.68 l-6.66 3.84 l-6.66 -3.84 v-7.68 zM567.2 518.9 l6.66 3.84 v7.68 l-6.66 3.84 l-6.66 -3.84 v-7.68 zM580.5 518.9 l6.66 3.84 v7.68 l-6.66 3.84 l-6.66 -3.84 v-7.68 zM593.8 518.9 l6.66 3.84 v7.68 l-6.66 3.84 l-6.66 -3.84 v-7.68 zM607.1 518.9 l6.66 3.84 v7.68 l-6.66 3.84 l-6.66 -3.84 v-7.68 zM620.5 518.9 l6.66 3.84 v7.68 l-6.66 3.84 l-6.66 -3.84 v-7.68 zM633.8 518.9 l6.66 3.84 v7.68 l-6.66 3.84 l-6.66 -3.84 v-7.68 zM647.1 518.9 l6.66 3.84 v7.68 l-6.66 3.84 l-6.66 -3.84 v-7.68 zM660.4 518.9 l6.66 3.84 v7.68 l-6.66 3.84 l-6.66 -3.84 v-7.68 zM673.7 518.9 l6.66 3.84 v7.68 l-6.66 3.84 l-6.66 -3.84 v-7.68 zM687.0 518.9 l6.66 3.84 v7.68 l-6.66 3.84 l-6.66 -3.84 v-7.68 zM700.3 518.9 l6.66 3.84 v7.68 l-6.66 3.84 l-6.66 -3.84 v-7.68 zM726.9 518.9 l6.66 3.84 v7.68 l-6.66 3.84 l-6.66 -3.84 v-7.68 zM740.2 518.9 l6.66 3.84 v7.68 l-6.66 3.84 l-6.66 -3.84 v-7.68 zM753.6 518.9 l6.66 3.84 v7.68 l-6.66 3.84 l-6.66 -3.84 v-7.68 zM307.7 530.4 l6.66 3.84 v7.68 l-6.66 3.84 l-6.66 -3.84 v-7.68 zM360.9 530.4 l6.66 3.84 v7.68 l-6.66 3.84 l-6.66 -3.84 v-7.68 zM374.2 530.4 l6.66 3.84 v7.68 l-6.66 3.84 l-6.66 -3.84 v-7.68 zM414.2 530.4 l6.66 3.84 v7.68 l-6.66 3.84 l-6.66 -3.84 v-7.68 zM440.8 530.4 l6.66 3.84 v7.68 l-6.66 3.84 l-6.66 -3.84 v-7.68 zM454.1 530.4 l6.66 3.84 v7.68 l-6.66 3.84 l-6.66 -3.84 v-7.68 zM467.4 530.4 l6.66 3.84 v7.68 l-6.66 3.84 l-6.66 -3.84 v-7.68 zM480.7 530.4 l6.66 3.84 v7.68 l-6.66 3.84 l-6.66 -3.84 v-7.68 zM520.6 530.4 l6.66 3.84 v7.68 l-6.66 3.84 l-6.66 -3.84 v-7.68 zM533.9 530.4 l6.66 3.84 v7.68 l-6.66 3.84 l-6.66 -3.84 v-7.68 zM547.3 530.4 l6.66 3.84 v7.68 l-6.66 3.84 l-6.66 -3.84 v-7.68 zM560.6 530.4 l6.66 3.84 v7.68 l-6.66 3.84 l-6.66 -3.84 v-7.68 zM573.9 530.4 l6.66 3.84 v7.68 l-6.66 3.84 l-6.66 -3.84 v-7.68 zM587.2 530.4 l6.66 3.84 v7.68 l-6.66 3.84 l-6.66 -3.84 v-7.68 zM600.5 530.4 l6.66 3.84 v7.68 l-6.66 3.84 l-6.66 -3.84 v-7.68 zM613.8 530.4 l6.66 3.84 v7.68 l-6.66 3.84 l-6.66 -3.84 v-7.68 zM627.1 530.4 l6.66 3.84 v7.68 l-6.66 3.84 l-6.66 -3.84 v-7.68 zM640.4 530.4 l6.66 3.84 v7.68 l-6.66 3.84 l-6.66 -3.84 v-7.68 zM653.7 530.4 l6.66 3.84 v7.68 l-6.66 3.84 l-6.66 -3.84 v-7.68 zM667.0 530.4 l6.66 3.84 v7.68 l-6.66 3.84 l-6.66 -3.84 v-7.68 zM680.4 530.4 l6.66 3.84 v7.68 l-6.66 3.84 l-6.66 -3.84 v-7.68 zM693.7 530.4 l6.66 3.84 v7.68 l-6.66 3.84 l-6.66 -3.84 v-7.68 zM707.0 530.4 l6.66 3.84 v7.68 l-6.66 3.84 l-6.66 -3.84 v-7.68 zM720.3 530.4 l6.66 3.84 v7.68 l-6.66 3.84 l-6.66 -3.84 v-7.68 zM733.6 530.4 l6.66 3.84 v7.68 l-6.66 3.84 l-6.66 -3.84 v-7.68 zM746.9 530.4 l6.66 3.84 v7.68 l-6.66 3.84 l-6.66 -3.84 v-7.68 zM760.2 530.4 l6.66 3.84 v7.68 l-6.66 3.84 l-6.66 -3.84 v-7.68 zM773.5 530.4 l6.66 3.84 v7.68 l-6.66 3.84 l-6.66 -3.84 v-7.68 zM327.6 541.9 l6.66 3.84 v7.68 l-6.66 3.84 l-6.66 -3.84 v-7.68 zM367.6 541.9 l6.66 3.84 v7.68 l-6.66 3.84 l-6.66 -3.84 v-7.68 zM380.9 541.9 l6.66 3.84 v7.68 l-6.66 3.84 l-6.66 -3.84 v-7.68 zM394.2 541.9 l6.66 3.84 v7.68 l-6.66 3.84 l-6.66 -3.84 v-7.68 zM434.1 541.9 l6.66 3.84 v7.68 l-6.66 3.84 l-6.66 -3.84 v-7.68 zM447.4 541.9 l6.66 3.84 v7.68 l-6.66 3.84 l-6.66 -3.84 v-7.68 zM460.7 541.9 l6.66 3.84 v7.68 l-6.66 3.84 l-6.66 -3.84 v-7.68 zM474.0 541.9 l6.66 3.84 v7.68 l-6.66 3.84 l-6.66 -3.84 v-7.68 zM487.4 541.9 l6.66 3.84 v7.68 l-6.66 3.84 l-6.66 -3.84 v-7.68 zM527.3 541.9 l6.66 3.84 v7.68 l-6.66 3.84 l-6.66 -3.84 v-7.68 zM540.6 541.9 l6.66 3.84 v7.68 l-6.66 3.84 l-6.66 -3.84 v-7.68 zM580.5 541.9 l6.66 3.84 v7.68 l-6.66 3.84 l-6.66 -3.84 v-7.68 zM593.8 541.9 l6.66 3.84 v7.68 l-6.66 3.84 l-6.66 -3.84 v-7.68 zM607.1 541.9 l6.66 3.84 v7.68 l-6.66 3.84 l-6.66 -3.84 v-7.68 zM620.5 541.9 l6.66 3.84 v7.68 l-6.66 3.84 l-6.66 -3.84 v-7.68 zM633.8 541.9 l6.66 3.84 v7.68 l-6.66 3.84 l-6.66 -3.84 v-7.68 zM647.1 541.9 l6.66 3.84 v7.68 l-6.66 3.84 l-6.66 -3.84 v-7.68 zM660.4 541.9 l6.66 3.84 v7.68 l-6.66 3.84 l-6.66 -3.84 v-7.68 zM673.7 541.9 l6.66 3.84 v7.68 l-6.66 3.84 l-6.66 -3.84 v-7.68 zM687.0 541.9 l6.66 3.84 v7.68 l-6.66 3.84 l-6.66 -3.84 v-7.68 zM713.6 541.9 l6.66 3.84 v7.68 l-6.66 3.84 l-6.66 -3.84 v-7.68 zM726.9 541.9 l6.66 3.84 v7.68 l-6.66 3.84 l-6.66 -3.84 v-7.68 zM740.2 541.9 l6.66 3.84 v7.68 l-6.66 3.84 l-6.66 -3.84 v-7.68 zM753.6 541.9 l6.66 3.84 v7.68 l-6.66 3.84 l-6.66 -3.84 v-7.68 zM334.3 553.5 l6.66 3.84 v7.68 l-6.66 3.84 l-6.66 -3.84 v-7.68 zM347.6 553.5 l6.66 3.84 v7.68 l-6.66 3.84 l-6.66 -3.84 v-7.68 zM374.2 553.5 l6.66 3.84 v7.68 l-6.66 3.84 l-6.66 -3.84 v-7.68 zM387.5 553.5 l6.66 3.84 v7.68 l-6.66 3.84 l-6.66 -3.84 v-7.68 zM400.8 553.5 l6.66 3.84 v7.68 l-6.66 3.84 l-6.66 -3.84 v-7.68 zM414.2 553.5 l6.66 3.84 v7.68 l-6.66 3.84 l-6.66 -3.84 v-7.68 zM427.5 553.5 l6.66 3.84 v7.68 l-6.66 3.84 l-6.66 -3.84 v-7.68 zM440.8 553.5 l6.66 3.84 v7.68 l-6.66 3.84 l-6.66 -3.84 v-7.68 zM454.1 553.5 l6.66 3.84 v7.68 l-6.66 3.84 l-6.66 -3.84 v-7.68 zM467.4 553.5 l6.66 3.84 v7.68 l-6.66 3.84 l-6.66 -3.84 v-7.68 zM480.7 553.5 l6.66 3.84 v7.68 l-6.66 3.84 l-6.66 -3.84 v-7.68 zM494.0 553.5 l6.66 3.84 v7.68 l-6.66 3.84 l-6.66 -3.84 v-7.68 zM507.3 553.5 l6.66 3.84 v7.68 l-6.66 3.84 l-6.66 -3.84 v-7.68 zM573.9 553.5 l6.66 3.84 v7.68 l-6.66 3.84 l-6.66 -3.84 v-7.68 zM587.2 553.5 l6.66 3.84 v7.68 l-6.66 3.84 l-6.66 -3.84 v-7.68 zM600.5 553.5 l6.66 3.84 v7.68 l-6.66 3.84 l-6.66 -3.84 v-7.68 zM613.8 553.5 l6.66 3.84 v7.68 l-6.66 3.84 l-6.66 -3.84 v-7.68 zM627.1 553.5 l6.66 3.84 v7.68 l-6.66 3.84 l-6.66 -3.84 v-7.68 zM640.4 553.5 l6.66 3.84 v7.68 l-6.66 3.84 l-6.66 -3.84 v-7.68 zM653.7 553.5 l6.66 3.84 v7.68 l-6.66 3.84 l-6.66 -3.84 v-7.68 zM667.0 553.5 l6.66 3.84 v7.68 l-6.66 3.84 l-6.66 -3.84 v-7.68 zM680.4 553.5 l6.66 3.84 v7.68 l-6.66 3.84 l-6.66 -3.84 v-7.68 zM693.7 553.5 l6.66 3.84 v7.68 l-6.66 3.84 l-6.66 -3.84 v-7.68 zM707.0 553.5 l6.66 3.84 v7.68 l-6.66 3.84 l-6.66 -3.84 v-7.68 zM720.3 553.5 l6.66 3.84 v7.68 l-6.66 3.84 l-6.66 -3.84 v-7.68 zM733.6 553.5 l6.66 3.84 v7.68 l-6.66 3.84 l-6.66 -3.84 v-7.68 zM746.9 553.5 l6.66 3.84 v7.68 l-6.66 3.84 l-6.66 -3.84 v-7.68 zM760.2 553.5 l6.66 3.84 v7.68 l-6.66 3.84 l-6.66 -3.84 v-7.68 zM340.9 565.0 l6.66 3.84 v7.68 l-6.66 3.84 l-6.66 -3.84 v-7.68 zM354.3 565.0 l6.66 3.84 v7.68 l-6.66 3.84 l-6.66 -3.84 v-7.68 zM367.6 565.0 l6.66 3.84 v7.68 l-6.66 3.84 l-6.66 -3.84 v-7.68 zM380.9 565.0 l6.66 3.84 v7.68 l-6.66 3.84 l-6.66 -3.84 v-7.68 zM394.2 565.0 l6.66 3.84 v7.68 l-6.66 3.84 l-6.66 -3.84 v-7.68 zM407.5 565.0 l6.66 3.84 v7.68 l-6.66 3.84 l-6.66 -3.84 v-7.68 zM447.4 565.0 l6.66 3.84 v7.68 l-6.66 3.84 l-6.66 -3.84 v-7.68 zM460.7 565.0 l6.66 3.84 v7.68 l-6.66 3.84 l-6.66 -3.84 v-7.68 zM474.0 565.0 l6.66 3.84 v7.68 l-6.66 3.84 l-6.66 -3.84 v-7.68 zM487.4 565.0 l6.66 3.84 v7.68 l-6.66 3.84 l-6.66 -3.84 v-7.68 zM500.7 565.0 l6.66 3.84 v7.68 l-6.66 3.84 l-6.66 -3.84 v-7.68 zM514.0 565.0 l6.66 3.84 v7.68 l-6.66 3.84 l-6.66 -3.84 v-7.68 zM527.3 565.0 l6.66 3.84 v7.68 l-6.66 3.84 l-6.66 -3.84 v-7.68 zM540.6 565.0 l6.66 3.84 v7.68 l-6.66 3.84 l-6.66 -3.84 v-7.68 zM593.8 565.0 l6.66 3.84 v7.68 l-6.66 3.84 l-6.66 -3.84 v-7.68 zM607.1 565.0 l6.66 3.84 v7.68 l-6.66 3.84 l-6.66 -3.84 v-7.68 zM620.5 565.0 l6.66 3.84 v7.68 l-6.66 3.84 l-6.66 -3.84 v-7.68 zM633.8 565.0 l6.66 3.84 v7.68 l-6.66 3.84 l-6.66 -3.84 v-7.68 zM647.1 565.0 l6.66 3.84 v7.68 l-6.66 3.84 l-6.66 -3.84 v-7.68 zM660.4 565.0 l6.66 3.84 v7.68 l-6.66 3.84 l-6.66 -3.84 v-7.68 zM673.7 565.0 l6.66 3.84 v7.68 l-6.66 3.84 l-6.66 -3.84 v-7.68 zM700.3 565.0 l6.66 3.84 v7.68 l-6.66 3.84 l-6.66 -3.84 v-7.68 zM726.9 565.0 l6.66 3.84 v7.68 l-6.66 3.84 l-6.66 -3.84 v-7.68 zM740.2 565.0 l6.66 3.84 v7.68 l-6.66 3.84 l-6.66 -3.84 v-7.68 zM753.6 565.0 l6.66 3.84 v7.68 l-6.66 3.84 l-6.66 -3.84 v-7.68 zM766.9 565.0 l6.66 3.84 v7.68 l-6.66 3.84 l-6.66 -3.84 v-7.68 zM780.2 565.0 l6.66 3.84 v7.68 l-6.66 3.84 l-6.66 -3.84 v-7.68 zM820.1 565.0 l6.66 3.84 v7.68 l-6.66 3.84 l-6.66 -3.84 v-7.68 zM334.3 576.5 l6.66 3.84 v7.68 l-6.66 3.84 l-6.66 -3.84 v-7.68 zM347.6 576.5 l6.66 3.84 v7.68 l-6.66 3.84 l-6.66 -3.84 v-7.68 zM360.9 576.5 l6.66 3.84 v7.68 l-6.66 3.84 l-6.66 -3.84 v-7.68 zM374.2 576.5 l6.66 3.84 v7.68 l-6.66 3.84 l-6.66 -3.84 v-7.68 zM387.5 576.5 l6.66 3.84 v7.68 l-6.66 3.84 l-6.66 -3.84 v-7.68 zM400.8 576.5 l6.66 3.84 v7.68 l-6.66 3.84 l-6.66 -3.84 v-7.68 zM427.5 576.5 l6.66 3.84 v7.68 l-6.66 3.84 l-6.66 -3.84 v-7.68 zM440.8 576.5 l6.66 3.84 v7.68 l-6.66 3.84 l-6.66 -3.84 v-7.68 zM467.4 576.5 l6.66 3.84 v7.68 l-6.66 3.84 l-6.66 -3.84 v-7.68 zM480.7 576.5 l6.66 3.84 v7.68 l-6.66 3.84 l-6.66 -3.84 v-7.68 zM494.0 576.5 l6.66 3.84 v7.68 l-6.66 3.84 l-6.66 -3.84 v-7.68 zM507.3 576.5 l6.66 3.84 v7.68 l-6.66 3.84 l-6.66 -3.84 v-7.68 zM520.6 576.5 l6.66 3.84 v7.68 l-6.66 3.84 l-6.66 -3.84 v-7.68 zM533.9 576.5 l6.66 3.84 v7.68 l-6.66 3.84 l-6.66 -3.84 v-7.68 zM547.3 576.5 l6.66 3.84 v7.68 l-6.66 3.84 l-6.66 -3.84 v-7.68 zM560.6 576.5 l6.66 3.84 v7.68 l-6.66 3.84 l-6.66 -3.84 v-7.68 zM573.9 576.5 l6.66 3.84 v7.68 l-6.66 3.84 l-6.66 -3.84 v-7.68 zM587.2 576.5 l6.66 3.84 v7.68 l-6.66 3.84 l-6.66 -3.84 v-7.68 zM600.5 576.5 l6.66 3.84 v7.68 l-6.66 3.84 l-6.66 -3.84 v-7.68 zM613.8 576.5 l6.66 3.84 v7.68 l-6.66 3.84 l-6.66 -3.84 v-7.68 zM627.1 576.5 l6.66 3.84 v7.68 l-6.66 3.84 l-6.66 -3.84 v-7.68 zM640.4 576.5 l6.66 3.84 v7.68 l-6.66 3.84 l-6.66 -3.84 v-7.68 zM667.0 576.5 l6.66 3.84 v7.68 l-6.66 3.84 l-6.66 -3.84 v-7.68 zM680.4 576.5 l6.66 3.84 v7.68 l-6.66 3.84 l-6.66 -3.84 v-7.68 zM693.7 576.5 l6.66 3.84 v7.68 l-6.66 3.84 l-6.66 -3.84 v-7.68 zM707.0 576.5 l6.66 3.84 v7.68 l-6.66 3.84 l-6.66 -3.84 v-7.68 zM720.3 576.5 l6.66 3.84 v7.68 l-6.66 3.84 l-6.66 -3.84 v-7.68 zM733.6 576.5 l6.66 3.84 v7.68 l-6.66 3.84 l-6.66 -3.84 v-7.68 zM746.9 576.5 l6.66 3.84 v7.68 l-6.66 3.84 l-6.66 -3.84 v-7.68 zM760.2 576.5 l6.66 3.84 v7.68 l-6.66 3.84 l-6.66 -3.84 v-7.68 zM773.5 576.5 l6.66 3.84 v7.68 l-6.66 3.84 l-6.66 -3.84 v-7.68 zM786.8 576.5 l6.66 3.84 v7.68 l-6.66 3.84 l-6.66 -3.84 v-7.68 zM800.1 576.5 l6.66 3.84 v7.68 l-6.66 3.84 l-6.66 -3.84 v-7.68 zM340.9 588.0 l6.66 3.84 v7.68 l-6.66 3.84 l-6.66 -3.84 v-7.68 zM380.9 588.0 l6.66 3.84 v7.68 l-6.66 3.84 l-6.66 -3.84 v-7.68 zM447.4 588.0 l6.66 3.84 v7.68 l-6.66 3.84 l-6.66 -3.84 v-7.68 zM460.7 588.0 l6.66 3.84 v7.68 l-6.66 3.84 l-6.66 -3.84 v-7.68 zM474.0 588.0 l6.66 3.84 v7.68 l-6.66 3.84 l-6.66 -3.84 v-7.68 zM500.7 588.0 l6.66 3.84 v7.68 l-6.66 3.84 l-6.66 -3.84 v-7.68 zM514.0 588.0 l6.66 3.84 v7.68 l-6.66 3.84 l-6.66 -3.84 v-7.68 zM527.3 588.0 l6.66 3.84 v7.68 l-6.66 3.84 l-6.66 -3.84 v-7.68 zM540.6 588.0 l6.66 3.84 v7.68 l-6.66 3.84 l-6.66 -3.84 v-7.68 zM553.9 588.0 l6.66 3.84 v7.68 l-6.66 3.84 l-6.66 -3.84 v-7.68 zM567.2 588.0 l6.66 3.84 v7.68 l-6.66 3.84 l-6.66 -3.84 v-7.68 zM580.5 588.0 l6.66 3.84 v7.68 l-6.66 3.84 l-6.66 -3.84 v-7.68 zM593.8 588.0 l6.66 3.84 v7.68 l-6.66 3.84 l-6.66 -3.84 v-7.68 zM607.1 588.0 l6.66 3.84 v7.68 l-6.66 3.84 l-6.66 -3.84 v-7.68 zM633.8 588.0 l6.66 3.84 v7.68 l-6.66 3.84 l-6.66 -3.84 v-7.68 zM647.1 588.0 l6.66 3.84 v7.68 l-6.66 3.84 l-6.66 -3.84 v-7.68 zM660.4 588.0 l6.66 3.84 v7.68 l-6.66 3.84 l-6.66 -3.84 v-7.68 zM673.7 588.0 l6.66 3.84 v7.68 l-6.66 3.84 l-6.66 -3.84 v-7.68 zM687.0 588.0 l6.66 3.84 v7.68 l-6.66 3.84 l-6.66 -3.84 v-7.68 zM700.3 588.0 l6.66 3.84 v7.68 l-6.66 3.84 l-6.66 -3.84 v-7.68 zM713.6 588.0 l6.66 3.84 v7.68 l-6.66 3.84 l-6.66 -3.84 v-7.68 zM726.9 588.0 l6.66 3.84 v7.68 l-6.66 3.84 l-6.66 -3.84 v-7.68 zM740.2 588.0 l6.66 3.84 v7.68 l-6.66 3.84 l-6.66 -3.84 v-7.68 zM753.6 588.0 l6.66 3.84 v7.68 l-6.66 3.84 l-6.66 -3.84 v-7.68 zM766.9 588.0 l6.66 3.84 v7.68 l-6.66 3.84 l-6.66 -3.84 v-7.68 zM780.2 588.0 l6.66 3.84 v7.68 l-6.66 3.84 l-6.66 -3.84 v-7.68 zM806.8 588.0 l6.66 3.84 v7.68 l-6.66 3.84 l-6.66 -3.84 v-7.68 zM833.4 588.0 l6.66 3.84 v7.68 l-6.66 3.84 l-6.66 -3.84 v-7.68 zM440.8 599.5 l6.66 3.84 v7.68 l-6.66 3.84 l-6.66 -3.84 v-7.68 zM454.1 599.5 l6.66 3.84 v7.68 l-6.66 3.84 l-6.66 -3.84 v-7.68 zM467.4 599.5 l6.66 3.84 v7.68 l-6.66 3.84 l-6.66 -3.84 v-7.68 zM480.7 599.5 l6.66 3.84 v7.68 l-6.66 3.84 l-6.66 -3.84 v-7.68 zM494.0 599.5 l6.66 3.84 v7.68 l-6.66 3.84 l-6.66 -3.84 v-7.68 zM507.3 599.5 l6.66 3.84 v7.68 l-6.66 3.84 l-6.66 -3.84 v-7.68 zM520.6 599.5 l6.66 3.84 v7.68 l-6.66 3.84 l-6.66 -3.84 v-7.68 zM533.9 599.5 l6.66 3.84 v7.68 l-6.66 3.84 l-6.66 -3.84 v-7.68 zM547.3 599.5 l6.66 3.84 v7.68 l-6.66 3.84 l-6.66 -3.84 v-7.68 zM560.6 599.5 l6.66 3.84 v7.68 l-6.66 3.84 l-6.66 -3.84 v-7.68 zM573.9 599.5 l6.66 3.84 v7.68 l-6.66 3.84 l-6.66 -3.84 v-7.68 zM600.5 599.5 l6.66 3.84 v7.68 l-6.66 3.84 l-6.66 -3.84 v-7.68 zM613.8 599.5 l6.66 3.84 v7.68 l-6.66 3.84 l-6.66 -3.84 v-7.68 zM627.1 599.5 l6.66 3.84 v7.68 l-6.66 3.84 l-6.66 -3.84 v-7.68 zM680.4 599.5 l6.66 3.84 v7.68 l-6.66 3.84 l-6.66 -3.84 v-7.68 zM693.7 599.5 l6.66 3.84 v7.68 l-6.66 3.84 l-6.66 -3.84 v-7.68 zM707.0 599.5 l6.66 3.84 v7.68 l-6.66 3.84 l-6.66 -3.84 v-7.68 zM720.3 599.5 l6.66 3.84 v7.68 l-6.66 3.84 l-6.66 -3.84 v-7.68 zM733.6 599.5 l6.66 3.84 v7.68 l-6.66 3.84 l-6.66 -3.84 v-7.68 zM746.9 599.5 l6.66 3.84 v7.68 l-6.66 3.84 l-6.66 -3.84 v-7.68 zM760.2 599.5 l6.66 3.84 v7.68 l-6.66 3.84 l-6.66 -3.84 v-7.68 zM773.5 599.5 l6.66 3.84 v7.68 l-6.66 3.84 l-6.66 -3.84 v-7.68 zM786.8 599.5 l6.66 3.84 v7.68 l-6.66 3.84 l-6.66 -3.84 v-7.68 zM813.5 599.5 l6.66 3.84 v7.68 l-6.66 3.84 l-6.66 -3.84 v-7.68 zM826.8 599.5 l6.66 3.84 v7.68 l-6.66 3.84 l-6.66 -3.84 v-7.68 zM840.1 599.5 l6.66 3.84 v7.68 l-6.66 3.84 l-6.66 -3.84 v-7.68 zM853.4 599.5 l6.66 3.84 v7.68 l-6.66 3.84 l-6.66 -3.84 v-7.68 z" fill="#d966f6" stroke="#b44ad8" stroke-width=".7" stroke-opacity=".55"/>
<path d="M527.3 -11.0 l6.66 3.84 v7.68 l-6.66 3.84 l-6.66 -3.84 v-7.68 zM540.6 -11.0 l6.66 3.84 v7.68 l-6.66 3.84 l-6.66 -3.84 v-7.68 zM766.9 -11.0 l6.66 3.84 v7.68 l-6.66 3.84 l-6.66 -3.84 v-7.68 zM806.8 -11.0 l6.66 3.84 v7.68 l-6.66 3.84 l-6.66 -3.84 v-7.68 zM820.1 -11.0 l6.66 3.84 v7.68 l-6.66 3.84 l-6.66 -3.84 v-7.68 zM773.5 0.5 l6.66 3.84 v7.68 l-6.66 3.84 l-6.66 -3.84 v-7.68 zM540.6 12.0 l6.66 3.84 v7.68 l-6.66 3.84 l-6.66 -3.84 v-7.68 zM820.1 12.0 l6.66 3.84 v7.68 l-6.66 3.84 l-6.66 -3.84 v-7.68 zM547.3 23.5 l6.66 3.84 v7.68 l-6.66 3.84 l-6.66 -3.84 v-7.68 zM826.8 23.5 l6.66 3.84 v7.68 l-6.66 3.84 l-6.66 -3.84 v-7.68 zM853.4 23.5 l6.66 3.84 v7.68 l-6.66 3.84 l-6.66 -3.84 v-7.68 zM474.0 35.1 l6.66 3.84 v7.68 l-6.66 3.84 l-6.66 -3.84 v-7.68 zM726.9 35.1 l6.66 3.84 v7.68 l-6.66 3.84 l-6.66 -3.84 v-7.68 zM846.7 35.1 l6.66 3.84 v7.68 l-6.66 3.84 l-6.66 -3.84 v-7.68 zM860.0 35.1 l6.66 3.84 v7.68 l-6.66 3.84 l-6.66 -3.84 v-7.68 zM707.0 46.6 l6.66 3.84 v7.68 l-6.66 3.84 l-6.66 -3.84 v-7.68 zM733.6 46.6 l6.66 3.84 v7.68 l-6.66 3.84 l-6.66 -3.84 v-7.68 zM826.8 46.6 l6.66 3.84 v7.68 l-6.66 3.84 l-6.66 -3.84 v-7.68 zM840.1 46.6 l6.66 3.84 v7.68 l-6.66 3.84 l-6.66 -3.84 v-7.68 zM866.7 46.6 l6.66 3.84 v7.68 l-6.66 3.84 l-6.66 -3.84 v-7.68 zM740.2 58.1 l6.66 3.84 v7.68 l-6.66 3.84 l-6.66 -3.84 v-7.68 zM753.6 58.1 l6.66 3.84 v7.68 l-6.66 3.84 l-6.66 -3.84 v-7.68 zM780.2 58.1 l6.66 3.84 v7.68 l-6.66 3.84 l-6.66 -3.84 v-7.68 zM833.4 58.1 l6.66 3.84 v7.68 l-6.66 3.84 l-6.66 -3.84 v-7.68 zM873.4 58.1 l6.66 3.84 v7.68 l-6.66 3.84 l-6.66 -3.84 v-7.68 zM454.1 69.6 l6.66 3.84 v7.68 l-6.66 3.84 l-6.66 -3.84 v-7.68 zM507.3 69.6 l6.66 3.84 v7.68 l-6.66 3.84 l-6.66 -3.84 v-7.68 zM707.0 69.6 l6.66 3.84 v7.68 l-6.66 3.84 l-6.66 -3.84 v-7.68 zM733.6 69.6 l6.66 3.84 v7.68 l-6.66 3.84 l-6.66 -3.84 v-7.68 zM746.9 69.6 l6.66 3.84 v7.68 l-6.66 3.84 l-6.66 -3.84 v-7.68 zM786.8 69.6 l6.66 3.84 v7.68 l-6.66 3.84 l-6.66 -3.84 v-7.68 zM880.0 69.6 l6.66 3.84 v7.68 l-6.66 3.84 l-6.66 -3.84 v-7.68 zM500.7 81.1 l6.66 3.84 v7.68 l-6.66 3.84 l-6.66 -3.84 v-7.68 zM700.3 81.1 l6.66 3.84 v7.68 l-6.66 3.84 l-6.66 -3.84 v-7.68 zM740.2 81.1 l6.66 3.84 v7.68 l-6.66 3.84 l-6.66 -3.84 v-7.68 zM766.9 81.1 l6.66 3.84 v7.68 l-6.66 3.84 l-6.66 -3.84 v-7.68 zM780.2 81.1 l6.66 3.84 v7.68 l-6.66 3.84 l-6.66 -3.84 v-7.68 zM793.5 81.1 l6.66 3.84 v7.68 l-6.66 3.84 l-6.66 -3.84 v-7.68 zM806.8 81.1 l6.66 3.84 v7.68 l-6.66 3.84 l-6.66 -3.84 v-7.68 zM820.1 81.1 l6.66 3.84 v7.68 l-6.66 3.84 l-6.66 -3.84 v-7.68 zM833.4 81.1 l6.66 3.84 v7.68 l-6.66 3.84 l-6.66 -3.84 v-7.68 zM860.0 81.1 l6.66 3.84 v7.68 l-6.66 3.84 l-6.66 -3.84 v-7.68 zM873.4 81.1 l6.66 3.84 v7.68 l-6.66 3.84 l-6.66 -3.84 v-7.68 zM886.7 81.1 l6.66 3.84 v7.68 l-6.66 3.84 l-6.66 -3.84 v-7.68 zM720.3 92.7 l6.66 3.84 v7.68 l-6.66 3.84 l-6.66 -3.84 v-7.68 zM746.9 92.7 l6.66 3.84 v7.68 l-6.66 3.84 l-6.66 -3.84 v-7.68 zM773.5 92.7 l6.66 3.84 v7.68 l-6.66 3.84 l-6.66 -3.84 v-7.68 zM800.1 92.7 l6.66 3.84 v7.68 l-6.66 3.84 l-6.66 -3.84 v-7.68 zM813.5 92.7 l6.66 3.84 v7.68 l-6.66 3.84 l-6.66 -3.84 v-7.68 zM826.8 92.7 l6.66 3.84 v7.68 l-6.66 3.84 l-6.66 -3.84 v-7.68 zM880.0 92.7 l6.66 3.84 v7.68 l-6.66 3.84 l-6.66 -3.84 v-7.68 zM367.6 104.2 l6.66 3.84 v7.68 l-6.66 3.84 l-6.66 -3.84 v-7.68 zM514.0 104.2 l6.66 3.84 v7.68 l-6.66 3.84 l-6.66 -3.84 v-7.68 zM700.3 104.2 l6.66 3.84 v7.68 l-6.66 3.84 l-6.66 -3.84 v-7.68 zM753.6 104.2 l6.66 3.84 v7.68 l-6.66 3.84 l-6.66 -3.84 v-7.68 zM780.2 104.2 l6.66 3.84 v7.68 l-6.66 3.84 l-6.66 -3.84 v-7.68 zM793.5 104.2 l6.66 3.84 v7.68 l-6.66 3.84 l-6.66 -3.84 v-7.68 zM806.8 104.2 l6.66 3.84 v7.68 l-6.66 3.84 l-6.66 -3.84 v-7.68 zM820.1 104.2 l6.66 3.84 v7.68 l-6.66 3.84 l-6.66 -3.84 v-7.68 zM833.4 104.2 l6.66 3.84 v7.68 l-6.66 3.84 l-6.66 -3.84 v-7.68 zM846.7 104.2 l6.66 3.84 v7.68 l-6.66 3.84 l-6.66 -3.84 v-7.68 zM860.0 104.2 l6.66 3.84 v7.68 l-6.66 3.84 l-6.66 -3.84 v-7.68 zM873.4 104.2 l6.66 3.84 v7.68 l-6.66 3.84 l-6.66 -3.84 v-7.68 zM886.7 104.2 l6.66 3.84 v7.68 l-6.66 3.84 l-6.66 -3.84 v-7.68 zM640.4 115.7 l6.66 3.84 v7.68 l-6.66 3.84 l-6.66 -3.84 v-7.68 zM667.0 115.7 l6.66 3.84 v7.68 l-6.66 3.84 l-6.66 -3.84 v-7.68 zM760.2 115.7 l6.66 3.84 v7.68 l-6.66 3.84 l-6.66 -3.84 v-7.68 zM773.5 115.7 l6.66 3.84 v7.68 l-6.66 3.84 l-6.66 -3.84 v-7.68 zM786.8 115.7 l6.66 3.84 v7.68 l-6.66 3.84 l-6.66 -3.84 v-7.68 zM800.1 115.7 l6.66 3.84 v7.68 l-6.66 3.84 l-6.66 -3.84 v-7.68 zM813.5 115.7 l6.66 3.84 v7.68 l-6.66 3.84 l-6.66 -3.84 v-7.68 zM840.1 115.7 l6.66 3.84 v7.68 l-6.66 3.84 l-6.66 -3.84 v-7.68 zM853.4 115.7 l6.66 3.84 v7.68 l-6.66 3.84 l-6.66 -3.84 v-7.68 zM866.7 115.7 l6.66 3.84 v7.68 l-6.66 3.84 l-6.66 -3.84 v-7.68 zM633.8 127.2 l6.66 3.84 v7.68 l-6.66 3.84 l-6.66 -3.84 v-7.68 zM673.7 127.2 l6.66 3.84 v7.68 l-6.66 3.84 l-6.66 -3.84 v-7.68 zM780.2 127.2 l6.66 3.84 v7.68 l-6.66 3.84 l-6.66 -3.84 v-7.68 zM820.1 127.2 l6.66 3.84 v7.68 l-6.66 3.84 l-6.66 -3.84 v-7.68 zM833.4 127.2 l6.66 3.84 v7.68 l-6.66 3.84 l-6.66 -3.84 v-7.68 zM846.7 127.2 l6.66 3.84 v7.68 l-6.66 3.84 l-6.66 -3.84 v-7.68 zM640.4 138.7 l6.66 3.84 v7.68 l-6.66 3.84 l-6.66 -3.84 v-7.68 zM653.7 138.7 l6.66 3.84 v7.68 l-6.66 3.84 l-6.66 -3.84 v-7.68 zM680.4 138.7 l6.66 3.84 v7.68 l-6.66 3.84 l-6.66 -3.84 v-7.68 zM813.5 138.7 l6.66 3.84 v7.68 l-6.66 3.84 l-6.66 -3.84 v-7.68 zM826.8 138.7 l6.66 3.84 v7.68 l-6.66 3.84 l-6.66 -3.84 v-7.68 zM840.1 138.7 l6.66 3.84 v7.68 l-6.66 3.84 l-6.66 -3.84 v-7.68 zM866.7 138.7 l6.66 3.84 v7.68 l-6.66 3.84 l-6.66 -3.84 v-7.68 zM380.9 150.3 l6.66 3.84 v7.68 l-6.66 3.84 l-6.66 -3.84 v-7.68 zM434.1 150.3 l6.66 3.84 v7.68 l-6.66 3.84 l-6.66 -3.84 v-7.68 zM687.0 150.3 l6.66 3.84 v7.68 l-6.66 3.84 l-6.66 -3.84 v-7.68 zM820.1 150.3 l6.66 3.84 v7.68 l-6.66 3.84 l-6.66 -3.84 v-7.68 zM833.4 150.3 l6.66 3.84 v7.68 l-6.66 3.84 l-6.66 -3.84 v-7.68 zM860.0 150.3 l6.66 3.84 v7.68 l-6.66 3.84 l-6.66 -3.84 v-7.68 zM613.8 161.8 l6.66 3.84 v7.68 l-6.66 3.84 l-6.66 -3.84 v-7.68 zM853.4 161.8 l6.66 3.84 v7.68 l-6.66 3.84 l-6.66 -3.84 v-7.68 zM880.0 161.8 l6.66 3.84 v7.68 l-6.66 3.84 l-6.66 -3.84 v-7.68 zM540.6 173.3 l6.66 3.84 v7.68 l-6.66 3.84 l-6.66 -3.84 v-7.68 zM567.2 173.3 l6.66 3.84 v7.68 l-6.66 3.84 l-6.66 -3.84 v-7.68 zM607.1 173.3 l6.66 3.84 v7.68 l-6.66 3.84 l-6.66 -3.84 v-7.68 zM860.0 173.3 l6.66 3.84 v7.68 l-6.66 3.84 l-6.66 -3.84 v-7.68 zM600.5 184.8 l6.66 3.84 v7.68 l-6.66 3.84 l-6.66 -3.84 v-7.68 zM680.4 184.8 l6.66 3.84 v7.68 l-6.66 3.84 l-6.66 -3.84 v-7.68 zM760.2 184.8 l6.66 3.84 v7.68 l-6.66 3.84 l-6.66 -3.84 v-7.68 zM866.7 184.8 l6.66 3.84 v7.68 l-6.66 3.84 l-6.66 -3.84 v-7.68 zM354.3 196.3 l6.66 3.84 v7.68 l-6.66 3.84 l-6.66 -3.84 v-7.68 zM713.6 196.3 l6.66 3.84 v7.68 l-6.66 3.84 l-6.66 -3.84 v-7.68 zM740.2 196.3 l6.66 3.84 v7.68 l-6.66 3.84 l-6.66 -3.84 v-7.68 zM360.9 207.9 l6.66 3.84 v7.68 l-6.66 3.84 l-6.66 -3.84 v-7.68 zM680.4 207.9 l6.66 3.84 v7.68 l-6.66 3.84 l-6.66 -3.84 v-7.68 zM720.3 207.9 l6.66 3.84 v7.68 l-6.66 3.84 l-6.66 -3.84 v-7.68 zM853.4 207.9 l6.66 3.84 v7.68 l-6.66 3.84 l-6.66 -3.84 v-7.68 zM660.4 219.4 l6.66 3.84 v7.68 l-6.66 3.84 l-6.66 -3.84 v-7.68 zM766.9 219.4 l6.66 3.84 v7.68 l-6.66 3.84 l-6.66 -3.84 v-7.68 zM873.4 219.4 l6.66 3.84 v7.68 l-6.66 3.84 l-6.66 -3.84 v-7.68 zM733.6 230.9 l6.66 3.84 v7.68 l-6.66 3.84 l-6.66 -3.84 v-7.68 zM746.9 230.9 l6.66 3.84 v7.68 l-6.66 3.84 l-6.66 -3.84 v-7.68 zM760.2 230.9 l6.66 3.84 v7.68 l-6.66 3.84 l-6.66 -3.84 v-7.68 zM853.4 230.9 l6.66 3.84 v7.68 l-6.66 3.84 l-6.66 -3.84 v-7.68 zM866.7 230.9 l6.66 3.84 v7.68 l-6.66 3.84 l-6.66 -3.84 v-7.68 zM919.9 230.9 l6.66 3.84 v7.68 l-6.66 3.84 l-6.66 -3.84 v-7.68 zM340.9 242.4 l6.66 3.84 v7.68 l-6.66 3.84 l-6.66 -3.84 v-7.68 zM753.6 242.4 l6.66 3.84 v7.68 l-6.66 3.84 l-6.66 -3.84 v-7.68 zM780.2 242.4 l6.66 3.84 v7.68 l-6.66 3.84 l-6.66 -3.84 v-7.68 zM793.5 242.4 l6.66 3.84 v7.68 l-6.66 3.84 l-6.66 -3.84 v-7.68 zM820.1 242.4 l6.66 3.84 v7.68 l-6.66 3.84 l-6.66 -3.84 v-7.68 zM900.0 242.4 l6.66 3.84 v7.68 l-6.66 3.84 l-6.66 -3.84 v-7.68 zM547.3 253.9 l6.66 3.84 v7.68 l-6.66 3.84 l-6.66 -3.84 v-7.68 zM653.7 253.9 l6.66 3.84 v7.68 l-6.66 3.84 l-6.66 -3.84 v-7.68 zM746.9 253.9 l6.66 3.84 v7.68 l-6.66 3.84 l-6.66 -3.84 v-7.68 zM773.5 253.9 l6.66 3.84 v7.68 l-6.66 3.84 l-6.66 -3.84 v-7.68 zM813.5 253.9 l6.66 3.84 v7.68 l-6.66 3.84 l-6.66 -3.84 v-7.68 zM826.8 253.9 l6.66 3.84 v7.68 l-6.66 3.84 l-6.66 -3.84 v-7.68 zM840.1 253.9 l6.66 3.84 v7.68 l-6.66 3.84 l-6.66 -3.84 v-7.68 zM880.0 253.9 l6.66 3.84 v7.68 l-6.66 3.84 l-6.66 -3.84 v-7.68 zM906.6 253.9 l6.66 3.84 v7.68 l-6.66 3.84 l-6.66 -3.84 v-7.68 zM919.9 253.9 l6.66 3.84 v7.68 l-6.66 3.84 l-6.66 -3.84 v-7.68 zM540.6 265.5 l6.66 3.84 v7.68 l-6.66 3.84 l-6.66 -3.84 v-7.68 zM793.5 265.5 l6.66 3.84 v7.68 l-6.66 3.84 l-6.66 -3.84 v-7.68 zM806.8 265.5 l6.66 3.84 v7.68 l-6.66 3.84 l-6.66 -3.84 v-7.68 zM820.1 265.5 l6.66 3.84 v7.68 l-6.66 3.84 l-6.66 -3.84 v-7.68 zM600.5 277.0 l6.66 3.84 v7.68 l-6.66 3.84 l-6.66 -3.84 v-7.68 zM613.8 277.0 l6.66 3.84 v7.68 l-6.66 3.84 l-6.66 -3.84 v-7.68 zM627.1 277.0 l6.66 3.84 v7.68 l-6.66 3.84 l-6.66 -3.84 v-7.68 zM826.8 277.0 l6.66 3.84 v7.68 l-6.66 3.84 l-6.66 -3.84 v-7.68 zM866.7 277.0 l6.66 3.84 v7.68 l-6.66 3.84 l-6.66 -3.84 v-7.68 zM880.0 277.0 l6.66 3.84 v7.68 l-6.66 3.84 l-6.66 -3.84 v-7.68 zM906.6 277.0 l6.66 3.84 v7.68 l-6.66 3.84 l-6.66 -3.84 v-7.68 zM527.3 288.5 l6.66 3.84 v7.68 l-6.66 3.84 l-6.66 -3.84 v-7.68 zM607.1 288.5 l6.66 3.84 v7.68 l-6.66 3.84 l-6.66 -3.84 v-7.68 zM620.5 288.5 l6.66 3.84 v7.68 l-6.66 3.84 l-6.66 -3.84 v-7.68 zM633.8 288.5 l6.66 3.84 v7.68 l-6.66 3.84 l-6.66 -3.84 v-7.68 zM647.1 288.5 l6.66 3.84 v7.68 l-6.66 3.84 l-6.66 -3.84 v-7.68 zM766.9 288.5 l6.66 3.84 v7.68 l-6.66 3.84 l-6.66 -3.84 v-7.68 zM926.6 288.5 l6.66 3.84 v7.68 l-6.66 3.84 l-6.66 -3.84 v-7.68 zM294.4 300.0 l6.66 3.84 v7.68 l-6.66 3.84 l-6.66 -3.84 v-7.68 zM627.1 300.0 l6.66 3.84 v7.68 l-6.66 3.84 l-6.66 -3.84 v-7.68 zM640.4 300.0 l6.66 3.84 v7.68 l-6.66 3.84 l-6.66 -3.84 v-7.68 zM653.7 300.0 l6.66 3.84 v7.68 l-6.66 3.84 l-6.66 -3.84 v-7.68 zM786.8 300.0 l6.66 3.84 v7.68 l-6.66 3.84 l-6.66 -3.84 v-7.68 zM933.2 300.0 l6.66 3.84 v7.68 l-6.66 3.84 l-6.66 -3.84 v-7.68 zM620.5 311.5 l6.66 3.84 v7.68 l-6.66 3.84 l-6.66 -3.84 v-7.68 zM793.5 311.5 l6.66 3.84 v7.68 l-6.66 3.84 l-6.66 -3.84 v-7.68 zM820.1 311.5 l6.66 3.84 v7.68 l-6.66 3.84 l-6.66 -3.84 v-7.68 zM900.0 311.5 l6.66 3.84 v7.68 l-6.66 3.84 l-6.66 -3.84 v-7.68 zM913.3 311.5 l6.66 3.84 v7.68 l-6.66 3.84 l-6.66 -3.84 v-7.68 zM926.6 311.5 l6.66 3.84 v7.68 l-6.66 3.84 l-6.66 -3.84 v-7.68 zM939.9 311.5 l6.66 3.84 v7.68 l-6.66 3.84 l-6.66 -3.84 v-7.68 zM494.0 323.1 l6.66 3.84 v7.68 l-6.66 3.84 l-6.66 -3.84 v-7.68 zM933.2 323.1 l6.66 3.84 v7.68 l-6.66 3.84 l-6.66 -3.84 v-7.68 zM946.6 323.1 l6.66 3.84 v7.68 l-6.66 3.84 l-6.66 -3.84 v-7.68 zM474.0 334.6 l6.66 3.84 v7.68 l-6.66 3.84 l-6.66 -3.84 v-7.68 zM633.8 334.6 l6.66 3.84 v7.68 l-6.66 3.84 l-6.66 -3.84 v-7.68 zM660.4 334.6 l6.66 3.84 v7.68 l-6.66 3.84 l-6.66 -3.84 v-7.68 zM687.0 334.6 l6.66 3.84 v7.68 l-6.66 3.84 l-6.66 -3.84 v-7.68 zM700.3 334.6 l6.66 3.84 v7.68 l-6.66 3.84 l-6.66 -3.84 v-7.68 zM926.6 334.6 l6.66 3.84 v7.68 l-6.66 3.84 l-6.66 -3.84 v-7.68 zM573.9 346.1 l6.66 3.84 v7.68 l-6.66 3.84 l-6.66 -3.84 v-7.68 zM600.5 346.1 l6.66 3.84 v7.68 l-6.66 3.84 l-6.66 -3.84 v-7.68 zM627.1 346.1 l6.66 3.84 v7.68 l-6.66 3.84 l-6.66 -3.84 v-7.68 zM946.6 346.1 l6.66 3.84 v7.68 l-6.66 3.84 l-6.66 -3.84 v-7.68 zM500.7 357.6 l6.66 3.84 v7.68 l-6.66 3.84 l-6.66 -3.84 v-7.68 zM567.2 357.6 l6.66 3.84 v7.68 l-6.66 3.84 l-6.66 -3.84 v-7.68 zM580.5 357.6 l6.66 3.84 v7.68 l-6.66 3.84 l-6.66 -3.84 v-7.68 zM647.1 357.6 l6.66 3.84 v7.68 l-6.66 3.84 l-6.66 -3.84 v-7.68 zM939.9 357.6 l6.66 3.84 v7.68 l-6.66 3.84 l-6.66 -3.84 v-7.68 zM454.1 369.1 l6.66 3.84 v7.68 l-6.66 3.84 l-6.66 -3.84 v-7.68 zM573.9 369.1 l6.66 3.84 v7.68 l-6.66 3.84 l-6.66 -3.84 v-7.68 zM880.0 369.1 l6.66 3.84 v7.68 l-6.66 3.84 l-6.66 -3.84 v-7.68 zM893.3 369.1 l6.66 3.84 v7.68 l-6.66 3.84 l-6.66 -3.84 v-7.68 zM906.6 369.1 l6.66 3.84 v7.68 l-6.66 3.84 l-6.66 -3.84 v-7.68 zM287.7 380.7 l6.66 3.84 v7.68 l-6.66 3.84 l-6.66 -3.84 v-7.68 zM394.2 380.7 l6.66 3.84 v7.68 l-6.66 3.84 l-6.66 -3.84 v-7.68 zM460.7 380.7 l6.66 3.84 v7.68 l-6.66 3.84 l-6.66 -3.84 v-7.68 zM500.7 380.7 l6.66 3.84 v7.68 l-6.66 3.84 l-6.66 -3.84 v-7.68 zM514.0 380.7 l6.66 3.84 v7.68 l-6.66 3.84 l-6.66 -3.84 v-7.68 zM593.8 380.7 l6.66 3.84 v7.68 l-6.66 3.84 l-6.66 -3.84 v-7.68 zM860.0 380.7 l6.66 3.84 v7.68 l-6.66 3.84 l-6.66 -3.84 v-7.68 zM873.4 380.7 l6.66 3.84 v7.68 l-6.66 3.84 l-6.66 -3.84 v-7.68 zM886.7 380.7 l6.66 3.84 v7.68 l-6.66 3.84 l-6.66 -3.84 v-7.68 zM400.8 392.2 l6.66 3.84 v7.68 l-6.66 3.84 l-6.66 -3.84 v-7.68 zM467.4 392.2 l6.66 3.84 v7.68 l-6.66 3.84 l-6.66 -3.84 v-7.68 zM480.7 392.2 l6.66 3.84 v7.68 l-6.66 3.84 l-6.66 -3.84 v-7.68 zM520.6 392.2 l6.66 3.84 v7.68 l-6.66 3.84 l-6.66 -3.84 v-7.68 zM680.4 392.2 l6.66 3.84 v7.68 l-6.66 3.84 l-6.66 -3.84 v-7.68 zM707.0 392.2 l6.66 3.84 v7.68 l-6.66 3.84 l-6.66 -3.84 v-7.68 zM853.4 392.2 l6.66 3.84 v7.68 l-6.66 3.84 l-6.66 -3.84 v-7.68 zM866.7 392.2 l6.66 3.84 v7.68 l-6.66 3.84 l-6.66 -3.84 v-7.68 zM633.8 403.7 l6.66 3.84 v7.68 l-6.66 3.84 l-6.66 -3.84 v-7.68 zM833.4 403.7 l6.66 3.84 v7.68 l-6.66 3.84 l-6.66 -3.84 v-7.68 zM573.9 415.2 l6.66 3.84 v7.68 l-6.66 3.84 l-6.66 -3.84 v-7.68 zM813.5 415.2 l6.66 3.84 v7.68 l-6.66 3.84 l-6.66 -3.84 v-7.68 zM301.0 426.7 l6.66 3.84 v7.68 l-6.66 3.84 l-6.66 -3.84 v-7.68 zM447.4 426.7 l6.66 3.84 v7.68 l-6.66 3.84 l-6.66 -3.84 v-7.68 zM527.3 426.7 l6.66 3.84 v7.68 l-6.66 3.84 l-6.66 -3.84 v-7.68 zM540.6 426.7 l6.66 3.84 v7.68 l-6.66 3.84 l-6.66 -3.84 v-7.68 zM580.5 426.7 l6.66 3.84 v7.68 l-6.66 3.84 l-6.66 -3.84 v-7.68 zM660.4 426.7 l6.66 3.84 v7.68 l-6.66 3.84 l-6.66 -3.84 v-7.68 zM780.2 426.7 l6.66 3.84 v7.68 l-6.66 3.84 l-6.66 -3.84 v-7.68 zM793.5 426.7 l6.66 3.84 v7.68 l-6.66 3.84 l-6.66 -3.84 v-7.68 zM806.8 426.7 l6.66 3.84 v7.68 l-6.66 3.84 l-6.66 -3.84 v-7.68 zM307.7 438.3 l6.66 3.84 v7.68 l-6.66 3.84 l-6.66 -3.84 v-7.68 zM347.6 438.3 l6.66 3.84 v7.68 l-6.66 3.84 l-6.66 -3.84 v-7.68 zM520.6 438.3 l6.66 3.84 v7.68 l-6.66 3.84 l-6.66 -3.84 v-7.68 zM533.9 438.3 l6.66 3.84 v7.68 l-6.66 3.84 l-6.66 -3.84 v-7.68 zM627.1 438.3 l6.66 3.84 v7.68 l-6.66 3.84 l-6.66 -3.84 v-7.68 zM680.4 438.3 l6.66 3.84 v7.68 l-6.66 3.84 l-6.66 -3.84 v-7.68 zM760.2 438.3 l6.66 3.84 v7.68 l-6.66 3.84 l-6.66 -3.84 v-7.68 zM314.3 449.8 l6.66 3.84 v7.68 l-6.66 3.84 l-6.66 -3.84 v-7.68 zM327.6 449.8 l6.66 3.84 v7.68 l-6.66 3.84 l-6.66 -3.84 v-7.68 zM340.9 449.8 l6.66 3.84 v7.68 l-6.66 3.84 l-6.66 -3.84 v-7.68 zM367.6 449.8 l6.66 3.84 v7.68 l-6.66 3.84 l-6.66 -3.84 v-7.68 zM420.8 449.8 l6.66 3.84 v7.68 l-6.66 3.84 l-6.66 -3.84 v-7.68 zM460.7 449.8 l6.66 3.84 v7.68 l-6.66 3.84 l-6.66 -3.84 v-7.68 zM553.9 449.8 l6.66 3.84 v7.68 l-6.66 3.84 l-6.66 -3.84 v-7.68 zM580.5 449.8 l6.66 3.84 v7.68 l-6.66 3.84 l-6.66 -3.84 v-7.68 zM687.0 449.8 l6.66 3.84 v7.68 l-6.66 3.84 l-6.66 -3.84 v-7.68 zM294.4 461.3 l6.66 3.84 v7.68 l-6.66 3.84 l-6.66 -3.84 v-7.68 zM307.7 461.3 l6.66 3.84 v7.68 l-6.66 3.84 l-6.66 -3.84 v-7.68 zM334.3 461.3 l6.66 3.84 v7.68 l-6.66 3.84 l-6.66 -3.84 v-7.68 zM360.9 461.3 l6.66 3.84 v7.68 l-6.66 3.84 l-6.66 -3.84 v-7.68 zM374.2 461.3 l6.66 3.84 v7.68 l-6.66 3.84 l-6.66 -3.84 v-7.68 zM414.2 461.3 l6.66 3.84 v7.68 l-6.66 3.84 l-6.66 -3.84 v-7.68 zM427.5 461.3 l6.66 3.84 v7.68 l-6.66 3.84 l-6.66 -3.84 v-7.68 zM547.3 461.3 l6.66 3.84 v7.68 l-6.66 3.84 l-6.66 -3.84 v-7.68 zM600.5 461.3 l6.66 3.84 v7.68 l-6.66 3.84 l-6.66 -3.84 v-7.68 zM613.8 461.3 l6.66 3.84 v7.68 l-6.66 3.84 l-6.66 -3.84 v-7.68 zM640.4 461.3 l6.66 3.84 v7.68 l-6.66 3.84 l-6.66 -3.84 v-7.68 zM760.2 461.3 l6.66 3.84 v7.68 l-6.66 3.84 l-6.66 -3.84 v-7.68 zM301.0 472.8 l6.66 3.84 v7.68 l-6.66 3.84 l-6.66 -3.84 v-7.68 zM314.3 472.8 l6.66 3.84 v7.68 l-6.66 3.84 l-6.66 -3.84 v-7.68 zM327.6 472.8 l6.66 3.84 v7.68 l-6.66 3.84 l-6.66 -3.84 v-7.68 zM354.3 472.8 l6.66 3.84 v7.68 l-6.66 3.84 l-6.66 -3.84 v-7.68 zM367.6 472.8 l6.66 3.84 v7.68 l-6.66 3.84 l-6.66 -3.84 v-7.68 zM380.9 472.8 l6.66 3.84 v7.68 l-6.66 3.84 l-6.66 -3.84 v-7.68 zM420.8 472.8 l6.66 3.84 v7.68 l-6.66 3.84 l-6.66 -3.84 v-7.68 zM567.2 472.8 l6.66 3.84 v7.68 l-6.66 3.84 l-6.66 -3.84 v-7.68 zM580.5 472.8 l6.66 3.84 v7.68 l-6.66 3.84 l-6.66 -3.84 v-7.68 zM607.1 472.8 l6.66 3.84 v7.68 l-6.66 3.84 l-6.66 -3.84 v-7.68 zM753.6 472.8 l6.66 3.84 v7.68 l-6.66 3.84 l-6.66 -3.84 v-7.68 zM307.7 484.3 l6.66 3.84 v7.68 l-6.66 3.84 l-6.66 -3.84 v-7.68 zM374.2 484.3 l6.66 3.84 v7.68 l-6.66 3.84 l-6.66 -3.84 v-7.68 zM573.9 484.3 l6.66 3.84 v7.68 l-6.66 3.84 l-6.66 -3.84 v-7.68 zM720.3 484.3 l6.66 3.84 v7.68 l-6.66 3.84 l-6.66 -3.84 v-7.68 zM760.2 484.3 l6.66 3.84 v7.68 l-6.66 3.84 l-6.66 -3.84 v-7.68 zM301.0 495.9 l6.66 3.84 v7.68 l-6.66 3.84 l-6.66 -3.84 v-7.68 zM314.3 495.9 l6.66 3.84 v7.68 l-6.66 3.84 l-6.66 -3.84 v-7.68 zM340.9 495.9 l6.66 3.84 v7.68 l-6.66 3.84 l-6.66 -3.84 v-7.68 zM354.3 495.9 l6.66 3.84 v7.68 l-6.66 3.84 l-6.66 -3.84 v-7.68 zM567.2 495.9 l6.66 3.84 v7.68 l-6.66 3.84 l-6.66 -3.84 v-7.68 zM673.7 495.9 l6.66 3.84 v7.68 l-6.66 3.84 l-6.66 -3.84 v-7.68 zM713.6 495.9 l6.66 3.84 v7.68 l-6.66 3.84 l-6.66 -3.84 v-7.68 zM726.9 495.9 l6.66 3.84 v7.68 l-6.66 3.84 l-6.66 -3.84 v-7.68 zM766.9 495.9 l6.66 3.84 v7.68 l-6.66 3.84 l-6.66 -3.84 v-7.68 zM307.7 507.4 l6.66 3.84 v7.68 l-6.66 3.84 l-6.66 -3.84 v-7.68 zM360.9 507.4 l6.66 3.84 v7.68 l-6.66 3.84 l-6.66 -3.84 v-7.68 zM387.5 507.4 l6.66 3.84 v7.68 l-6.66 3.84 l-6.66 -3.84 v-7.68 zM760.2 507.4 l6.66 3.84 v7.68 l-6.66 3.84 l-6.66 -3.84 v-7.68 zM773.5 507.4 l6.66 3.84 v7.68 l-6.66 3.84 l-6.66 -3.84 v-7.68 zM420.8 518.9 l6.66 3.84 v7.68 l-6.66 3.84 l-6.66 -3.84 v-7.68 zM713.6 518.9 l6.66 3.84 v7.68 l-6.66 3.84 l-6.66 -3.84 v-7.68 zM766.9 518.9 l6.66 3.84 v7.68 l-6.66 3.84 l-6.66 -3.84 v-7.68 zM334.3 530.4 l6.66 3.84 v7.68 l-6.66 3.84 l-6.66 -3.84 v-7.68 zM347.6 530.4 l6.66 3.84 v7.68 l-6.66 3.84 l-6.66 -3.84 v-7.68 zM400.8 530.4 l6.66 3.84 v7.68 l-6.66 3.84 l-6.66 -3.84 v-7.68 zM494.0 530.4 l6.66 3.84 v7.68 l-6.66 3.84 l-6.66 -3.84 v-7.68 zM314.3 541.9 l6.66 3.84 v7.68 l-6.66 3.84 l-6.66 -3.84 v-7.68 zM407.5 541.9 l6.66 3.84 v7.68 l-6.66 3.84 l-6.66 -3.84 v-7.68 zM500.7 541.9 l6.66 3.84 v7.68 l-6.66 3.84 l-6.66 -3.84 v-7.68 zM514.0 541.9 l6.66 3.84 v7.68 l-6.66 3.84 l-6.66 -3.84 v-7.68 zM553.9 541.9 l6.66 3.84 v7.68 l-6.66 3.84 l-6.66 -3.84 v-7.68 zM700.3 541.9 l6.66 3.84 v7.68 l-6.66 3.84 l-6.66 -3.84 v-7.68 zM766.9 541.9 l6.66 3.84 v7.68 l-6.66 3.84 l-6.66 -3.84 v-7.68 zM780.2 541.9 l6.66 3.84 v7.68 l-6.66 3.84 l-6.66 -3.84 v-7.68 zM321.0 553.5 l6.66 3.84 v7.68 l-6.66 3.84 l-6.66 -3.84 v-7.68 zM520.6 553.5 l6.66 3.84 v7.68 l-6.66 3.84 l-6.66 -3.84 v-7.68 zM533.9 553.5 l6.66 3.84 v7.68 l-6.66 3.84 l-6.66 -3.84 v-7.68 zM547.3 553.5 l6.66 3.84 v7.68 l-6.66 3.84 l-6.66 -3.84 v-7.68 zM560.6 553.5 l6.66 3.84 v7.68 l-6.66 3.84 l-6.66 -3.84 v-7.68 zM800.1 553.5 l6.66 3.84 v7.68 l-6.66 3.84 l-6.66 -3.84 v-7.68 zM813.5 553.5 l6.66 3.84 v7.68 l-6.66 3.84 l-6.66 -3.84 v-7.68 zM327.6 565.0 l6.66 3.84 v7.68 l-6.66 3.84 l-6.66 -3.84 v-7.68 zM420.8 565.0 l6.66 3.84 v7.68 l-6.66 3.84 l-6.66 -3.84 v-7.68 zM434.1 565.0 l6.66 3.84 v7.68 l-6.66 3.84 l-6.66 -3.84 v-7.68 zM553.9 565.0 l6.66 3.84 v7.68 l-6.66 3.84 l-6.66 -3.84 v-7.68 zM567.2 565.0 l6.66 3.84 v7.68 l-6.66 3.84 l-6.66 -3.84 v-7.68 zM580.5 565.0 l6.66 3.84 v7.68 l-6.66 3.84 l-6.66 -3.84 v-7.68 zM713.6 565.0 l6.66 3.84 v7.68 l-6.66 3.84 l-6.66 -3.84 v-7.68 zM793.5 565.0 l6.66 3.84 v7.68 l-6.66 3.84 l-6.66 -3.84 v-7.68 zM806.8 565.0 l6.66 3.84 v7.68 l-6.66 3.84 l-6.66 -3.84 v-7.68 zM414.2 576.5 l6.66 3.84 v7.68 l-6.66 3.84 l-6.66 -3.84 v-7.68 zM813.5 576.5 l6.66 3.84 v7.68 l-6.66 3.84 l-6.66 -3.84 v-7.68 zM826.8 576.5 l6.66 3.84 v7.68 l-6.66 3.84 l-6.66 -3.84 v-7.68 zM367.6 588.0 l6.66 3.84 v7.68 l-6.66 3.84 l-6.66 -3.84 v-7.68 zM394.2 588.0 l6.66 3.84 v7.68 l-6.66 3.84 l-6.66 -3.84 v-7.68 zM407.5 588.0 l6.66 3.84 v7.68 l-6.66 3.84 l-6.66 -3.84 v-7.68 zM420.8 588.0 l6.66 3.84 v7.68 l-6.66 3.84 l-6.66 -3.84 v-7.68 zM793.5 588.0 l6.66 3.84 v7.68 l-6.66 3.84 l-6.66 -3.84 v-7.68 zM820.1 588.0 l6.66 3.84 v7.68 l-6.66 3.84 l-6.66 -3.84 v-7.68 zM400.8 599.5 l6.66 3.84 v7.68 l-6.66 3.84 l-6.66 -3.84 v-7.68 zM414.2 599.5 l6.66 3.84 v7.68 l-6.66 3.84 l-6.66 -3.84 v-7.68 zM427.5 599.5 l6.66 3.84 v7.68 l-6.66 3.84 l-6.66 -3.84 v-7.68 zM587.2 599.5 l6.66 3.84 v7.68 l-6.66 3.84 l-6.66 -3.84 v-7.68 zM640.4 599.5 l6.66 3.84 v7.68 l-6.66 3.84 l-6.66 -3.84 v-7.68 zM667.0 599.5 l6.66 3.84 v7.68 l-6.66 3.84 l-6.66 -3.84 v-7.68 zM800.1 599.5 l6.66 3.84 v7.68 l-6.66 3.84 l-6.66 -3.84 v-7.68 zM866.7 599.5 l6.66 3.84 v7.68 l-6.66 3.84 l-6.66 -3.84 v-7.68 zM474.0 -11.0 l6.66 3.84 v7.68 l-6.66 3.84 l-6.66 -3.84 v-7.68 z" fill="#78aef5" stroke="#5b8fe0" stroke-width=".7" stroke-opacity=".55"/>
<path d="M833.4 -11.0 l6.66 3.84 v7.68 l-6.66 3.84 l-6.66 -3.84 v-7.68 zM653.7 0.5 l6.66 3.84 v7.68 l-6.66 3.84 l-6.66 -3.84 v-7.68 zM693.7 0.5 l6.66 3.84 v7.68 l-6.66 3.84 l-6.66 -3.84 v-7.68 zM707.0 0.5 l6.66 3.84 v7.68 l-6.66 3.84 l-6.66 -3.84 v-7.68 zM813.5 0.5 l6.66 3.84 v7.68 l-6.66 3.84 l-6.66 -3.84 v-7.68 zM826.8 0.5 l6.66 3.84 v7.68 l-6.66 3.84 l-6.66 -3.84 v-7.68 zM840.1 0.5 l6.66 3.84 v7.68 l-6.66 3.84 l-6.66 -3.84 v-7.68 zM833.4 12.0 l6.66 3.84 v7.68 l-6.66 3.84 l-6.66 -3.84 v-7.68 zM494.0 23.5 l6.66 3.84 v7.68 l-6.66 3.84 l-6.66 -3.84 v-7.68 zM414.2 46.6 l6.66 3.84 v7.68 l-6.66 3.84 l-6.66 -3.84 v-7.68 zM746.9 46.6 l6.66 3.84 v7.68 l-6.66 3.84 l-6.66 -3.84 v-7.68 zM760.2 46.6 l6.66 3.84 v7.68 l-6.66 3.84 l-6.66 -3.84 v-7.68 zM773.5 46.6 l6.66 3.84 v7.68 l-6.66 3.84 l-6.66 -3.84 v-7.68 zM853.4 46.6 l6.66 3.84 v7.68 l-6.66 3.84 l-6.66 -3.84 v-7.68 zM367.6 58.1 l6.66 3.84 v7.68 l-6.66 3.84 l-6.66 -3.84 v-7.68 zM380.9 58.1 l6.66 3.84 v7.68 l-6.66 3.84 l-6.66 -3.84 v-7.68 zM394.2 58.1 l6.66 3.84 v7.68 l-6.66 3.84 l-6.66 -3.84 v-7.68 zM760.2 69.6 l6.66 3.84 v7.68 l-6.66 3.84 l-6.66 -3.84 v-7.68 zM866.7 69.6 l6.66 3.84 v7.68 l-6.66 3.84 l-6.66 -3.84 v-7.68 zM367.6 81.1 l6.66 3.84 v7.68 l-6.66 3.84 l-6.66 -3.84 v-7.68 zM713.6 81.1 l6.66 3.84 v7.68 l-6.66 3.84 l-6.66 -3.84 v-7.68 zM753.6 81.1 l6.66 3.84 v7.68 l-6.66 3.84 l-6.66 -3.84 v-7.68 zM786.8 92.7 l6.66 3.84 v7.68 l-6.66 3.84 l-6.66 -3.84 v-7.68 zM766.9 104.2 l6.66 3.84 v7.68 l-6.66 3.84 l-6.66 -3.84 v-7.68 zM826.8 115.7 l6.66 3.84 v7.68 l-6.66 3.84 l-6.66 -3.84 v-7.68 zM873.4 127.2 l6.66 3.84 v7.68 l-6.66 3.84 l-6.66 -3.84 v-7.68 zM673.7 150.3 l6.66 3.84 v7.68 l-6.66 3.84 l-6.66 -3.84 v-7.68 zM813.5 161.8 l6.66 3.84 v7.68 l-6.66 3.84 l-6.66 -3.84 v-7.68 zM893.3 161.8 l6.66 3.84 v7.68 l-6.66 3.84 l-6.66 -3.84 v-7.68 zM354.3 173.3 l6.66 3.84 v7.68 l-6.66 3.84 l-6.66 -3.84 v-7.68 zM367.6 173.3 l6.66 3.84 v7.68 l-6.66 3.84 l-6.66 -3.84 v-7.68 zM347.6 184.8 l6.66 3.84 v7.68 l-6.66 3.84 l-6.66 -3.84 v-7.68 zM906.6 184.8 l6.66 3.84 v7.68 l-6.66 3.84 l-6.66 -3.84 v-7.68 zM394.2 196.3 l6.66 3.84 v7.68 l-6.66 3.84 l-6.66 -3.84 v-7.68 zM540.6 196.3 l6.66 3.84 v7.68 l-6.66 3.84 l-6.66 -3.84 v-7.68 zM900.0 196.3 l6.66 3.84 v7.68 l-6.66 3.84 l-6.66 -3.84 v-7.68 zM454.1 207.9 l6.66 3.84 v7.68 l-6.66 3.84 l-6.66 -3.84 v-7.68 zM906.6 207.9 l6.66 3.84 v7.68 l-6.66 3.84 l-6.66 -3.84 v-7.68 zM367.6 219.4 l6.66 3.84 v7.68 l-6.66 3.84 l-6.66 -3.84 v-7.68 zM460.7 219.4 l6.66 3.84 v7.68 l-6.66 3.84 l-6.66 -3.84 v-7.68 zM673.7 219.4 l6.66 3.84 v7.68 l-6.66 3.84 l-6.66 -3.84 v-7.68 zM900.0 219.4 l6.66 3.84 v7.68 l-6.66 3.84 l-6.66 -3.84 v-7.68 zM913.3 219.4 l6.66 3.84 v7.68 l-6.66 3.84 l-6.66 -3.84 v-7.68 zM913.3 242.4 l6.66 3.84 v7.68 l-6.66 3.84 l-6.66 -3.84 v-7.68 zM627.1 253.9 l6.66 3.84 v7.68 l-6.66 3.84 l-6.66 -3.84 v-7.68 zM893.3 253.9 l6.66 3.84 v7.68 l-6.66 3.84 l-6.66 -3.84 v-7.68 zM301.0 265.5 l6.66 3.84 v7.68 l-6.66 3.84 l-6.66 -3.84 v-7.68 zM327.6 265.5 l6.66 3.84 v7.68 l-6.66 3.84 l-6.66 -3.84 v-7.68 zM553.9 265.5 l6.66 3.84 v7.68 l-6.66 3.84 l-6.66 -3.84 v-7.68 zM647.1 265.5 l6.66 3.84 v7.68 l-6.66 3.84 l-6.66 -3.84 v-7.68 zM660.4 265.5 l6.66 3.84 v7.68 l-6.66 3.84 l-6.66 -3.84 v-7.68 zM860.0 265.5 l6.66 3.84 v7.68 l-6.66 3.84 l-6.66 -3.84 v-7.68 zM873.4 265.5 l6.66 3.84 v7.68 l-6.66 3.84 l-6.66 -3.84 v-7.68 zM913.3 265.5 l6.66 3.84 v7.68 l-6.66 3.84 l-6.66 -3.84 v-7.68 zM294.4 277.0 l6.66 3.84 v7.68 l-6.66 3.84 l-6.66 -3.84 v-7.68 zM533.9 277.0 l6.66 3.84 v7.68 l-6.66 3.84 l-6.66 -3.84 v-7.68 zM547.3 277.0 l6.66 3.84 v7.68 l-6.66 3.84 l-6.66 -3.84 v-7.68 zM640.4 277.0 l6.66 3.84 v7.68 l-6.66 3.84 l-6.66 -3.84 v-7.68 zM919.9 277.0 l6.66 3.84 v7.68 l-6.66 3.84 l-6.66 -3.84 v-7.68 zM540.6 288.5 l6.66 3.84 v7.68 l-6.66 3.84 l-6.66 -3.84 v-7.68 zM593.8 288.5 l6.66 3.84 v7.68 l-6.66 3.84 l-6.66 -3.84 v-7.68 zM673.7 288.5 l6.66 3.84 v7.68 l-6.66 3.84 l-6.66 -3.84 v-7.68 zM806.8 288.5 l6.66 3.84 v7.68 l-6.66 3.84 l-6.66 -3.84 v-7.68 zM846.7 288.5 l6.66 3.84 v7.68 l-6.66 3.84 l-6.66 -3.84 v-7.68 zM900.0 288.5 l6.66 3.84 v7.68 l-6.66 3.84 l-6.66 -3.84 v-7.68 zM307.7 300.0 l6.66 3.84 v7.68 l-6.66 3.84 l-6.66 -3.84 v-7.68 zM600.5 300.0 l6.66 3.84 v7.68 l-6.66 3.84 l-6.66 -3.84 v-7.68 zM773.5 300.0 l6.66 3.84 v7.68 l-6.66 3.84 l-6.66 -3.84 v-7.68 zM906.6 300.0 l6.66 3.84 v7.68 l-6.66 3.84 l-6.66 -3.84 v-7.68 zM919.9 300.0 l6.66 3.84 v7.68 l-6.66 3.84 l-6.66 -3.84 v-7.68 zM301.0 311.5 l6.66 3.84 v7.68 l-6.66 3.84 l-6.66 -3.84 v-7.68 zM540.6 311.5 l6.66 3.84 v7.68 l-6.66 3.84 l-6.66 -3.84 v-7.68 zM633.8 311.5 l6.66 3.84 v7.68 l-6.66 3.84 l-6.66 -3.84 v-7.68 zM647.1 311.5 l6.66 3.84 v7.68 l-6.66 3.84 l-6.66 -3.84 v-7.68 zM673.7 311.5 l6.66 3.84 v7.68 l-6.66 3.84 l-6.66 -3.84 v-7.68 zM766.9 311.5 l6.66 3.84 v7.68 l-6.66 3.84 l-6.66 -3.84 v-7.68 zM886.7 311.5 l6.66 3.84 v7.68 l-6.66 3.84 l-6.66 -3.84 v-7.68 zM307.7 323.1 l6.66 3.84 v7.68 l-6.66 3.84 l-6.66 -3.84 v-7.68 zM480.7 323.1 l6.66 3.84 v7.68 l-6.66 3.84 l-6.66 -3.84 v-7.68 zM640.4 323.1 l6.66 3.84 v7.68 l-6.66 3.84 l-6.66 -3.84 v-7.68 zM447.4 334.6 l6.66 3.84 v7.68 l-6.66 3.84 l-6.66 -3.84 v-7.68 zM567.2 334.6 l6.66 3.84 v7.68 l-6.66 3.84 l-6.66 -3.84 v-7.68 zM939.9 334.6 l6.66 3.84 v7.68 l-6.66 3.84 l-6.66 -3.84 v-7.68 zM533.9 346.1 l6.66 3.84 v7.68 l-6.66 3.84 l-6.66 -3.84 v-7.68 zM560.6 346.1 l6.66 3.84 v7.68 l-6.66 3.84 l-6.66 -3.84 v-7.68 zM587.2 346.1 l6.66 3.84 v7.68 l-6.66 3.84 l-6.66 -3.84 v-7.68 zM613.8 346.1 l6.66 3.84 v7.68 l-6.66 3.84 l-6.66 -3.84 v-7.68 zM906.6 346.1 l6.66 3.84 v7.68 l-6.66 3.84 l-6.66 -3.84 v-7.68 zM287.7 357.6 l6.66 3.84 v7.68 l-6.66 3.84 l-6.66 -3.84 v-7.68 zM447.4 357.6 l6.66 3.84 v7.68 l-6.66 3.84 l-6.66 -3.84 v-7.68 zM460.7 357.6 l6.66 3.84 v7.68 l-6.66 3.84 l-6.66 -3.84 v-7.68 zM514.0 357.6 l6.66 3.84 v7.68 l-6.66 3.84 l-6.66 -3.84 v-7.68 zM527.3 357.6 l6.66 3.84 v7.68 l-6.66 3.84 l-6.66 -3.84 v-7.68 zM553.9 357.6 l6.66 3.84 v7.68 l-6.66 3.84 l-6.66 -3.84 v-7.68 zM793.5 357.6 l6.66 3.84 v7.68 l-6.66 3.84 l-6.66 -3.84 v-7.68 zM900.0 357.6 l6.66 3.84 v7.68 l-6.66 3.84 l-6.66 -3.84 v-7.68 zM913.3 357.6 l6.66 3.84 v7.68 l-6.66 3.84 l-6.66 -3.84 v-7.68 zM281.1 369.1 l6.66 3.84 v7.68 l-6.66 3.84 l-6.66 -3.84 v-7.68 zM294.4 369.1 l6.66 3.84 v7.68 l-6.66 3.84 l-6.66 -3.84 v-7.68 zM440.8 369.1 l6.66 3.84 v7.68 l-6.66 3.84 l-6.66 -3.84 v-7.68 zM520.6 369.1 l6.66 3.84 v7.68 l-6.66 3.84 l-6.66 -3.84 v-7.68 zM560.6 369.1 l6.66 3.84 v7.68 l-6.66 3.84 l-6.66 -3.84 v-7.68 zM640.4 369.1 l6.66 3.84 v7.68 l-6.66 3.84 l-6.66 -3.84 v-7.68 zM919.9 369.1 l6.66 3.84 v7.68 l-6.66 3.84 l-6.66 -3.84 v-7.68 zM933.2 369.1 l6.66 3.84 v7.68 l-6.66 3.84 l-6.66 -3.84 v-7.68 zM301.0 380.7 l6.66 3.84 v7.68 l-6.66 3.84 l-6.66 -3.84 v-7.68 zM407.5 380.7 l6.66 3.84 v7.68 l-6.66 3.84 l-6.66 -3.84 v-7.68 zM447.4 380.7 l6.66 3.84 v7.68 l-6.66 3.84 l-6.66 -3.84 v-7.68 zM487.4 380.7 l6.66 3.84 v7.68 l-6.66 3.84 l-6.66 -3.84 v-7.68 zM527.3 380.7 l6.66 3.84 v7.68 l-6.66 3.84 l-6.66 -3.84 v-7.68 zM287.7 403.7 l6.66 3.84 v7.68 l-6.66 3.84 l-6.66 -3.84 v-7.68 zM407.5 403.7 l6.66 3.84 v7.68 l-6.66 3.84 l-6.66 -3.84 v-7.68 zM434.1 403.7 l6.66 3.84 v7.68 l-6.66 3.84 l-6.66 -3.84 v-7.68 zM487.4 403.7 l6.66 3.84 v7.68 l-6.66 3.84 l-6.66 -3.84 v-7.68 zM500.7 403.7 l6.66 3.84 v7.68 l-6.66 3.84 l-6.66 -3.84 v-7.68 zM647.1 403.7 l6.66 3.84 v7.68 l-6.66 3.84 l-6.66 -3.84 v-7.68 zM826.8 415.2 l6.66 3.84 v7.68 l-6.66 3.84 l-6.66 -3.84 v-7.68 zM407.5 426.7 l6.66 3.84 v7.68 l-6.66 3.84 l-6.66 -3.84 v-7.68 zM460.7 426.7 l6.66 3.84 v7.68 l-6.66 3.84 l-6.66 -3.84 v-7.68 zM753.6 426.7 l6.66 3.84 v7.68 l-6.66 3.84 l-6.66 -3.84 v-7.68 zM387.5 438.3 l6.66 3.84 v7.68 l-6.66 3.84 l-6.66 -3.84 v-7.68 zM454.1 438.3 l6.66 3.84 v7.68 l-6.66 3.84 l-6.66 -3.84 v-7.68 zM507.3 438.3 l6.66 3.84 v7.68 l-6.66 3.84 l-6.66 -3.84 v-7.68 zM301.0 449.8 l6.66 3.84 v7.68 l-6.66 3.84 l-6.66 -3.84 v-7.68 zM380.9 449.8 l6.66 3.84 v7.68 l-6.66 3.84 l-6.66 -3.84 v-7.68 zM434.1 449.8 l6.66 3.84 v7.68 l-6.66 3.84 l-6.66 -3.84 v-7.68 zM753.6 449.8 l6.66 3.84 v7.68 l-6.66 3.84 l-6.66 -3.84 v-7.68 zM620.5 472.8 l6.66 3.84 v7.68 l-6.66 3.84 l-6.66 -3.84 v-7.68 zM347.6 484.3 l6.66 3.84 v7.68 l-6.66 3.84 l-6.66 -3.84 v-7.68 zM580.5 495.9 l6.66 3.84 v7.68 l-6.66 3.84 l-6.66 -3.84 v-7.68 zM593.8 495.9 l6.66 3.84 v7.68 l-6.66 3.84 l-6.66 -3.84 v-7.68 zM607.1 495.9 l6.66 3.84 v7.68 l-6.66 3.84 l-6.66 -3.84 v-7.68 zM400.8 507.4 l6.66 3.84 v7.68 l-6.66 3.84 l-6.66 -3.84 v-7.68 zM600.5 507.4 l6.66 3.84 v7.68 l-6.66 3.84 l-6.66 -3.84 v-7.68 zM407.5 518.9 l6.66 3.84 v7.68 l-6.66 3.84 l-6.66 -3.84 v-7.68 zM321.0 530.4 l6.66 3.84 v7.68 l-6.66 3.84 l-6.66 -3.84 v-7.68 zM387.5 530.4 l6.66 3.84 v7.68 l-6.66 3.84 l-6.66 -3.84 v-7.68 zM427.5 530.4 l6.66 3.84 v7.68 l-6.66 3.84 l-6.66 -3.84 v-7.68 zM507.3 530.4 l6.66 3.84 v7.68 l-6.66 3.84 l-6.66 -3.84 v-7.68 zM340.9 541.9 l6.66 3.84 v7.68 l-6.66 3.84 l-6.66 -3.84 v-7.68 zM354.3 541.9 l6.66 3.84 v7.68 l-6.66 3.84 l-6.66 -3.84 v-7.68 zM420.8 541.9 l6.66 3.84 v7.68 l-6.66 3.84 l-6.66 -3.84 v-7.68 zM567.2 541.9 l6.66 3.84 v7.68 l-6.66 3.84 l-6.66 -3.84 v-7.68 zM360.9 553.5 l6.66 3.84 v7.68 l-6.66 3.84 l-6.66 -3.84 v-7.68 zM773.5 553.5 l6.66 3.84 v7.68 l-6.66 3.84 l-6.66 -3.84 v-7.68 zM786.8 553.5 l6.66 3.84 v7.68 l-6.66 3.84 l-6.66 -3.84 v-7.68 zM687.0 565.0 l6.66 3.84 v7.68 l-6.66 3.84 l-6.66 -3.84 v-7.68 zM454.1 576.5 l6.66 3.84 v7.68 l-6.66 3.84 l-6.66 -3.84 v-7.68 zM653.7 576.5 l6.66 3.84 v7.68 l-6.66 3.84 l-6.66 -3.84 v-7.68 zM354.3 588.0 l6.66 3.84 v7.68 l-6.66 3.84 l-6.66 -3.84 v-7.68 zM434.1 588.0 l6.66 3.84 v7.68 l-6.66 3.84 l-6.66 -3.84 v-7.68 zM487.4 588.0 l6.66 3.84 v7.68 l-6.66 3.84 l-6.66 -3.84 v-7.68 zM620.5 588.0 l6.66 3.84 v7.68 l-6.66 3.84 l-6.66 -3.84 v-7.68 zM653.7 599.5 l6.66 3.84 v7.68 l-6.66 3.84 l-6.66 -3.84 v-7.68 zM427.5 0.5 l6.66 3.84 v7.68 l-6.66 3.84 l-6.66 -3.84 v-7.68 zM434.1 12.0 l6.66 3.84 v7.68 l-6.66 3.84 l-6.66 -3.84 v-7.68 zM440.8 0.5 l6.66 3.84 v7.68 l-6.66 3.84 l-6.66 -3.84 v-7.68 zM926.6 380.7 l6.66 3.84 v7.68 l-6.66 3.84 l-6.66 -3.84 v-7.68 z" fill="#8876f4" stroke="#6a56d8" stroke-width=".7" stroke-opacity=".55"/>
<path d="M633.8 12.0 l6.66 3.84 v7.68 l-6.66 3.84 l-6.66 -3.84 v-7.68 zM647.1 12.0 l6.66 3.84 v7.68 l-6.66 3.84 l-6.66 -3.84 v-7.68 zM627.1 23.5 l6.66 3.84 v7.68 l-6.66 3.84 l-6.66 -3.84 v-7.68 zM640.4 23.5 l6.66 3.84 v7.68 l-6.66 3.84 l-6.66 -3.84 v-7.68 zM487.4 35.1 l6.66 3.84 v7.68 l-6.66 3.84 l-6.66 -3.84 v-7.68 zM500.7 35.1 l6.66 3.84 v7.68 l-6.66 3.84 l-6.66 -3.84 v-7.68 zM527.3 35.1 l6.66 3.84 v7.68 l-6.66 3.84 l-6.66 -3.84 v-7.68 zM400.8 69.6 l6.66 3.84 v7.68 l-6.66 3.84 l-6.66 -3.84 v-7.68 zM494.0 69.6 l6.66 3.84 v7.68 l-6.66 3.84 l-6.66 -3.84 v-7.68 zM407.5 81.1 l6.66 3.84 v7.68 l-6.66 3.84 l-6.66 -3.84 v-7.68 z" fill="#a96cf5" stroke="#8a50d8" stroke-width=".7" stroke-opacity=".55"/>
<g clip-path="url(#land)"><path d="M961 12L965 15L969 20M961 12L959 3L962 -2M887 207L875 201L866 192M887 207L882 217L878 230M878 230L878 232L873 232M873 232L859 225L849 215M866 192L858 205L849 215M957 285L955 286L952 282M952 282L957 271L959 257M965 254L960 256L959 257M965 254L967 241L969 226M883 232L893 245L904 255M883 232L898 227L913 224M913 224L913 235L915 249M904 255L909 250L915 249M908 201L904 198L901 199M908 201L911 212L915 222M901 199L894 205L887 207M915 222L912 225L913 224M878 230L880 231L883 232M900 265L903 262L904 255M900 265L885 265L871 265M873 232L870 241L863 255M863 255L868 261L871 265M967 617L959 610L957 602M957 602L948 605L938 605M254 445L261 450L270 451M250 476L263 471L276 466M276 466L275 456L270 451M263 414L259 417L253 419M263 414L270 421L279 424M253 419L253 432L254 445M281 440L280 433L279 424M281 440L274 445L270 451M281 471L289 469L299 467M281 471L280 467L276 466M310 448L310 442L307 438M310 448L310 447L310 449M310 449L305 460L299 467M307 438L295 440L281 440M281 471L279 479L279 488M279 488L275 490L273 491M253 527L261 528L268 527M273 491L268 510L268 527M304 536L303 542L297 547M304 536L294 526L289 517M297 547L285 544L278 544M278 544L275 536L268 527M289 517L279 524L268 527M279 488L290 496L297 502M297 502L293 510L289 517M268 527L269 528L268 527M378 612L371 606L363 604M363 604L353 603L341 602M348 576L358 572L366 573M348 576L340 576L336 582M336 582L339 593L338 600M363 604L366 588L366 573M341 602L341 603L338 600M405 406L406 402L405 401M405 406L412 409L421 413M405 401L412 391L421 381M421 381L429 392L436 399M421 413L426 406L436 399M258 178L255 167L256 161M252 124L263 130L271 135M271 135L275 139L275 144M256 161L263 152L275 144M900 265L904 276L906 282M871 265L873 272L869 279M891 296L880 286L869 279M891 296L899 289L905 284M905 284L904 281L906 282M928 251L919 251L915 249M928 251L927 267L930 279M906 282L916 282L930 279M928 251L932 246L940 246M952 282L949 283L944 285M940 246L950 250L959 257M930 279L935 284L944 285M905 284L916 300L924 312M944 285L942 293L937 304M924 312L931 309L937 304M937 304L945 313L954 319M947 338L945 339L946 336M954 319L951 325L946 336M955 115L945 123L941 128M941 128L944 134L945 144M961 169L951 172L944 174M944 174L938 171L936 165M945 144L940 150L935 161M936 165L935 163L935 161M963 206L962 212L962 216M963 206L951 201L943 192M962 216L950 223L940 229M936 197L940 194L943 192M936 197L933 211L932 223M932 223L938 227L940 229M969 226L965 220L962 216M944 174L941 185L943 192M940 246L941 239L940 229M912 198L914 185L918 172M912 198L926 199L936 197M918 172L927 167L936 165M908 201L909 201L912 198M915 222L923 224L932 223M957 602L960 596L963 586M471 599L466 603L459 608M471 599L467 590L469 583M469 583L463 581L457 577M457 577L450 584L439 586M459 608L446 606L438 601M438 601L440 595L439 586M435 603L436 601L438 601M471 599L484 605L494 608M307 438L310 434L310 427M279 424L285 416L294 413M310 427L302 421L294 413M387 605L387 601L390 594M387 605L399 608L406 614M390 594L400 591L409 585M406 614L415 606L423 601M423 601L415 594L409 585M378 612L384 608L387 605M366 573L369 572L375 567M375 567L384 580L390 594M435 603L429 604L423 601M396 435L393 438L385 441M396 435L397 425L398 413M383 410L389 410L398 413M383 410L373 422L367 433M385 441L375 437L367 433M338 600L331 604L325 607M506 131L514 119L526 111M506 131L510 136L509 142M534 150L538 137L546 122M534 150L531 149L525 152M525 152L518 146L509 142M526 111L536 114L546 122M319 127L317 134L320 137M319 127L313 128L303 129M320 137L312 144L304 153M303 129L297 136L288 145M288 145L298 150L304 153M322 123L319 114L314 101M322 123L319 123L319 127M285 115L293 120L303 129M285 115L282 103L284 95M284 95L289 94L294 90M314 101L304 98L294 90M285 115L280 123L271 135M275 144L278 145L280 146M280 146L282 148L288 145M252 124L254 112L259 100M284 95L279 97L273 94M259 100L267 96L273 94M969 20L968 29L968 42M955 115L953 109L947 97M947 97L947 94L949 95M947 338L946 344L948 353M948 353L958 360L965 363M941 128L935 125L925 126M935 161L928 154L918 145M918 145L922 138L925 126M938 605L934 603L935 604M963 586L963 586L961 581M935 604L932 593L927 583M961 581L955 580L949 575M949 575L936 579L927 583M850 554L851 553L854 555M850 554L848 553L846 556M834 581L839 567L846 556M834 581L841 584L846 591M846 591L856 585L864 581M854 555L857 570L864 581M912 585L915 585L921 580M912 585L901 583L887 577M920 560L919 570L921 580M920 560L913 559L911 554M887 577L890 568L890 557M911 554L900 555L890 557M854 555L869 550L880 546M864 581L872 582L879 586M887 577L881 579L879 586M890 557L886 552L880 546M848 215L847 216L849 215M848 215L840 208L833 202M866 192L864 186L866 183M866 183L861 178L852 174M833 202L834 191L838 179M852 174L845 179L838 179M602 164L612 172L627 176M602 164L596 176L594 184M594 184L597 187L599 192M599 192L609 193L619 195M619 195L622 185L627 177M627 177L626 179L627 176M596 149L609 148L618 142M596 149L597 155L602 164M618 142L625 141L627 145M627 145L628 159L627 176M596 149L598 146L594 148M594 184L586 180L574 178M574 178L583 161L594 148M882 604L882 608L879 611M882 604L893 602L907 601M907 601L913 605L915 611M935 604L925 606L915 611M912 585L908 594L907 601M879 586L881 593L882 604M927 583L922 580L921 580M340 447L334 434L327 420M340 447L343 448L349 452M349 452L356 443L362 433M362 433L358 424L351 415M327 420L337 415L351 415M310 448L326 447L340 447M310 427L317 421L322 420M327 420L326 419L322 420M278 544L275 555L267 563M282 604L282 591L283 583M282 604L293 607L299 611M311 606L307 607L299 611M311 606L307 592L306 575M283 583L292 577L302 573M302 573L303 575L306 575M276 609L276 606L282 604M325 607L318 607L311 606M336 582L331 580L329 576M329 576L319 577L306 575M297 547L298 553L300 556M300 556L300 566L302 573M267 563L267 571L271 575M271 575L280 579L283 583M300 556L316 553L331 551M331 551L330 561L329 576M299 467L309 473L314 482M297 502L300 500L306 502M314 482L309 494L306 502M322 527L320 519L321 515M322 527L314 530L304 536M306 502L312 509L321 515M421 554L425 559L428 563M421 554L406 552L388 554M410 581L401 569L388 554M410 581L416 573L427 568M427 568L427 565L428 563M423 530L421 540L421 554M423 530L430 526L438 524M439 525L443 542L445 557M439 525L437 525L438 524M445 557L438 558L428 563M375 567L379 563L380 554M409 585L409 583L410 581M380 554L384 554L383 552M383 552L385 555L388 554M439 586L434 576L427 568M452 558L453 567L457 577M452 558L448 559L445 557M348 576L350 563L350 547M380 554L371 551L359 544M350 547L352 546L359 544M331 551L334 550L334 544M350 547L340 545L334 544M322 527L325 528L327 530M334 544L330 535L327 530M423 530L416 527L409 524M438 524L430 509L427 497M427 497L420 498L409 497M409 497L412 511L409 524M409 470L411 485L409 497M409 470L403 467L393 468M393 468L387 482L379 498M409 497L395 496L379 498M383 552L387 544L389 532M409 524L400 527L389 532M477 128L490 128L502 129M477 128L479 137L477 147M506 131L503 131L502 129M509 142L499 149L493 155M493 155L487 151L477 147M476 195L487 198L501 202M476 195L479 183L481 175M501 202L503 189L509 179M481 175L486 172L494 170M509 179L500 173L494 170M525 152L519 164L516 176M516 176L514 178L509 179M493 155L494 163L494 170M470 120L472 125L477 128M470 120L471 111L472 102M502 129L499 115L495 102M495 102L483 101L472 102M472 102L471 102L472 102M495 102L502 98L510 93M483 75L475 88L472 102M483 75L496 75L505 77M505 77L508 85L510 93M526 111L523 108L522 100M510 93L515 98L522 100M413 122L419 122L427 127M413 122L405 136L393 151M393 151L403 157L417 163M417 163L423 157L429 148M429 148L426 136L427 127M314 101L322 98L326 93M294 90L293 85L296 82M296 82L306 76L317 68M326 93L330 85L332 74M317 68L326 71L332 74M287 -15L290 -4L290 3M290 3L281 10L269 17M253 -9L255 0L254 7M254 7L264 11L269 17M312 14L311 12L306 16M312 14L317 1L319 -12M306 16L298 11L290 3M295 -19L291 -17L287 -15M295 -19L308 -15L317 -14M319 -12L318 -14L317 -14M570 -19L557 -19L545 -19M536 17L530 13L522 10M536 17L542 15L549 12M542 -16L545 -3L549 12M522 10L521 0L516 -16M319 -12L328 -12L338 -12M338 -12L339 -14L342 -15M316 49L322 46L331 42M316 49L317 56L317 68M342 72L340 57L334 43M342 72L339 75L332 74M334 43L335 41L331 42M349 73L357 71L365 65M349 73L343 70L342 72M365 65L362 54L358 43M334 43L348 44L358 43M296 38L301 29L306 16M296 38L306 44L316 49M312 14L323 16L331 19M331 42L331 31L331 19M338 -12L339 3L341 14M331 19L337 17L341 14M506 -13L509 -15L516 -16M506 -13L497 -15L489 -19M891 98L908 96L924 90M891 98L903 108L911 118M919 118L915 118L911 118M919 118L926 106L928 95M928 95L926 94L924 90M947 97L936 95L928 95M925 126L924 123L919 118M939 -16L933 -18L926 -16M962 -2L952 -8L939 -16M545 -19L545 -15L542 -16M875 -2L870 -10L860 -17M913 14L917 9L924 6M913 14L904 15L896 16M896 16L898 -1L903 -16M924 6L926 -4L926 -15M926 -15L914 -13L903 -16M892 18L895 14L896 16M892 18L884 17L877 13M877 13L875 6L875 -2M961 12L949 14L942 18M942 18L935 12L924 6M926 -16L927 -17L926 -15M468 199L472 197L476 195M468 199L465 203L465 204M465 204L475 221L485 232M485 232L486 232L487 233M501 202L500 202L503 206M487 233L496 217L503 206M258 178L261 180L268 187M280 146L284 162L288 174M268 187L279 182L288 174M331 154L324 143L320 137M331 154L329 161L323 171M323 171L321 172L316 174M304 153L305 163L309 174M316 174L310 176L309 174M288 174L297 174L305 176M309 174L307 175L305 176M447 257L444 269L446 277M447 257L441 253L434 245M434 245L427 257L422 268M446 277L435 275L428 278M422 268L425 274L424 276M428 278L425 279L424 276M463 256L468 259L469 265M463 256L455 259L447 257M463 286L465 287L466 283M463 286L453 281L446 277M469 265L469 273L466 283M461 294L461 292L463 286M461 294L449 302L438 307M438 307L436 305L437 307M437 307L432 291L428 278M387 283L396 269L401 257M387 283L399 283L412 287M412 287L418 281L424 276M401 257L411 260L422 268M863 255L854 257L849 256M869 279L865 281L862 286M862 286L851 282L843 280M849 256L845 266L843 280M840 310L839 311L836 313M840 310L834 301L830 289M806 292L814 289L827 288M806 292L807 300L804 311M836 313L820 314L804 311M830 289L830 287L827 288M881 314L880 320L880 323M881 314L869 311L858 303M880 323L869 333L861 339M841 310L850 323L860 338M841 310L849 305L858 303M860 338L861 337L861 339M891 296L891 303L887 309M862 286L860 293L858 303M887 309L885 310L881 314M840 310L842 308L841 310M841 348L850 344L860 338M841 348L831 343L824 336M836 313L829 325L824 336M843 280L837 284L830 289M929 331L926 320L924 313M929 331L924 337L922 338M922 338L913 338L905 336M905 336L904 327L908 317M924 313L915 315L908 317M924 312L923 311L924 313M946 336L936 332L929 331M921 361L920 351L922 338M921 361L924 363L929 366M929 366L941 361L948 353M887 309L899 315L908 317M896 341L899 338L905 336M896 341L886 333L880 323M960 427L958 439L954 453M923 418L928 420L934 421M923 418L924 403L924 391M924 391L930 385L933 381M937 420L936 419L934 421M937 420L943 409L953 394M933 381L942 385L948 386M953 394L949 388L948 386M960 427L947 422L937 420M929 366L930 373L933 381M965 363L954 374L948 386M918 172L913 168L907 168M918 145L909 147L897 149M897 149L903 157L907 168M901 199L897 192L893 183M907 168L900 173L893 183M866 183L875 180L880 175M893 183L886 177L880 175M833 614L841 611L845 607M845 607L851 610L861 615M802 611L808 611L819 608M819 608L824 613L833 614M819 608L822 592L823 581M823 581L830 580L834 581M846 591L847 601L845 607M879 611L869 611L861 615M919 526L925 527L926 529M919 526L918 530L913 531M920 560L929 559L935 554M913 531L913 543L911 554M926 529L928 542L935 554M949 575L945 564L941 553M935 554L940 552L941 553M954 536L954 538L952 545M941 553L948 551L952 545M947 529L935 529L926 529M947 529L953 533L954 536M913 531L903 528L893 528M880 546L878 543L880 542M893 528L886 533L880 542M850 554L846 541L844 531M844 531L856 528L866 522M880 542L872 531L866 522M844 531L840 528L836 525M836 502L837 502L833 503M836 502L852 506L869 505M836 525L833 515L833 503M866 522L867 515L869 505M919 526L919 515L919 502M947 529L944 517L944 504M919 502L932 503L944 504M969 505L964 503L955 498M944 504L948 500L955 498M955 498L954 490L955 484M922 457L928 448L937 441M922 457L921 460L922 461M922 461L932 464L942 470M954 453L945 447L937 441M954 453L948 460L943 470M943 470L940 468L942 470M923 418L925 419L922 418M934 421L934 432L937 441M911 434L919 427L922 418M911 434L915 445L922 457M954 453L954 452L954 453M955 484L949 475L943 470M919 502L921 502L919 501M919 501L931 488L942 470M876 63L876 52L875 44M876 63L886 62L898 64M875 44L883 40L895 34M898 64L902 62L902 62M902 62L902 58L905 52M895 34L901 45L905 52M890 98L889 100L891 98M890 98L896 82L898 64M924 90L922 82L921 77M921 77L913 69L902 62M892 18L893 26L895 34M925 42L914 48L905 52M925 42L918 25L913 14M877 13L875 15L872 15M875 44L870 38L861 31M872 15L869 25L861 31M614 65L611 54L608 44M614 65L600 70L591 77M583 43L579 52L574 66M583 43L587 40L588 41M591 77L582 74L574 66M588 41L596 40L608 44M616 -18L624 -13L632 -6M632 -6L641 -13L647 -14M680 -16L666 -13L649 -13M647 -14L649 -14L649 -13M783 197L787 206L792 212M783 197L789 186L795 176M795 176L799 176L804 177M804 177L812 192L818 204M792 212L806 208L815 208M815 208L816 206L818 204M765 198L765 211L764 225M765 198L773 195L783 197M764 225L770 226L777 227M790 220L786 225L777 227M790 220L793 218L792 212M833 202L828 204L818 204M838 179L831 171L820 168M820 168L813 173L804 177M890 98L882 102L875 104M875 104L878 104L875 105M911 118L906 123L898 130M875 105L886 119L898 130M897 149L893 146L893 147M898 130L897 138L893 147M880 175L880 163L885 149M885 149L888 149L893 147M875 104L868 99L862 94M876 63L871 65L865 68M862 94L861 79L865 68M861 31L855 36L845 40M845 40L847 51L853 59M865 68L858 62L853 59M820 67L830 52L840 39M820 67L825 72L830 77M845 40L841 40L840 39M853 59L840 68L830 77M862 94L860 92L857 95M830 77L830 81L832 90M832 90L845 94L857 95M837 147L846 150L854 151M837 147L837 133L835 122M835 122L841 123L842 121M842 121L852 130L866 136M854 151L860 144L867 141M867 141L869 139L866 136M852 174L855 160L854 151M823 153L823 158L820 168M823 153L829 149L837 147M812 122L813 119L819 116M812 122L808 128L808 136M808 136L816 144L823 153M819 116L828 119L835 122M819 116L821 109L820 101M820 101L828 98L832 90M857 95L848 109L842 121M875 105L870 122L866 136M885 149L877 147L867 141M642 210L640 214L641 221M642 210L632 205L620 196M641 221L633 226L623 235M620 196L616 207L612 221M623 235L618 229L612 221M599 192L588 205L581 214M619 195L620 195L620 196M612 221L596 221L583 221M581 214L584 218L583 221M627 177L635 174L647 176M642 210L646 208L653 203M647 176L649 190L653 203M660 229L656 231L653 231M660 229L663 216L667 206M653 231L649 226L641 221M653 203L661 206L667 206M674 237L670 230L660 229M674 237L682 230L691 226M691 226L685 216L679 203M667 206L674 202L679 203M919 501L911 499L906 494M922 461L913 467L902 473M902 473L904 482L906 494M911 434L903 437L892 441M892 441L894 455L894 467M902 473L896 469L894 467M893 528L890 518L890 504M906 494L898 497L890 504M869 505L868 504L870 504M890 504L880 505L870 504M836 502L842 489L849 478M870 504L865 489L865 474M849 478L856 473L865 474M894 467L880 471L867 471M865 474L864 470L867 471M802 611L802 609L800 609M791 611L794 610L800 609M425 422L434 423L446 423M425 422L423 420L421 413M436 399L447 398L452 401M446 423L450 419L453 412M452 401L454 408L453 412M469 583L475 578L480 572M494 608L495 606L497 607M480 572L490 580L498 585M498 585L499 597L497 607M497 607L500 609L505 608M452 558L460 553L466 549M480 572L482 567L482 563M482 563L474 555L466 549M439 525L444 522L454 520M454 520L460 526L469 527M466 549L467 537L469 527M705 244L698 252L693 263M705 244L708 245L713 249M693 263L694 273L700 280M700 280L709 278L718 277M713 249L716 262L718 277M734 252L736 253L741 259M734 252L723 249L713 249M741 259L739 269L735 279M718 277L728 277L734 280M735 279L737 280L734 280M820 421L819 416L822 413M820 421L810 428L800 429M822 413L810 403L799 391M800 429L793 416L786 400M786 400L785 397L788 394M788 394L793 391L794 390M799 391L795 388L794 390M732 307L734 308L739 311M732 307L734 292L734 280M735 279L749 280L763 285M763 285L764 294L764 300M739 311L752 304L764 300M505 608L517 607L527 602M527 602L533 607L538 615M383 410L378 404L369 395M362 433L364 431L367 433M351 415L351 408L355 401M355 401L364 399L369 395M405 406L404 408L398 413M405 401L397 394L389 384M389 384L383 384L375 384M369 395L373 389L375 384M408 362L397 373L389 384M408 362L389 361L374 358M374 358L370 361L368 364M375 384L372 373L368 364M322 420L320 403L319 391M355 401L349 393L338 384M319 391L331 385L338 384M364 364L353 371L340 376M364 364L365 362L368 364M340 376L338 378L338 384M263 414L269 402L274 394M274 394L265 387L254 381M260 277L264 282L268 286M268 286L265 299L261 311M261 311L260 311L259 312M251 585L256 595L259 608M271 575L262 581L251 585M276 609L269 608L259 608M413 467L422 469L429 467M413 467L412 453L410 441M429 467L436 460L443 449M443 449L429 440L419 437M419 437L415 440L410 441M396 435L405 438L410 441M385 441L387 449L383 460M409 470L412 466L413 467M383 460L386 462L393 468M425 422L420 429L419 437M349 452L349 454L349 460M383 460L374 464L361 470M349 460L353 463L361 470M310 449L322 462L331 471M349 460L338 463L331 471M314 482L322 479L327 478M331 471L331 474L327 478M321 515L332 506L341 498M327 478L336 488L341 498M374 509L372 507L372 501M374 509L364 520L358 529M372 501L366 499L364 495M347 524L352 528L358 529M347 524L348 512L353 499M353 499L358 499L364 495M409 497L411 497L409 497M389 532L380 519L374 509M379 498L374 499L372 501M359 544L357 535L358 529M361 470L364 484L364 495M327 530L336 530L347 524M341 498L346 499L353 499M680 -16L682 -12L688 -11M688 -11L693 -13L694 -13M754 -16L745 -12L735 -12M735 -12L728 -14L724 -15M694 -13L706 -10L718 -11M718 -11L720 -12L724 -15M428 73L427 79L425 87M428 73L438 69L448 62M425 87L430 95L439 99M448 62L449 65L452 65M452 65L455 78L455 93M439 99L449 98L455 93M413 121L412 119L413 122M413 121L408 109L408 93M431 124L427 127L427 127M431 124L433 113L439 99M408 93L414 88L425 87M483 75L481 68L478 66M472 102L463 100L455 93M478 66L466 68L452 65M470 120L466 121L457 126M457 126L442 127L431 124M534 150L546 155L555 164M546 122L549 120L552 121M555 164L563 153L572 145M572 145L562 137L557 124M552 121L553 124L557 124M600 100L596 99L596 98M600 100L600 106L604 114M596 98L587 102L581 104M581 104L579 114L581 121M604 114L597 121L591 133M591 133L585 127L581 121M614 65L618 65L618 67M591 77L592 90L596 98M618 67L623 79L625 89M625 89L611 93L600 100M616 120L626 114L638 112M616 120L608 117L604 114M625 89L633 92L641 95M638 112L638 101L641 95M616 120L618 132L618 142M594 148L593 147L590 145M590 145L592 141L591 133M590 145L583 146L572 145M557 124L568 122L581 121M574 66L570 70L567 69M581 104L573 102L566 101M567 69L566 84L566 101M522 100L533 90L539 84M552 121L557 115L560 106M539 84L548 96L560 106M560 106L563 102L566 101M455 147L447 147L442 152M455 147L464 152L468 155M442 152L449 160L453 172M453 172L461 167L467 164M468 155L468 160L467 164M429 148L434 152L442 152M457 126L454 138L455 147M477 147L474 151L468 155M451 176L452 177L453 172M451 176L440 180L433 183M417 163L419 168L418 174M433 183L426 178L418 174M468 199L459 188L451 176M481 175L475 169L467 164M367 106L359 103L351 100M367 106L367 110L371 114M371 114L355 122L343 126M348 101L341 112L334 121M348 101L349 100L351 100M334 121L337 122L343 126M322 123L330 122L334 121M326 93L337 97L348 101M349 73L352 85L351 100M260 49L256 57L255 61M260 49L269 45L278 40M278 40L284 43L287 42M260 67L259 62L255 61M260 67L275 69L290 67M287 42L290 53L290 67M269 17L272 27L278 40M296 38L290 39L287 42M273 94L268 80L260 67M296 82L293 72L290 67M583 -15L589 -8L597 -5M583 -15L582 -15L579 -14M579 -14L573 0L566 9M566 9L581 10L594 14M597 -5L600 0L601 7M594 14L598 9L601 7M616 -18L606 -12L597 -5M570 -19L574 -19L579 -14M559 16L561 13L566 9M559 16L552 12L549 12M563 27L574 34L583 43M563 27L560 20L559 16M588 41L593 25L594 14M615 12L609 11L601 7M615 12L621 6L629 2M629 2L632 -1L632 -6M608 44L613 37L619 35M619 35L617 23L615 12M504 17L502 12L497 8M504 17L502 29L501 40M480 6L480 20L477 35M480 6L488 8L497 8M500 40L503 39L501 40M500 40L496 42L487 42M487 42L482 39L477 35M522 10L512 12L504 17M506 -13L503 -2L497 8M505 77L509 71L512 66M478 66L485 55L487 42M512 66L504 54L500 40M446 43L450 38L455 35M446 43L449 52L448 62M455 35L466 37L477 35M423 35L419 37L415 39M423 35L434 41L446 43M428 73L419 67L409 59M409 59L411 47L415 39M454 23L450 11L443 0M454 23L467 14L477 3M477 3L474 0L475 0M475 0L461 -4L451 -12M443 0L442 -6L444 -8M444 -8L449 -9L451 -12M424 18L421 28L423 35M424 18L435 9L443 0M455 35L453 30L454 23M480 6L478 5L477 3M489 -19L485 -8L475 0M435 -12L442 -12L444 -8M342 -15L357 -14L373 -12M373 -12L371 -10L373 -12M825 -13L823 -5L823 6M825 -13L831 -15L838 -14M838 -14L844 -11L845 -9M845 -9L844 -3L843 3M843 3L837 5L836 9M823 6L831 9L836 9M860 -17L855 -14L845 -9M872 15L856 7L843 3M839 38L839 38L840 39M839 38L838 24L836 9M935 41L934 41L932 42M935 41L948 46L959 53M932 42L934 56L931 70M931 70L939 69L950 69M950 69L955 63L959 59M959 53L959 55L959 59M942 18L937 31L935 41M925 42L928 43L932 42M968 42L965 48L959 53M921 77L926 76L931 70M949 95L949 84L950 69M463 256L462 247L465 240M465 240L475 234L485 232M469 265L483 257L492 253M487 233L488 232L489 235M492 253L493 244L489 235M283 282L277 284L268 286M283 282L286 269L286 255M260 277L257 267L256 261M286 255L287 252L284 251M284 251L279 249L270 250M256 261L261 253L270 250M288 221L278 228L264 231M288 221L286 215L284 206M284 206L275 204L269 197M269 197L262 204L254 214M264 231L256 227L252 220M254 214L251 219L252 220M284 251L289 240L298 230M298 230L293 225L288 221M270 250L267 239L264 231M268 187L271 191L269 197M302 198L305 185L305 176M302 198L294 205L284 206M465 204L454 207L445 215M433 183L433 194L435 204M435 204L439 209L445 215M465 240L451 234L441 228M445 215L444 221L441 228M433 237L434 239L434 245M433 237L436 233L435 234M435 234L440 233L441 228M381 194L383 188L381 182M381 194L391 202L403 211M381 182L396 182L409 181M409 181L411 192L408 207M408 207L407 210L406 210M403 211L405 211L406 210M418 174L412 176L409 181M435 204L420 207L408 207M435 234L422 220L406 210M362 174L371 173L376 177M362 174L358 165L354 151M376 177L382 166L391 151M354 151L356 145L356 145M356 145L365 139L374 134M391 151L381 144L374 134M367 213L356 203L347 191M367 213L373 201L381 194M348 184L348 185L347 191M348 184L356 180L362 174M381 182L379 179L376 177M331 154L340 152L354 151M323 171L334 178L348 184M393 151L390 151L391 151M343 126L349 135L356 145M377 121L375 115L371 114M377 121L374 130L374 134M383 119L379 121L377 121M383 119L400 120L413 121M376 247L373 234L375 226M376 247L389 247L399 251M375 226L386 224L398 221M398 221L400 229L407 238M399 251L401 245L407 238M365 272L373 278L381 285M365 272L363 266L364 260M381 285L382 282L387 283M401 257L399 256L399 251M364 260L370 255L376 247M367 213L365 218L367 219M367 219L371 224L375 226M403 211L400 217L398 221M433 237L419 239L407 238M421 381L420 373L422 368M408 362L407 361L410 361M410 361L416 364L422 368M452 401L457 395L459 393M459 393L444 378L429 366M429 366L426 368L422 368M414 307L417 306L418 309M414 307L404 310L396 313M418 309L421 318L419 331M396 313L394 323L391 331M391 331L401 335L407 341M407 341L414 336L419 331M412 287L415 294L414 307M437 307L430 308L418 309M381 285L380 287L380 294M380 294L387 304L396 313M438 307L442 319L445 334M445 334L431 331L419 331M378 334L383 331L391 331M378 334L375 348L374 358M410 361L411 353L407 341M848 215L840 227L831 239M849 256L844 256L837 251M831 239L835 245L837 251M815 208L815 222L817 234M831 239L826 238L817 234M827 288L823 277L822 264M837 251L829 256L822 264M790 220L800 230L806 239M817 234L813 235L806 239M784 255L792 257L797 254M784 255L781 260L774 261M802 260L801 259L797 254M802 260L802 274L801 288M774 261L775 269L774 274M774 274L783 280L789 288M801 288L797 288L789 288M777 227L783 239L784 255M806 239L804 248L797 254M764 225L760 228L758 228M758 228L756 239L757 254M757 254L765 256L774 261M822 264L812 264L802 260M806 292L805 291L801 288M757 254L748 258L741 259M763 285L770 280L774 274M921 361L913 364L901 364M924 391L910 385L896 384M896 384L899 376L901 364M896 341L894 349L894 355M901 364L899 361L894 355M861 339L864 348L871 357M894 355L880 354L871 357M840 358L842 353L841 348M840 358L846 367L851 376M851 376L859 368L868 364M871 357L869 362L868 364M822 413L832 407L840 404M823 381L809 385L799 391M823 381L834 385L842 390M840 404L842 398L842 390M840 358L830 363L823 365M851 376L848 381L849 384M823 381L821 372L823 365M842 390L848 386L849 384M801 65L800 66L801 64M801 65L805 81L809 94M801 64L791 70L782 77M809 94L802 95L791 96M782 77L784 82L780 90M780 90L787 91L791 96M820 67L811 63L801 65M820 101L813 100L809 94M812 122L802 119L793 113M793 113L790 104L791 96M775 93L776 92L780 90M775 93L767 90L756 87M764 65L773 73L782 77M764 65L762 69L756 71M756 87L754 80L756 71M618 67L628 65L638 59M641 95L642 95L644 93M644 93L646 82L647 72M638 59L643 66L647 72M619 35L633 36L644 38M638 59L640 51L644 38M674 237L668 250L666 260M705 244L704 238L702 232M691 226L695 229L700 230M666 260L682 263L693 263M702 232L702 228L700 230M734 252L734 236L735 223M702 232L721 229L735 223M758 228L746 225L737 221M735 223L737 219L737 221M679 203L679 202L681 199M681 199L693 193L704 190M700 230L709 213L716 199M704 190L710 194L716 199M671 122L663 108L650 94M671 122L680 118L685 112M685 112L684 110L685 102M685 102L674 97L662 91M662 91L655 90L650 94M676 70L669 82L662 91M676 70L669 66L659 64M644 93L645 94L650 94M659 64L655 66L647 72M627 145L634 141L639 141M638 112L638 111L639 116M639 141L638 128L639 116M671 122L672 126L668 126M639 116L652 120L668 126M655 170L667 173L674 179M655 170L655 159L656 149M685 148L683 157L685 169M685 148L676 144L667 142M674 179L682 172L685 169M667 142L660 148L656 149M647 176L651 174L655 170M681 199L678 190L674 179M639 141L647 143L656 149M704 190L707 182L706 174M706 174L696 172L685 169M668 126L669 133L667 142M838 470L841 458L845 442M838 470L827 470L816 472M816 472L816 470L815 471M815 471L818 459L818 453M818 453L827 447L833 441M833 441L838 444L845 442M823 499L827 500L833 503M823 499L819 497L820 495M849 478L845 475L838 470M820 495L817 485L816 472M820 421L824 430L833 441M800 429L799 435L796 437M796 437L808 446L818 453M759 616L747 610L733 604M733 604L733 607L728 606M771 603L780 607L791 611M771 603L766 609L759 616M498 585L501 582L509 575M527 602L528 598L528 595M509 575L519 587L528 595M824 336L815 337L810 339M804 311L797 318L795 325M810 339L802 334L795 325M823 365L816 360L808 354M810 339L808 347L808 354M794 390L792 381L793 369M808 354L802 363L793 369M581 610L578 611L578 610M578 610L578 610L577 610M538 615L546 615L549 611M549 611L564 612L577 610M607 600L611 608L615 611M607 600L592 606L581 610M378 334L372 330L364 324M364 364L355 353L348 346M348 346L356 337L364 324M365 272L359 273L355 278M380 294L369 304L361 318M355 278L350 294L344 305M344 305L349 309L351 313M351 313L357 313L361 318M364 324L364 320L361 318M355 278L341 277L332 275M332 275L325 278L323 283M344 305L332 303L325 301M325 301L324 294L323 283M283 282L286 285L293 286M286 255L295 258L307 263M307 263L309 268L309 276M293 286L300 281L309 276M348 346L336 348L327 347M351 313L336 329L324 340M324 340L327 344L327 347M340 376L331 364L326 351M326 351L324 349L327 347M250 369L266 362L283 359M254 332L267 340L278 346M283 359L281 352L278 346M259 312L257 323L254 332M254 381L251 377L250 369M687 48L681 34L670 17M687 48L674 46L656 46M650 27L658 20L662 18M650 27L647 30L645 37M662 18L666 18L670 17M645 37L652 41L656 46M629 2L639 13L650 27M649 -13L655 1L662 18M644 38L643 39L645 37M688 -11L686 -2L683 7M683 7L675 13L670 17M659 64L656 54L656 46M676 70L682 69L688 65M687 48L690 50L688 50M688 50L690 60L688 65M695 89L691 97L685 102M695 89L690 77L690 68M690 68L686 69L688 65M683 7L690 13L695 17M688 50L695 44L704 39M695 17L697 29L704 39M718 -11L721 -2L719 8M695 17L704 10L719 8M735 -12L741 1L748 11M748 11L737 14L723 18M723 18L719 11L719 8M695 89L702 93L712 94M712 94L712 108L712 116M685 112L696 119L702 124M712 116L707 122L702 124M685 148L692 143L702 142M702 124L703 133L702 142M706 174L707 171L709 171M709 171L704 159L704 143M702 142L704 144L704 143M531 65L530 50L525 37M531 65L538 66L543 69M547 67L547 69L543 69M547 67L545 54L547 47M547 47L536 41L529 34M529 34L526 33L525 37M512 66L523 67L531 65M501 40L513 36L525 37M539 84L543 77L543 69M567 69L555 67L547 67M563 27L556 39L547 47M536 17L532 26L529 34M407 61L392 61L381 63M407 61L407 75L404 91M397 91L387 87L380 82M397 91L398 89L404 91M380 82L377 75L375 68M375 68L379 67L381 63M408 93L406 90L404 91M409 59L409 58L407 61M383 119L390 104L397 91M367 106L374 95L380 82M365 65L369 67L375 68M358 43L359 42L359 40M341 14L342 17L347 15M347 15L353 26L359 40M373 -12L369 0L367 8M347 15L356 11L367 8M400 33L395 38L386 41M400 33L398 27L394 19M394 19L382 17L374 18M386 41L381 38L371 32M371 32L370 23L374 18M415 39L406 38L400 33M381 63L382 53L386 41M359 40L367 37L371 32M367 8L373 12L374 18M395 -16L402 -14L414 -6M395 -16L393 -17L389 -13M389 -13L395 1L396 14M414 -6L412 2L413 8M413 8L403 11L396 14M435 -12L423 -8L414 -6M373 -12L383 -10L389 -13M394 19L393 18L396 14M424 18L419 15L413 8M479 284L473 284L466 283M479 284L492 278L503 269M492 253L496 256L504 264M503 269L504 266L504 264M347 191L340 195L335 204M367 219L355 221L341 227M341 227L340 217L335 204M302 198L307 201L313 208M298 230L304 229L309 230M309 230L311 217L313 208M316 174L323 188L326 202M313 208L319 203L326 202M335 204L332 204L326 202M446 334L441 346L433 363M446 334L453 333L462 335M462 335L465 334L465 337M465 337L465 353L465 363M433 363L449 362L463 366M463 366L462 362L465 363M445 334L447 335L446 334M429 366L431 364L433 363M461 294L464 303L468 310M468 310L466 325L462 335M495 364L481 365L465 363M495 364L492 353L485 339M485 339L476 336L465 337M459 393L463 393L465 389M465 389L464 379L463 366M840 404L844 413L852 417M845 442L845 443L846 442M852 417L848 429L846 442M867 471L861 458L857 447M846 442L850 444L857 447M892 441L889 438L882 434M857 447L872 442L882 434M874 395L874 407L870 414M874 395L881 390L886 388M892 387L888 387L886 388M892 387L894 397L900 409M900 409L893 419L881 425M881 425L875 421L870 414M849 384L863 391L874 395M852 417L863 416L870 414M868 364L875 378L886 388M896 384L893 386L892 387M922 418L911 414L900 409M882 434L884 428L881 425M764 65L764 54L764 42M801 64L800 60L798 52M798 52L781 49L764 42M839 38L824 38L808 33M798 52L801 41L808 33M769 -7L775 -8L783 -13M769 -7L764 0L763 9M763 9L780 16L794 19M783 -13L788 -11L796 -8M796 -8L800 1L803 9M803 9L803 15L801 17M801 17L796 17L794 19M754 -16L759 -10L769 -7M748 11L751 12L757 16M757 16L762 13L763 9M758 37L761 39L763 40M758 37L758 27L757 16M763 40L777 27L794 19M823 6L810 5L803 9M808 33L803 24L801 17M764 42L762 41L763 40M808 136L802 141L791 144M795 176L790 173L788 167M791 144L788 154L788 167M727 170L726 184L726 200M727 170L730 168L732 167M732 167L744 171L753 179M736 204L733 201L726 200M736 204L746 195L754 190M754 190L755 183L753 179M709 171L720 172L727 170M716 199L722 198L726 200M737 221L734 211L736 204M765 198L762 192L754 190M788 167L777 168L764 167M764 167L759 172L753 179M546 206L540 200L537 198M546 206L559 203L568 201M568 201L569 191L569 180M536 189L535 192L537 198M536 189L543 181L556 170M556 170L561 177L569 180M573 230L559 230L547 228M573 230L576 227L582 222M581 214L573 207L568 201M582 222L582 220L583 221M547 228L545 218L546 206M574 178L570 178L569 180M516 176L527 181L536 189M503 206L509 208L518 212M518 212L527 205L537 198M555 164L556 167L556 170M517 233L523 242L526 255M517 233L520 230L521 223M521 223L532 223L547 228M526 255L534 248L542 245M542 245L544 238L547 228M489 235L501 232L517 233M526 255L515 258L504 264M526 255L525 255L526 255M518 212L517 215L521 223M547 228L546 228L547 228M728 606L722 604L712 602M712 602L703 604L699 610M546 484L556 471L565 458M546 484L549 490L550 492M569 495L561 491L550 492M569 495L574 486L576 478M576 478L569 466L565 458M545 448L542 448L536 450M545 448L553 450L565 455M536 450L534 459L527 469M546 484L539 478L531 476M565 455L564 456L565 458M531 476L527 474L527 469M550 492L545 498L541 508M541 508L531 506L515 505M531 476L521 488L515 505M454 520L454 511L453 501M427 497L430 493L438 489M453 501L446 495L438 489M429 467L432 474L439 481M438 489L439 486L439 481M443 449L443 449L447 447M439 481L453 478L463 472M447 447L457 459L463 472M446 423L450 432L450 443M447 447L447 446L450 443M471 486L471 478L468 474M471 486L460 491L453 501M463 472L465 471L468 474M465 389L473 392L485 393M485 393L492 392L498 387M495 364L497 368L501 370M498 387L497 381L501 370M536 311L520 307L506 303M536 311L535 324L534 332M534 332L523 334L512 332M512 332L508 327L502 325M502 325L503 317L501 311M501 311L504 309L502 308M502 308L503 308L506 303M512 290L523 288L535 286M512 290L508 298L506 303M541 304L536 294L535 286M541 304L537 309L536 311M485 339L491 333L502 325M501 370L505 366L511 363M511 363L512 349L512 332M468 310L482 309L501 311M479 284L488 298L502 308M512 290L506 278L503 269M693 548L689 536L684 525M693 548L686 552L675 561M675 561L669 557L666 557M666 557L666 542L666 528M666 528L675 528L684 525M607 600L609 597L609 590M637 584L626 585L610 589M637 584L645 599L647 615M615 611L629 615L647 615M609 590L608 587L610 589M637 584L640 578L645 574M645 574L648 571L645 565M645 565L637 556L630 548M610 589L614 572L614 553M630 548L623 550L614 553M482 563L490 557L501 554M509 575L510 569L510 562M501 554L507 560L510 562M528 595L537 586L541 580M541 580L535 573L532 563M532 563L529 560L525 561M510 562L518 560L525 561M474 525L486 530L501 537M474 525L480 513L486 500M513 506L504 503L498 497M513 506L513 517L512 529M501 537L508 534L512 529M486 500L490 498L498 497M469 527L472 527L474 525M501 554L502 544L501 537M471 486L481 494L486 500M552 532L545 520L541 508M552 532L540 531L524 533M515 505L514 508L513 506M524 533L520 530L512 529M524 533L526 546L525 561M732 307L733 308L732 307M739 311L742 321L749 334M732 307L721 316L713 328M713 328L716 333L723 342M749 334L736 338L723 342M789 288L781 296L778 303M795 325L797 326L795 325M795 325L786 315L778 303M764 300L765 300L767 302M778 303L773 300L767 302M753 337L754 343L754 352M753 337L759 337L766 332M754 352L762 359L768 362M766 332L775 333L781 332M781 332L783 349L782 362M768 362L773 363L782 362M749 334L750 334L753 337M740 369L730 365L717 361M740 369L748 362L754 352M723 342L721 350L717 361M767 302L764 317L766 332M764 384L767 372L768 362M764 384L752 383L744 387M744 387L740 379L740 369M795 325L786 327L781 332M793 369L786 367L782 362M788 394L779 387L764 384M647 615L645 617L647 615M304 370L300 366L291 366M304 370L308 379L313 388M291 366L282 380L275 394M313 388L302 394L291 403M291 403L281 396L275 394M319 391L314 388L313 388M326 351L316 361L304 370M274 394L273 395L275 394M287 361L290 363L291 366M287 361L285 358L283 359M294 413L294 408L291 403M301 342L309 338L321 338M301 342L296 335L290 329M321 338L317 324L311 313M311 313L307 314L301 312M301 312L294 315L291 317M291 317L289 324L290 329M287 361L295 353L301 342M324 340L321 337L321 338M278 346L285 338L290 329M325 301L316 306L311 313M293 286L297 297L301 312M309 276L316 278L323 283M261 311L275 313L291 317M748 39L742 55L736 69M748 39L732 38L721 35M721 35L718 35L717 38M717 38L722 55L725 71M736 69L733 73L728 73M728 73L725 71L725 71M756 71L747 69L736 69M758 37L751 37L748 39M723 18L724 28L721 35M704 39L711 41L717 38M690 68L709 69L725 71M756 87L748 95L741 100M741 100L732 93L727 85M727 85L726 77L728 73M712 94L720 88L727 85M704 143L720 145L733 144M732 167L733 155L734 146M734 146L731 145L733 144M712 116L721 116L730 118M733 144L732 131L730 118M741 100L743 102L742 108M742 108L734 112L730 118M573 230L571 243L569 258M542 245L554 250L564 258M569 258L566 258L564 258M526 255L534 267L539 276M564 258L551 267L539 276M535 286L540 284L540 278M539 276L540 275L540 278M700 280L699 282L698 283M732 307L718 302L707 301M698 283L705 294L707 301M653 231L648 243L647 256M666 260L665 260L663 262M647 256L653 261L663 262M623 235L624 237L622 239M622 239L631 247L644 257M647 256L643 259L644 257M681 293L687 287L698 283M681 293L673 280L663 272M663 262L661 265L663 272M349 251L342 241L339 230M349 251L342 255L331 262M339 230L327 234L318 235M331 262L324 256L317 251M317 251L316 242L318 235M364 260L359 253L349 251M341 227L339 230L339 230M332 275L334 270L331 262M309 230L314 235L318 235M307 263L313 256L317 251M733 604L740 593L747 579M747 579L741 571L732 566M712 602L709 594L709 581M732 566L719 575L709 581M693 548L697 548L702 552M675 561L677 569L681 577M681 577L694 574L701 574M702 552L704 562L701 574M771 603L767 592L767 579M747 579L755 577L764 578M767 579L765 580L764 578M663 585L672 584L678 583M663 585L657 598L657 609M678 583L682 595L685 604M657 609L669 608L676 608M676 608L683 608L685 604M666 557L654 560L645 565M645 574L653 579L663 585M681 577L679 578L678 583M647 615L651 614L657 609M699 610L692 608L685 604M701 574L707 579L709 581M679 443L679 446L681 446M679 443L683 436L685 424M702 418L695 422L685 424M702 418L706 418L707 421M707 421L708 432L707 444M681 446L696 443L707 444M567 526L569 511L571 497M567 526L583 522L597 520M571 497L586 502L597 502M597 520L599 509L597 502M569 495L572 497L571 497M593 477L585 478L576 478M593 477L598 483L607 485M607 485L607 488L606 492M606 492L601 499L597 502M532 563L544 552L553 537M552 532L551 532L553 534M553 537L552 533L553 534M567 526L565 525L564 529M553 534L560 530L564 529M468 474L473 466L482 462M498 497L502 483L503 472M482 462L493 467L503 472M527 469L520 471L510 468M510 468L506 471L503 472M536 450L533 445L526 439M526 439L518 444L507 446M510 468L508 459L507 446M550 420L540 416L528 415M550 420L548 436L545 448M526 439L524 429L522 418M528 415L525 419L522 418M666 528L660 523L652 522M630 548L631 542L634 537M652 522L645 531L634 537M614 553L606 552L601 548M598 522L607 522L620 522M598 522L599 536L601 548M634 537L627 527L620 522M598 522L597 522L597 520M606 492L616 497L623 504M620 522L620 514L623 504M616 476L625 474L630 475M616 476L615 465L611 448M611 448L627 447L644 448M644 448L646 457L645 462M645 462L636 467L630 475M607 485L611 482L616 476M623 504L633 503L646 502M630 475L638 489L646 502M756 142L766 141L778 136M756 142L759 142L756 142M756 142L756 126L752 114M778 136L781 128L778 119M778 119L775 116L769 110M769 110L760 114L752 114M791 144L783 138L778 136M764 167L760 157L756 142M734 146L747 146L756 142M742 108L747 113L752 114M793 113L786 114L778 119M775 93L773 103L769 110M579 267L579 273L580 278M579 267L589 258L602 251M580 278L599 278L618 278M618 278L612 263L606 251M602 251L601 250L606 251M582 222L593 238L602 251M569 258L573 261L579 267M622 239L614 244L606 251M680 364L683 380L684 391M680 364L694 366L711 368M711 368L710 378L706 386M706 386L699 390L690 392M690 392L686 393L684 391M702 418L698 403L690 392M685 424L681 414L672 405M672 405L671 398L675 396M675 396L681 394L684 391M644 257L634 267L627 277M618 278L619 281L619 279M619 279L622 279L627 277M663 272L654 282L648 295M627 277L636 286L648 295M541 304L553 304L564 306M540 278L554 282L572 288M564 306L566 296L572 288M580 278L578 280L579 282M579 282L574 285L572 288M676 304L683 316L690 322M676 304L663 308L650 308M650 308L649 307L649 309M649 309L656 323L663 341M691 329L689 323L690 322M691 329L689 336L686 338M686 338L681 340L677 344M677 344L670 342L663 341M681 293L679 298L676 304M707 301L697 313L690 322M648 295L649 299L650 308M713 328L703 330L691 329M716 361L716 362L717 361M716 361L703 349L686 338M716 361L713 364L711 368M680 364L679 362L677 357M677 357L678 353L677 344M675 396L667 391L662 388M677 357L669 366L658 372M662 388L660 381L658 372M679 443L669 442L661 437M672 405L666 410L660 415M660 415L659 424L661 437M732 566L733 560L730 551M702 552L707 549L716 548M716 548L723 549L730 551M684 525L684 526L686 523M699 519L691 521L686 523M699 519L706 521L710 522M716 548L713 534L710 522M823 581L816 576L810 571M800 609L801 593L799 579M810 571L804 574L799 579M767 579L771 580L777 576M799 579L788 577L777 576M707 421L716 417L727 410M706 386L716 394L729 401M727 410L726 404L729 401M744 387L740 392L741 393M741 393L734 396L729 401M590 579L590 563L595 551M590 579L578 580L565 580M566 564L582 560L593 550M566 564L565 574L564 579M595 551L592 553L593 550M565 580L564 578L564 580M564 579L565 581L564 580M609 590L599 582L590 579M601 548L600 551L595 551M578 610L572 597L565 580M553 537L557 548L566 564M564 529L577 537L593 550M541 580L553 580L564 579M549 611L554 593L564 580M470 439L475 445L483 450M470 439L473 434L474 424M483 450L489 448L497 440M483 418L478 421L474 424M483 418L489 421L498 427M498 427L500 436L497 440M450 443L461 440L470 439M482 462L481 454L483 450M453 412L463 419L474 424M507 446L500 443L497 440M485 393L485 403L483 418M498 387L501 391L504 392M504 392L511 403L517 416M517 416L509 422L498 427M517 416L519 416L522 418M557 360L552 359L542 355M557 360L561 363L562 366M562 366L559 378L560 392M533 364L534 376L537 386M533 364L535 361L542 355M560 392L551 391L540 389M540 389L536 389L537 386M511 363L522 364L533 364M504 392L521 390L537 386M534 332L536 336L539 336M539 336L543 347L542 355M550 420L557 416L562 414M528 415L533 401L540 389M562 414L566 407L565 398M565 398L564 397L560 392M660 472L656 489L648 503M660 472L668 473L678 472M648 503L647 504L648 503M648 503L663 500L681 494M682 476L680 473L678 472M682 476L685 480L684 487M684 487L685 492L681 494M645 462L651 468L660 472M646 502L647 505L648 503M644 448L645 447L645 446M681 446L682 457L678 472M661 437L654 440L645 446M652 522L649 511L648 503M686 523L685 508L681 494M707 444L710 445L711 447M711 447L709 459L704 470M704 470L691 473L682 476M717 492L712 492L706 495M717 492L718 485L717 481M717 481L710 477L704 470M706 495L697 494L684 487M706 495L702 508L699 519M539 336L546 335L550 331M557 360L565 352L573 341M550 331L561 338L573 341M564 306L565 307L566 312M550 331L559 320L566 312M663 341L654 343L643 350M644 366L653 369L658 372M644 366L644 360L641 357M641 357L642 353L643 350M565 398L568 398L574 396M562 366L572 366L587 366M587 366L579 383L574 396M573 341L580 337L582 337M582 337L588 350L595 362M587 366L592 365L595 362M619 279L615 293L613 303M649 309L638 311L631 316M631 316L624 308L613 303M643 350L633 342L627 333M631 316L628 323L627 333M641 357L625 361L606 366M606 366L607 365L605 366M605 366L613 350L617 338M627 333L624 336L617 338M764 578L766 565L763 549M763 549L766 548L767 546M777 576L784 562L787 549M767 546L775 549L787 549M717 492L726 500L732 506M710 522L720 516L729 514M732 506L730 511L729 514M730 551L737 548L739 541M729 514L732 528L739 541M763 549L753 544L742 540M739 541L739 539L742 540M796 437L791 440L786 443M815 471L800 469L788 469M786 443L787 457L788 469M820 495L806 495L792 499M792 499L790 486L784 474M784 474L788 474L788 469M662 388L649 391L641 392M644 366L641 376L633 387M633 387L637 389L641 392M660 415L650 412L644 411M641 392L641 401L644 411M645 446L638 434L631 421M644 411L640 417L631 421M605 332L605 320L607 305M605 332L595 333L583 334M581 324L584 330L583 334M581 324L590 315L601 305M601 305L603 307L607 305M617 338L610 337L605 332M613 303L608 302L607 305M582 337L583 334L583 334M595 362L600 362L605 366M566 312L575 319L581 324M579 282L591 296L601 305M767 546L772 536L773 524M742 540L753 527L762 518M773 524L765 521L762 518M746 500L753 502L756 506M746 500L739 501L732 506M762 518L759 514L756 506M792 499L791 503L789 504M775 475L777 473L784 474M775 475L770 489L769 500M789 504L777 504L769 500M791 547L788 536L787 522M791 547L801 550L812 554M817 537L813 529L805 522M817 537L815 544L812 554M805 522L798 524L789 520M812 554L810 555L812 554M789 520L787 519L787 522M787 549L789 548L791 547M773 524L782 525L787 522M810 571L813 563L812 554M836 525L827 530L817 537M823 499L815 511L805 522M846 556L828 557L812 554M789 504L788 510L789 520M769 500L761 501L756 506M746 500L748 491L749 479M775 475L764 473L755 471M749 479L753 475L755 471M717 481L720 478L724 475M749 479L734 475L724 475M711 447L719 447L728 449M724 475L727 461L728 449M593 477L593 460L590 447M611 448L606 446L606 444M606 444L597 444L590 447M565 455L573 448L578 444M590 447L585 447L578 444M562 414L568 422L575 430M578 444L579 437L575 430M587 398L598 390L613 387M587 398L588 406L593 416M593 416L601 419L613 421M613 387L613 387L614 388M614 388L615 406L616 419M616 419L613 418L613 421M574 396L579 396L587 398M606 366L611 378L613 387M575 430L584 421L593 416M606 444L607 431L613 421M633 387L625 388L614 388M631 421L622 421L616 419M748 447L743 445L742 444M748 447L758 440L770 436M770 436L772 426L771 413M739 430L750 418L761 410M739 430L741 437L742 444M771 413L767 409L761 410M755 471L754 456L748 447M728 449L733 446L742 444M786 443L776 437L770 436M786 400L779 409L771 413M727 410L732 419L739 430M741 393L752 400L761 410" fill="none" stroke="#a030c8" stroke-width=".7" stroke-opacity=".42" stroke-linejoin="round"/><path d="M384.0 100.0Q392.8 107.9 400.8 116.7Q397.6 124.6 396.7 133.0Q396.7 156.3 388.0 178.0Q389.0 188.0 390.0 198.0Q391.1 212.7 397.5 226.0Q406.3 242.5 410.0 260.8Q402.6 285.6 397.5 311.0Q395.2 320.8 397.5 330.5Q380.1 354.7 359.0 375.8Q362.3 389.2 368.0 401.7Q390.7 420.1 404.0 446.0Q429.4 470.2 453.0 496.0Q457.0 523.0 468.0 548.0Q470.0 576.0 462.5 603.0Q441.2 621.5 420.0 640.0M400.8 116.7Q427.9 121.5 455.0 116.7Q476.1 121.7 495.0 132.5Q536.5 105.1 576.7 75.8Q603.5 63.2 623.0 41.0Q649.7 37.1 676.7 38.0Q700.0 27.1 720.8 12.0Q754.0 -2.3 790.0 -5.0M487.5 44.0Q484.1 62.1 479.0 79.7Q483.6 107.1 495.0 132.5Q471.6 181.6 440.0 225.8Q425.0 243.3 410.0 260.8M540.0 -5.0Q555.1 10.9 575.0 20.0Q579.4 47.8 576.7 75.8Q577.8 87.8 580.0 99.7Q564.1 155.1 560.0 212.5Q569.6 229.0 575.8 247.0Q573.4 279.1 575.8 311.3Q563.0 328.0 544.0 337.0Q553.1 363.2 560.0 390.0Q556.2 407.8 557.5 426.0Q573.4 468.0 580.0 512.5Q622.0 530.8 664.0 549.0Q701.0 577.3 743.0 597.5Q801.9 601.2 860.0 612.0M576.7 75.8Q625.4 73.1 674.0 68.0Q689.5 101.8 715.0 129.0Q745.2 135.1 774.0 145.8Q787.0 155.7 801.7 163.0Q812.8 172.7 818.3 186.3M590.0 -5.0Q583.1 7.9 575.0 20.0M720.8 12.0Q720.3 30.1 725.0 47.5Q753.8 94.5 774.0 145.8M623.0 41.0Q599.9 58.4 576.7 75.8M353.0 316.7Q367.0 311.1 378.0 300.8Q400.0 294.2 423.0 294.0Q449.7 275.5 475.0 255.0Q481.1 251.6 485.0 245.8Q492.4 240.0 500.8 235.8Q531.3 226.4 560.0 212.5Q589.0 213.8 615.0 226.7Q632.7 230.9 650.0 236.7Q672.3 241.6 695.0 240.0Q724.9 215.0 760.0 198.0Q777.0 200.5 794.0 203.0Q807.8 197.0 818.3 186.3Q859.0 192.1 898.0 205.0M818.3 186.3Q826.4 200.9 835.8 214.7Q859.0 247.0 890.8 271.0M818.3 186.3Q780.9 231.3 740.0 273.0Q729.3 292.2 722.5 313.0Q739.2 316.6 752.5 327.5Q743.9 356.1 733.0 384.0Q724.4 416.3 723.0 449.7Q715.2 473.7 699.0 493.0Q681.5 521.0 664.0 549.0Q687.9 597.0 720.0 640.0M818.3 186.3Q829.2 167.1 845.0 151.7Q860.7 138.6 875.0 124.0M818.3 186.3Q814.6 127.7 799.0 71.0Q798.6 39.3 803.0 8.0M835.8 214.7Q851.6 256.2 871.7 295.8Q867.8 327.3 852.5 355.0Q823.8 370.9 794.0 384.7Q777.8 390.6 764.0 400.8Q754.1 416.8 739.0 428.0Q731.0 438.9 723.0 449.7M852.5 355.0Q878.5 351.9 901.7 339.7M752.5 327.5Q766.2 332.2 778.0 340.5Q815.0 348.9 852.5 355.0M695.0 240.0Q693.5 264.0 703.0 286.0Q714.0 298.6 722.5 313.0M397.5 311.0Q420.4 311.7 443.0 308.0Q464.8 293.4 490.8 290.0Q518.2 312.6 544.0 337.0Q572.0 359.9 604.0 376.7Q618.5 375.5 632.5 379.7Q644.1 376.7 655.8 373.7Q666.6 375.9 677.5 374.0Q687.8 374.6 697.5 378.0Q715.1 381.9 733.0 384.0Q763.4 390.3 794.0 384.7M575.8 311.3Q606.8 311.2 637.5 315.8Q654.9 321.1 673.0 323.0Q696.6 312.1 722.5 313.0M655.8 373.7Q644.8 396.8 631.7 418.7Q612.6 450.1 600.0 484.7Q592.7 500.5 580.0 512.5Q552.0 550.2 524.0 588.0Q524.4 602.1 530.0 615.0M600.0 484.7Q625.6 489.3 649.0 500.8Q653.2 517.1 659.0 533.0Q659.6 541.6 664.0 549.0M359.0 375.8Q359.5 371.6 360.8 367.5Q355.3 355.0 347.5 343.7Q347.0 329.5 353.0 316.7Q344.4 306.7 336.7 296.0Q338.6 285.6 337.5 275.0M324.0 395.0Q339.7 382.0 359.0 375.8Q381.5 373.3 404.0 370.8Q418.8 382.0 436.7 387.0Q457.4 407.1 472.5 431.7Q478.5 427.4 484.0 422.5Q479.0 445.4 485.0 468.0Q503.2 479.2 519.0 493.7Q548.8 505.4 580.0 512.5M324.0 395.0Q315.6 401.8 305.0 404.0M359.0 375.8Q398.6 405.5 436.7 437.0Q438.2 462.6 446.7 486.7Q464.1 473.7 485.0 468.0Q483.8 485.8 482.5 503.5Q471.0 524.4 468.0 548.0M321.7 355.0Q333.8 347.5 347.5 343.7Q362.2 350.5 377.5 355.8Q390.5 345.5 397.5 330.5M331.7 331.7Q327.8 343.8 321.7 355.0Q308.2 360.8 296.0 369.0M484.0 422.5Q509.1 376.3 544.0 337.0M485.0 468.0Q521.6 428.2 560.0 390.0M331.7 514.7Q370.3 483.0 404.0 446.0M331.7 514.7Q348.6 543.0 356.7 575.0Q385.9 564.4 415.0 553.7Q442.0 555.6 468.0 548.0Q498.1 565.1 524.0 588.0Q555.8 595.6 588.0 600.8Q629.4 579.9 664.0 549.0Q693.5 547.1 723.0 550.0M356.7 575.0Q379.3 580.7 402.5 582.0Q434.5 586.8 462.5 603.0Q496.5 607.8 530.0 615.0Q563.8 630.9 600.0 640.0M415.0 553.7Q430.0 522.2 453.0 496.0M462.5 603.0Q493.2 595.5 524.0 588.0M743.0 597.5Q746.1 580.2 742.5 563.0Q740.8 542.6 745.0 522.5Q735.1 485.8 723.0 449.7M455.0 116.7Q451.7 101.3 441.7 89.0M440.0 225.8Q470.8 228.4 500.8 235.8M495.0 132.5Q508.5 144.1 524.0 153.0Q547.1 179.6 560.0 212.5M560.0 212.5Q571.4 198.7 584.0 186.0Q603.1 168.7 616.7 146.7Q608.2 131.7 605.8 114.7Q591.2 95.2 576.7 75.8M615.0 226.7Q607.6 231.5 602.5 238.7Q608.4 253.3 610.0 269.0M636.7 206.7Q625.4 216.2 615.0 226.7M695.0 240.0Q707.8 214.4 709.0 185.8M410.0 260.8Q423.3 241.9 440.0 225.8M397.5 311.0Q406.1 286.5 410.0 260.8M365.0 326.0Q379.4 314.6 397.5 311.0M580.0 512.5Q604.3 540.3 626.7 569.7" fill="none" stroke="#f236a8" stroke-width="1.1" stroke-opacity=".62" stroke-linejoin="round"/><g fill="#9a58ea" fill-opacity=".85" stroke="#b27af0" stroke-width=".5"><rect x="391.5" y="153.9" width="6" height="4" rx=".8"/><rect x="402.0" y="240.9" width="6" height="4" rx=".8"/><rect x="376.2" y="351.9" width="6" height="4" rx=".8"/><rect x="425.9" y="468.6" width="6" height="4" rx=".8"/><rect x="438.2" y="619.5" width="6" height="4" rx=".8"/><rect x="533.2" y="102.6" width="6" height="4" rx=".8"/><rect x="696.4" y="24.0" width="6" height="4" rx=".8"/><rect x="482.3" y="104.6" width="6" height="4" rx=".8"/><rect x="553.3" y="7.2" width="6" height="4" rx=".8"/><rect x="564.0" y="153.6" width="6" height="4" rx=".8"/><rect x="558.4" y="324.1" width="6" height="4" rx=".8"/><rect x="568.1" y="466.6" width="6" height="4" rx=".8"/><rect x="798.7" y="601.0" width="6" height="4" rx=".8"/><rect x="741.8" y="134.2" width="6" height="4" rx=".8"/><rect x="579.8" y="5.7" width="6" height="4" rx=".8"/><rect x="596.9" y="56.4" width="6" height="4" rx=".8"/><rect x="446.4" y="273.0" width="6" height="4" rx=".8"/><rect x="527.8" y="223.3" width="6" height="4" rx=".8"/><rect x="669.4" y="238.0" width="6" height="4" rx=".8"/><rect x="804.0" y="193.8" width="6" height="4" rx=".8"/><rect x="858.2" y="242.9" width="6" height="4" rx=".8"/><rect x="735.4" y="316.4" width="6" height="4" rx=".8"/><rect x="710.1" y="470.5" width="6" height="4" rx=".8"/><rect x="827.4" y="166.0" width="6" height="4" rx=".8"/><rect x="796.8" y="37.4" width="6" height="4" rx=".8"/><rect x="820.5" y="368.4" width="6" height="4" rx=".8"/><rect x="728.0" y="436.9" width="6" height="4" rx=".8"/><rect x="812.1" y="346.3" width="6" height="4" rx=".8"/><rect x="417.3" y="308.6" width="6" height="4" rx=".8"/><rect x="570.0" y="356.4" width="6" height="4" rx=".8"/><rect x="663.6" y="372.9" width="6" height="4" rx=".8"/><rect x="760.5" y="385.3" width="6" height="4" rx=".8"/><rect x="694.2" y="313.1" width="6" height="4" rx=".8"/><rect x="588.3" y="497.6" width="6" height="4" rx=".8"/><rect x="622.1" y="489.0" width="6" height="4" rx=".8"/><rect x="356.7" y="369.6" width="6" height="4" rx=".8"/><rect x="341.6" y="304.5" width="6" height="4" rx=".8"/><rect x="378.5" y="371.3" width="6" height="4" rx=".8"/><rect x="475.4" y="425.2" width="6" height="4" rx=".8"/><rect x="546.1" y="502.2" width="6" height="4" rx=".8"/><rect x="436.9" y="460.2" width="6" height="4" rx=".8"/><rect x="470.1" y="523.1" width="6" height="4" rx=".8"/><rect x="386.0" y="342.3" width="6" height="4" rx=".8"/><rect x="508.5" y="376.0" width="6" height="4" rx=".8"/><rect x="343.4" y="541.9" width="6" height="4" rx=".8"/><rect x="494.0" y="564.5" width="6" height="4" rx=".8"/><rect x="690.5" y="546.3" width="6" height="4" rx=".8"/><rect x="493.4" y="606.4" width="6" height="4" rx=".8"/><rect x="490.2" y="593.5" width="6" height="4" rx=".8"/><rect x="731.6" y="483.9" width="6" height="4" rx=".8"/><rect x="506.0" y="141.4" width="6" height="4" rx=".8"/><rect x="598.7" y="165.5" width="6" height="4" rx=".8"/><rect x="605.2" y="230.1" width="6" height="4" rx=".8"/><rect x="701.9" y="211.7" width="6" height="4" rx=".8"/><rect x="377.4" y="314.6" width="6" height="4" rx=".8"/></g></g>
<g fill="#6d1d9e" fill-opacity=".66" font-family="Liberation Sans, sans-serif"><text x="382.5" y="75.3" font-size="5.8" text-anchor="middle">Norden</text><text x="403.3" y="90.3" font-size="5.8" text-anchor="middle">Aurich</text><text x="384.0" y="102.0" font-size="5.8" text-anchor="middle">Emden</text><text x="441.7" y="91.0" font-size="5.8" text-anchor="middle">Wilhelmshaven</text><text x="401.7" y="109.2" font-size="6.8" text-anchor="middle" letter-spacing=".7" fill-opacity=".55">Ostfriesland</text><text x="487.5" y="46.0" font-size="5.8" text-anchor="middle">Cuxhaven</text><text x="479.0" y="82.2" font-size="7.2" text-anchor="middle">Bremerhaven</text><text x="472.5" y="102.0" font-size="5.8" text-anchor="middle">Nordenham</text><text x="575.0" y="22.0" font-size="5.8" text-anchor="middle">Neumünster</text><text x="543.0" y="40.0" font-size="5.8" text-anchor="middle">Itzehoe</text><text x="575.0" y="54.5" font-size="5.8" text-anchor="middle">Henstedt-Ulzburg</text><text x="576.7" y="64.0" font-size="5.8" text-anchor="middle">Norderstedt</text><text x="553.0" y="69.5" font-size="5.8" text-anchor="middle">Elmshorn</text><text x="541.0" y="76.0" font-size="5.8" text-anchor="middle">Stade</text><text x="576.7" y="79.5" font-size="9.8" text-anchor="middle" font-weight="bold" fill-opacity=".6">Hamburg</text><text x="594.0" y="86.0" font-size="5.8" text-anchor="middle">Reinbek</text><text x="555.0" y="90.0" font-size="5.8" text-anchor="middle">Buxtehude</text><text x="602.5" y="94.5" font-size="5.8" text-anchor="middle">Geesthacht</text><text x="580.0" y="101.7" font-size="5.8" text-anchor="middle">Seevetal</text><text x="569.0" y="108.7" font-size="5.8" text-anchor="middle">Buchholz in</text><text x="623.0" y="43.9" font-size="8.2" text-anchor="middle">Lübeck</text><text x="720.8" y="14.9" font-size="8.2" text-anchor="middle">Rostock</text><text x="676.7" y="40.0" font-size="5.8" text-anchor="middle">Wismar</text><text x="725.0" y="49.5" font-size="5.8" text-anchor="middle">Güstrow</text><text x="674.0" y="70.5" font-size="7.2" text-anchor="middle">Schwerin</text><text x="753.0" y="79.5" font-size="6.8" text-anchor="middle" letter-spacing=".7" fill-opacity=".55">Mecklenburgische</text><text x="752.5" y="88.5" font-size="6.8" text-anchor="middle" letter-spacing=".7" fill-opacity=".55">Seenplatte</text><text x="799.0" y="73.0" font-size="5.8" text-anchor="middle">Neubrandenburg</text><text x="806.0" y="35.5" font-size="6.8" text-anchor="middle" letter-spacing=".7" fill-opacity=".55">Vorpommern</text><text x="803.0" y="10.0" font-size="5.8" text-anchor="middle">Greifswald</text><text x="455.0" y="119.2" font-size="7.2" text-anchor="middle">Oldenburg</text><text x="453.0" y="128.5" font-size="7.2" text-anchor="middle">(Oldb)</text><text x="495.0" y="135.8" font-size="8.6" text-anchor="middle" font-weight="bold" fill-opacity=".6">Bremen</text><text x="482.5" y="145.7" font-size="5.8" text-anchor="middle">Delmenhorst</text><text x="510.0" y="145.0" font-size="5.8" text-anchor="middle">Achim</text><text x="491.0" y="154.5" font-size="5.8" text-anchor="middle">Stuhr</text><text x="524.0" y="155.0" font-size="5.8" text-anchor="middle">Verden (Aller)</text><text x="458.0" y="177.0" font-size="5.8" text-anchor="middle">Vechta</text><text x="522.5" y="187.8" font-size="5.8" text-anchor="middle">Nienburg (Weser)</text><text x="540.0" y="194.5" font-size="5.8" text-anchor="middle">Neustadt am</text><text x="540.0" y="202.8" font-size="5.8" text-anchor="middle">Rübenberge</text><text x="590.0" y="160.5" font-size="6.8" text-anchor="middle" letter-spacing=".7" fill-opacity=".55">Lüneburger</text><text x="590.0" y="169.2" font-size="6.8" text-anchor="middle" letter-spacing=".7" fill-opacity=".55">Heide</text><text x="616.7" y="148.7" font-size="5.8" text-anchor="middle">Uelzen</text><text x="605.8" y="116.7" font-size="5.8" text-anchor="middle">Lüneburg</text><text x="568.0" y="117.0" font-size="5.8" text-anchor="middle">der Nordheide</text><text x="584.0" y="188.0" font-size="5.8" text-anchor="middle">Celle</text><text x="460.0" y="191.0" font-size="5.8" text-anchor="middle">Lohne (Oldenburg)</text><text x="560.0" y="215.8" font-size="8.6" text-anchor="middle" font-weight="bold" fill-opacity=".6">Hannover</text><text x="400.8" y="118.7" font-size="5.8" text-anchor="middle">Leer (Ostfriesland)</text><text x="396.7" y="135.0" font-size="5.8" text-anchor="middle">Papenburg</text><text x="436.7" y="136.0" font-size="5.8" text-anchor="middle">Bad Zwischenahn</text><text x="440.8" y="163.0" font-size="5.8" text-anchor="middle">Cloppenburg</text><text x="388.0" y="180.0" font-size="5.8" text-anchor="middle">Meppen</text><text x="390.0" y="200.0" font-size="5.8" text-anchor="middle">Lingen (Ems)</text><text x="373.0" y="208.7" font-size="5.8" text-anchor="middle">Nordhorn</text><text x="715.0" y="131.5" font-size="6.8" text-anchor="middle" letter-spacing=".7" fill-opacity=".55">Prignitz</text><text x="774.0" y="147.8" font-size="5.8" text-anchor="middle">Neuruppin</text><text x="801.7" y="165.0" font-size="5.8" text-anchor="middle">Oranienburg</text><text x="680.0" y="184.2" font-size="6.8" text-anchor="middle" letter-spacing=".7" fill-opacity=".55">Altmark</text><text x="709.0" y="187.8" font-size="5.8" text-anchor="middle">Stendal</text><text x="770.0" y="193.3" font-size="6.8" text-anchor="middle" letter-spacing=".7" fill-opacity=".55">Havelland</text><text x="760.0" y="200.0" font-size="5.8" text-anchor="middle">Brandenburg</text><text x="760.0" y="207.0" font-size="5.8" text-anchor="middle">an der Havel</text><text x="794.0" y="205.5" font-size="7.2" text-anchor="middle">Potsdam</text><text x="636.7" y="209.2" font-size="7.2" text-anchor="middle">Wolfsburg</text><text x="818.3" y="190.0" font-size="9.8" text-anchor="middle" font-weight="bold" fill-opacity=".6">Berlin</text><text x="830.0" y="172.8" font-size="5.8" text-anchor="middle">Bernau bei Berlin</text><text x="851.7" y="182.8" font-size="5.8" text-anchor="middle">Strausberg</text><text x="845.0" y="153.7" font-size="5.8" text-anchor="middle">Eberswalde</text><text x="826.7" y="115.0" font-size="6.8" text-anchor="middle" letter-spacing=".7" fill-opacity=".55">Uckermark</text><text x="866.0" y="126.0" font-size="5.8" text-anchor="middle">Schwedt/</text><text x="890.0" y="207.0" font-size="5.8" text-anchor="middle">Frankfurt</text><text x="367.5" y="241.7" font-size="5.8" text-anchor="middle"><tspan fill="#222" fill-opacity="1" font-weight="bold">Gro</tspan>nau (Westf.)</text><text x="397.5" y="228.0" font-size="5.8" text-anchor="middle">Rheine</text><text x="417.5" y="234.5" font-size="5.8" text-anchor="middle">Ibbenbüren</text><text x="440.0" y="228.7" font-size="8.2" text-anchor="middle">Osnabrück</text><text x="366.7" y="250.7" font-size="5.8" text-anchor="middle">Ahaus</text><text x="409.0" y="250.0" font-size="5.8" text-anchor="middle">Greven</text><text x="410.0" y="263.7" font-size="8.2" text-anchor="middle">Münster</text><text x="377.5" y="266.0" font-size="5.8" text-anchor="middle">Coesfeld</text><text x="337.5" y="277.0" font-size="5.8" text-anchor="middle">Bocholt</text><text x="303.0" y="282.0" font-size="5.8" text-anchor="middle">Kleve</text><text x="304.0" y="295.0" font-size="5.8" text-anchor="middle">Goch</text><text x="336.7" y="298.0" font-size="5.8" text-anchor="middle">Wesel</text><text x="355.0" y="288.0" font-size="5.8" text-anchor="middle">Borken</text><text x="385.0" y="279.5" font-size="5.8" text-anchor="middle">Dülmen</text><text x="378.0" y="295.0" font-size="5.8" text-anchor="middle">Haltern am See</text><text x="378.0" y="303.3" font-size="7.2" text-anchor="middle">Recklinghausen</text><text x="423.0" y="296.5" font-size="7.2" text-anchor="middle">Hamm</text><text x="428.0" y="288.0" font-size="5.8" text-anchor="middle">Ahlen</text><text x="446.7" y="287.0" font-size="5.8" text-anchor="middle">Oelde</text><text x="361.7" y="309.5" font-size="5.8" text-anchor="middle">Dorsten</text><text x="397.5" y="314.3" font-size="8.6" text-anchor="middle" font-weight="bold" fill-opacity=".6">Dortmund</text><text x="443.0" y="310.0" font-size="5.8" text-anchor="middle">Soest</text><text x="353.0" y="319.2" font-size="7.2" text-anchor="middle">Oberhausen</text><text x="365.0" y="329.3" font-size="8.6" text-anchor="middle" font-weight="bold" fill-opacity=".6">Essen</text><text x="331.7" y="334.2" font-size="7.2" text-anchor="middle">Krefeld</text><text x="397.5" y="333.0" font-size="7.2" text-anchor="middle">Hagen</text><text x="440.8" y="331.0" font-size="5.8" text-anchor="middle">Arnsberg</text><text x="347.5" y="347.0" font-size="8.6" text-anchor="middle" font-weight="bold" fill-opacity=".6">Düsseldorf</text><text x="321.7" y="357.9" font-size="8.2" text-anchor="middle">Mönchengladbach</text><text x="377.5" y="358.7" font-size="8.2" text-anchor="middle">Wuppertal</text><text x="360.8" y="370.0" font-size="7.2" text-anchor="middle">Leverkusen</text><text x="404.0" y="372.8" font-size="5.8" text-anchor="middle">Gummersbach</text><text x="359.0" y="379.5" font-size="9.8" text-anchor="middle" font-weight="bold" fill-opacity=".6">Köln</text><text x="371.7" y="389.5" font-size="7.2" text-anchor="middle">Bergisch Gladbach</text><text x="436.7" y="389.5" font-size="7.2" text-anchor="middle">Siegen</text><text x="324.0" y="397.0" font-size="5.8" text-anchor="middle">Düren</text><text x="345.0" y="397.0" font-size="5.8" text-anchor="middle">Frechen</text><text x="374.0" y="397.0" font-size="5.8" text-anchor="middle">Troisdorf</text><text x="368.0" y="404.6" font-size="8.2" text-anchor="middle">Bonn</text><text x="305.0" y="406.0" font-size="5.8" text-anchor="middle">Stolberg (Rhld.)</text><text x="310.0" y="343.0" font-size="5.8" text-anchor="middle">Nettetal</text><text x="312.5" y="364.5" font-size="5.8" text-anchor="middle">Erkelenz</text><text x="296.0" y="371.0" font-size="5.8" text-anchor="middle">Heinsberg</text><text x="306.0" y="378.0" font-size="5.8" text-anchor="middle">Hückelhoven</text><text x="412.5" y="343.7" font-size="5.8" text-anchor="middle">Iserlohn</text><text x="426.7" y="351.7" font-size="5.8" text-anchor="middle">Plettenberg</text><text x="440.8" y="365.0" font-size="5.8" text-anchor="middle">Lennestadt</text><text x="451.7" y="342.0" font-size="5.8" text-anchor="middle">Meschede</text><text x="303.0" y="315.0" font-size="5.8" text-anchor="middle">Geldern</text><text x="300.0" y="307.0" font-size="5.8" text-anchor="middle">Kevelaer</text><text x="505.8" y="217.8" font-size="5.8" text-anchor="middle">Petershagen</text><text x="502.5" y="228.0" font-size="5.8" text-anchor="middle">Minden</text><text x="500.8" y="237.8" font-size="5.8" text-anchor="middle">Bad Oeynhausen</text><text x="540.8" y="238.0" font-size="5.8" text-anchor="middle">Barsinghausen</text><text x="485.0" y="247.8" font-size="5.8" text-anchor="middle">Herford</text><text x="533.0" y="249.5" font-size="5.8" text-anchor="middle">Hameln</text><text x="575.8" y="249.5" font-size="7.2" text-anchor="middle">Hildesheim</text><text x="602.5" y="241.2" font-size="7.2" text-anchor="middle">Salzgitter</text><text x="615.0" y="229.2" font-size="7.2" text-anchor="middle">Braunschweig</text><text x="616.7" y="247.0" font-size="5.8" text-anchor="middle">Wolfenbüttel</text><text x="475.0" y="257.9" font-size="8.2" text-anchor="middle">Bielefeld</text><text x="499.0" y="268.7" font-size="5.8" text-anchor="middle">Detmold</text><text x="461.7" y="271.0" font-size="5.8" text-anchor="middle">Gütersloh</text><text x="490.8" y="292.5" font-size="7.2" text-anchor="middle">Paderborn</text><text x="461.7" y="298.7" font-size="5.8" text-anchor="middle">Lippstadt</text><text x="535.8" y="287.3" font-size="5.8" text-anchor="middle">Höxter</text><text x="570.0" y="282.0" font-size="5.8" text-anchor="middle">Einbeck</text><text x="610.0" y="271.0" font-size="5.8" text-anchor="middle">Goslar</text><text x="576.7" y="294.5" font-size="5.8" text-anchor="middle">Northeim</text><text x="575.8" y="313.8" font-size="7.2" text-anchor="middle">Göttingen</text><text x="544.0" y="339.5" font-size="7.2" text-anchor="middle">Kassel</text><text x="538.0" y="347.0" font-size="5.8" text-anchor="middle">Baunatal</text><text x="613.0" y="343.7" font-size="5.8" text-anchor="middle">Mühlhausen</text><text x="614.0" y="351.7" font-size="5.8" text-anchor="middle">Thüringen</text><text x="604.0" y="378.7" font-size="5.8" text-anchor="middle">Eisenach</text><text x="560.0" y="392.0" font-size="5.8" text-anchor="middle">Bad Hersfeld</text><text x="491.7" y="398.7" font-size="5.8" text-anchor="middle">Marburg</text><text x="477.5" y="331.7" font-size="5.8" text-anchor="middle">Brilon</text><text x="480.0" y="304.5" font-size="5.8" text-anchor="middle">Salzkotten</text><text x="462.0" y="278.0" font-size="5.8" text-anchor="middle">Rheda-Wiedenbrück</text><text x="452.0" y="264.0" font-size="5.8" text-anchor="middle">Harsewinkel</text><text x="695.0" y="242.5" font-size="7.2" text-anchor="middle">Magdeburg</text><text x="650.0" y="238.7" font-size="5.8" text-anchor="middle">Helmstedt</text><text x="703.0" y="257.0" font-size="5.8" text-anchor="middle">Schönebeck</text><text x="703.0" y="265.0" font-size="5.8" text-anchor="middle">(Elbe)</text><text x="694.0" y="275.0" font-size="5.8" text-anchor="middle">Staßfurt</text><text x="740.0" y="275.0" font-size="5.8" text-anchor="middle">Dessau-Roßlau</text><text x="768.0" y="282.0" font-size="5.8" text-anchor="middle">Wittenberg</text><text x="703.0" y="288.0" font-size="5.8" text-anchor="middle">Bernburg (Saale)</text><text x="684.0" y="298.0" font-size="5.8" text-anchor="middle">Aschersleben</text><text x="747.5" y="298.7" font-size="5.8" text-anchor="middle">Bitterfeld-Wolfen</text><text x="655.0" y="271.7" font-size="5.8" text-anchor="middle">Halberstadt</text><text x="636.7" y="279.5" font-size="5.8" text-anchor="middle">Wernigerode</text><text x="775.0" y="250.5" font-size="6.8" text-anchor="middle" letter-spacing=".7" fill-opacity=".55">Fläming</text><text x="835.8" y="216.7" font-size="5.8" text-anchor="middle">Königs Wusterhausen</text><text x="890.8" y="273.5" font-size="7.2" text-anchor="middle">Cottbus</text><text x="848.0" y="280.5" font-size="6.8" text-anchor="middle" letter-spacing=".7" fill-opacity=".55">Niederlausitz</text><text x="871.7" y="298.3" font-size="6.8" text-anchor="middle" letter-spacing=".7" fill-opacity=".55">Lausitz</text><text x="901.0" y="228.7" font-size="5.8" text-anchor="middle">Eisenhütten</text><text x="820.0" y="232.8" font-size="5.8" text-anchor="middle">Mahlow</text><text x="818.0" y="224.5" font-size="5.8" text-anchor="middle">Blankenfelde-</text><text x="722.5" y="315.5" font-size="7.2" text-anchor="middle">Halle (Saale)</text><text x="752.5" y="330.8" font-size="8.6" text-anchor="middle" font-weight="bold" fill-opacity=".6">Leipzig</text><text x="725.0" y="337.0" font-size="5.8" text-anchor="middle">Merseburg</text><text x="723.0" y="349.5" font-size="5.8" text-anchor="middle">Weißenfels</text><text x="712.5" y="362.0" font-size="5.8" text-anchor="middle">Naumburg (Saale)</text><text x="778.0" y="342.5" font-size="5.8" text-anchor="middle">Grimma</text><text x="673.0" y="325.0" font-size="5.8" text-anchor="middle">Sangerhausen</text><text x="637.5" y="317.8" font-size="5.8" text-anchor="middle">Nordhausen</text><text x="657.5" y="355.0" font-size="6.8" text-anchor="middle" letter-spacing=".7" fill-opacity=".55">Thüringer</text><text x="657.5" y="362.5" font-size="6.8" text-anchor="middle" letter-spacing=".7" fill-opacity=".55">Becken</text><text x="655.8" y="376.2" font-size="7.2" text-anchor="middle">Erfurt</text><text x="677.5" y="376.0" font-size="5.8" text-anchor="middle">Weimar</text><text x="697.5" y="380.5" font-size="7.2" text-anchor="middle">Jena</text><text x="632.5" y="381.7" font-size="5.8" text-anchor="middle">Gotha</text><text x="736.7" y="372.0" font-size="5.8" text-anchor="middle">Zeitz</text><text x="759.0" y="372.0" font-size="5.8" text-anchor="middle">Altenburg</text><text x="733.0" y="386.0" font-size="5.8" text-anchor="middle">Gera</text><text x="794.0" y="387.2" font-size="7.2" text-anchor="middle">Chemnitz</text><text x="764.0" y="402.8" font-size="5.8" text-anchor="middle">Zwickau</text><text x="805.0" y="402.5" font-size="6.8" text-anchor="middle" letter-spacing=".7" fill-opacity=".55">Erzgebirge</text><text x="886.7" y="312.8" font-size="5.8" text-anchor="middle">Hoyerswerda</text><text x="901.7" y="332.5" font-size="6.8" text-anchor="middle" letter-spacing=".7" fill-opacity=".55">Oberlausitz</text><text x="901.7" y="341.7" font-size="5.8" text-anchor="middle">Bautzen</text><text x="820.0" y="332.5" font-size="5.8" text-anchor="middle">Riesa</text><text x="831.7" y="347.8" font-size="5.8" text-anchor="middle">Meißen</text><text x="852.5" y="358.3" font-size="8.6" text-anchor="middle" font-weight="bold" fill-opacity=".6">Dresden</text><text x="847.5" y="366.0" font-size="5.8" text-anchor="middle">Freital</text><text x="868.0" y="369.5" font-size="5.8" text-anchor="middle">Pirna</text><text x="825.0" y="377.8" font-size="5.8" text-anchor="middle">Freiberg</text><text x="931.7" y="372.0" font-size="5.8" text-anchor="middle">Zittau</text><text x="345.8" y="414.0" font-size="5.8" text-anchor="middle">Euskirchen</text><text x="381.7" y="414.0" font-size="5.8" text-anchor="middle">Hennef (Sieg)</text><text x="335.8" y="421.7" font-size="5.8" text-anchor="middle">Mechernich</text><text x="375.0" y="424.5" font-size="5.8" text-anchor="middle">Königswinter</text><text x="423.0" y="425.0" font-size="6.8" text-anchor="middle" letter-spacing=".7" fill-opacity=".55">Westerwald</text><text x="393.0" y="441.7" font-size="5.8" text-anchor="middle">Neuwied</text><text x="404.0" y="448.5" font-size="7.2" text-anchor="middle">Koblenz</text><text x="436.7" y="439.0" font-size="5.8" text-anchor="middle">Limburg a.d.</text><text x="439.0" y="447.0" font-size="5.8" text-anchor="middle">Lahn</text><text x="346.7" y="451.5" font-size="6.8" text-anchor="middle" letter-spacing=".7" fill-opacity=".55">Eifel</text><text x="445.0" y="475.0" font-size="5.8" text-anchor="middle">Taunusstein</text><text x="446.7" y="490.0" font-size="8.6" text-anchor="middle" font-weight="bold" fill-opacity=".6">Wiesbaden</text><text x="453.0" y="498.9" font-size="8.2" text-anchor="middle">Mainz</text><text x="422.5" y="509.5" font-size="5.8" text-anchor="middle">Bad Kreuznach</text><text x="331.7" y="517.2" font-size="7.2" text-anchor="middle">Trier</text><text x="361.7" y="516.5" font-size="6.8" text-anchor="middle" letter-spacing=".7" fill-opacity=".55">Hunsrück</text><text x="380.0" y="524.0" font-size="5.8" text-anchor="middle">Idar-Oberstein</text><text x="386.7" y="532.5" font-size="6.8" text-anchor="middle" letter-spacing=".7" fill-opacity=".55">Saar-Nahe-</text><text x="388.0" y="541.2" font-size="6.8" text-anchor="middle" letter-spacing=".7" fill-opacity=".55">Bergland</text><text x="330.0" y="554.0" font-size="5.8" text-anchor="middle">Merzig</text><text x="372.5" y="552.0" font-size="5.8" text-anchor="middle">St. Wendel</text><text x="415.0" y="555.7" font-size="5.8" text-anchor="middle">Kaiserslautern</text><text x="370.8" y="566.0" font-size="5.8" text-anchor="middle">Neunkirchen</text><text x="335.0" y="568.7" font-size="5.8" text-anchor="middle">Saarlouis</text><text x="356.7" y="577.5" font-size="7.2" text-anchor="middle">Saarbrücken</text><text x="345.8" y="588.0" font-size="5.8" text-anchor="middle">Völklingen</text><text x="402.5" y="584.0" font-size="5.8" text-anchor="middle">Pirmasens</text><text x="466.7" y="566.6" font-size="8.2" text-anchor="middle">Ludwigshafen</text><text x="466.7" y="575.9" font-size="8.2" text-anchor="middle">am Rhein</text><text x="468.0" y="550.9" font-size="8.2" text-anchor="middle">Mannheim</text><text x="477.5" y="557.0" font-size="5.8" text-anchor="middle">Viernheim</text><text x="460.0" y="535.0" font-size="5.8" text-anchor="middle">Worms</text><text x="479.0" y="529.5" font-size="5.8" text-anchor="middle">Bensheim</text><text x="482.5" y="506.0" font-size="7.2" text-anchor="middle">Darmstadt</text><text x="475.0" y="514.5" font-size="5.8" text-anchor="middle">Griesheim</text><text x="477.5" y="521.7" font-size="5.8" text-anchor="middle">Pfungstadt</text><text x="465.8" y="583.0" font-size="5.8" text-anchor="middle">Speyer</text><text x="477.5" y="593.0" font-size="5.8" text-anchor="middle">Bruchsal</text><text x="462.5" y="605.9" font-size="8.2" text-anchor="middle">Karlsruhe</text><text x="524.0" y="590.5" font-size="7.2" text-anchor="middle">Heilbronn</text><text x="524.0" y="598.0" font-size="5.8" text-anchor="middle">Neckarsulm</text><text x="564.0" y="587.0" font-size="5.8" text-anchor="middle">Schwäbisch</text><text x="563.0" y="594.5" font-size="5.8" text-anchor="middle">Hall</text><text x="588.0" y="602.8" font-size="5.8" text-anchor="middle">Crailsheim</text><text x="626.7" y="571.7" font-size="5.8" text-anchor="middle">Ansbach</text><text x="580.0" y="515.0" font-size="7.2" text-anchor="middle">Würzburg</text><text x="484.0" y="424.5" font-size="5.8" text-anchor="middle">Gießen</text><text x="472.5" y="433.7" font-size="5.8" text-anchor="middle">Wetzlar</text><text x="484.0" y="442.0" font-size="5.8" text-anchor="middle">Butzbach</text><text x="489.0" y="450.7" font-size="5.8" text-anchor="middle">Bad Nauheim</text><text x="485.0" y="466.2" font-size="9.8" text-anchor="middle" font-weight="bold" fill-opacity=".6">Frankfurt</text><text x="484.0" y="478.4" font-size="9.8" text-anchor="middle" font-weight="bold" fill-opacity=".6">am Main</text><text x="501.7" y="487.8" font-size="5.8" text-anchor="middle">Hanau</text><text x="485.0" y="496.0" font-size="5.8" text-anchor="middle">Offenbach</text><text x="519.0" y="495.7" font-size="5.8" text-anchor="middle">Aschaffenburg</text><text x="557.5" y="428.0" font-size="5.8" text-anchor="middle">Fulda</text><text x="600.0" y="486.7" font-size="5.8" text-anchor="middle">Schweinfurt</text><text x="631.7" y="420.7" font-size="5.8" text-anchor="middle">Suhl</text><text x="647.5" y="412.0" font-size="5.8" text-anchor="middle">Ilmenau</text><text x="653.0" y="460.0" font-size="5.8" text-anchor="middle">Coburg</text><text x="690.0" y="477.0" font-size="5.8" text-anchor="middle">Kulmbach</text><text x="699.0" y="495.2" font-size="6.3" text-anchor="middle">Bayreuth</text><text x="649.0" y="503.0" font-size="6.3" text-anchor="middle">Bamberg</text><text x="723.0" y="451.7" font-size="5.8" text-anchor="middle">Hof</text><text x="739.0" y="430.0" font-size="5.8" text-anchor="middle">Plauen</text><text x="661.7" y="522.8" font-size="5.8" text-anchor="middle">Forchheim</text><text x="659.0" y="535.5" font-size="7.2" text-anchor="middle">Erlangen</text><text x="664.0" y="552.3" font-size="8.6" text-anchor="middle" font-weight="bold" fill-opacity=".6">Nürnberg</text><text x="657.5" y="564.5" font-size="7.2" text-anchor="middle">Fürth</text><text x="660.8" y="573.7" font-size="5.8" text-anchor="middle">Schwabach</text><text x="664.0" y="583.0" font-size="5.8" text-anchor="middle">Roth</text><text x="693.0" y="584.0" font-size="5.8" text-anchor="middle">Neumarkt i.d.</text><text x="693.0" y="592.0" font-size="5.8" text-anchor="middle">OPf.</text><text x="723.0" y="552.0" font-size="5.8" text-anchor="middle">Amberg</text><text x="745.0" y="524.5" font-size="5.8" text-anchor="middle">Weiden i.d. OPf.</text><text x="742.5" y="565.0" font-size="5.8" text-anchor="middle">Schwandorf</text><text x="740.8" y="583.3" font-size="6.8" text-anchor="middle" letter-spacing=".7" fill-opacity=".55">Fränkische</text><text x="726.7" y="591.5" font-size="6.8" text-anchor="middle" letter-spacing=".7" fill-opacity=".55">Alb</text><text x="743.0" y="600.0" font-size="7.2" text-anchor="middle">Regensburg</text><text x="822.5" y="598.5" font-size="6.8" text-anchor="middle" letter-spacing=".7" fill-opacity=".55">Bayerischer</text><text x="821.7" y="607.2" font-size="6.8" text-anchor="middle" letter-spacing=".7" fill-opacity=".55">Wald</text></g>
<text x="403.3" y="28.8" font-size="8.6" text-anchor="middle" fill="#274a78" font-style="italic" font-weight="normal">Nordsee</text>
<text x="888.0" y="126.0" font-size="5.8" text-anchor="middle" fill="#222" font-style="normal" font-weight="bold">Oder</text>
<text x="914.0" y="207.0" font-size="5.8" text-anchor="middle" fill="#222" font-style="normal" font-weight="bold">(Oder)</text>
<text x="924.0" y="228.7" font-size="5.8" text-anchor="middle" fill="#222" font-style="normal" font-weight="bold">stadt</text>
<text x="943.0" y="341.9" font-size="6.2" text-anchor="middle" fill="#2a2060" font-style="normal" font-weight="bold">Görlitz</text>
<text x="291.0" y="397.2" font-size="6.4" text-anchor="middle" fill="#222" font-style="normal" font-weight="bold">Aachen</text>
</svg>
</div>

<svg id="scale" width="80" height="16" viewBox="0 0 80 16"><path d="M0.5 9v4.5h60V9" fill="none" stroke="#222" stroke-width="1.4"/><text x="57.500" y="8.500" font-family="Liberation Sans,sans-serif" font-size="6.800" font-weight="bold" fill="#222">60km</text></svg>
<div id="attr">© GeoBasis-DE / <u>BKG</u> 2016</div>

<svg style="position:absolute;left:1084px;top:568px;z-index:3" width="116" height="40" viewBox="0 0 116 40" font-family="Liberation Sans, sans-serif">
<text x="6" y="19.300" font-size="3.800" font-weight="bold" fill="#fff" stroke="#8e8e8e" stroke-width=".6" paint-order="stroke" letter-spacing=".25">POWERED BY</text>
<text x="3.500" y="33.500" font-size="23.500" font-weight="bold" fill="#fff" stroke="#8c8c8c" stroke-width="1.500" paint-order="stroke" letter-spacing="-.3">esri</text>
<g fill="none" stroke="#9c9c9c" stroke-width="2.800" stroke-linecap="round"><path d="M60 27c-1-9 4-19 15-20 8-.6 14 3 14 8"/><path d="M63 28c2-6 8-10.500 17-11.500"/><circle cx="80" cy="10.500" r="3.800"/><path d="M86 7c4 3 4 9-1 13"/><path d="M82 14c3 1 7 1 9-1"/></g>
<g fill="none" stroke="#fff" stroke-width="1.300" stroke-linecap="round"><path d="M60 27c-1-9 4-19 15-20 8-.6 14 3 14 8"/><path d="M63 28c2-6 8-10.500 17-11.500"/><circle cx="80" cy="10.500" r="3.800"/><path d="M86 7c4 3 4 9-1 13"/><path d="M82 14c3 1 7 1 9-1"/></g>
<text x="48.500" y="34" font-size="6.200" font-weight="bold" fill="#fff" stroke="#8e8e8e" stroke-width="1" paint-order="stroke" letter-spacing="3.300">ZEIGOO</text>
<path d="M106.500 30.500l0 6.500 1.800-1.600 2.400 3.200 1.300-1-2.400-3.200 2.500-.3z" fill="#fff" stroke="#222" stroke-width=".8"/>
</svg>

<div class="mb b" style="top:-2px"><svg width="25" height="25" viewBox="0 0 25 25"><path d="M12 9.5v7M8.5 13h7" stroke="#fff" stroke-width="1.6" fill="none"/></svg></div>
<div class="mb b" style="top:30px"><svg width="25" height="25" viewBox="0 0 25 25"><path d="M9.5 13h5" stroke="#e8eef5" stroke-width="1.6" fill="none"/></svg></div>
<div class="mb b" style="top:62px"><svg width="25" height="25" viewBox="0 0 25 25"><path d="M12 6.5l-6.3 6h1.8v5.5h3.3v-3.6h2.4v3.6h3.3v-5.500h1.8l-2.300-2.200v-2.800h-1.600v1.300z" fill="#fff"/></svg></div>
<div class="mb w" style="top:94px"><svg width="25" height="25" viewBox="0 0 25 25"><path d="M6.500 8.500h12M6.500 12.500h12M6.500 16.500h12" stroke="#2c6aa3" stroke-width="1.100" fill="none"/><path d="M13 7h2v3h-2zM9 11h2v3h-2zM13 15h2v3h-2z" fill="#2c6aa3"/></svg></div>
<div class="mb w" style="top:126px"><svg width="25" height="25" viewBox="0 0 25 25"><path d="M18.500 6l-5.200 12.500-1.400-5.300-5.600-1.400z" fill="#2c6aa3"/></svg></div>
<div class="mb w" style="top:157px"><svg width="25" height="25" viewBox="0 0 25 25"><circle cx="12" cy="12.500" r="6.300" fill="none" stroke="#2c6aa3" stroke-width="1.300"/><path d="M12 11.500v4.500" stroke="#2c6aa3" stroke-width="1.600"/><circle cx="12" cy="9.300" r="1" fill="#2c6aa3"/></svg></div>

<div id="rp">
 <div id="search"><div class="ph">Adresse oder Ort suchen</div>
  <div class="go"><svg width="25" height="26" viewBox="0 0 25 26"><ellipse cx="12.500" cy="19" rx="7.500" ry="3.800" fill="none" stroke="#2c6aa3" stroke-width="1.300"/><path d="M12 19V6.500" stroke="#2c6aa3" stroke-width="1.300"/><path d="M12.500 6l6 3.300-6 3.300z" fill="#2c6aa3"/></svg></div>
 </div>
 <div class="fr w" style="top:31px;padding-left:12px">Alle Filter zurücksetzen</div>
 <div class="fr b" style="top:52px;padding-left:5px"><span style="font-size:9px;opacity:.85">›</span> Netzbetreiber</div>
 <div class="fr b" style="top:72px;padding-left:5px"><span style="font-size:9px;opacity:.85">›</span> Zeitraum</div>
 <div class="fr b" style="top:92px;padding-left:5px"><span style="font-size:9px;opacity:.85">›</span> Netzabdeckung</div>
 <div class="fr w" style="top:113px;padding-left:5px"><span style="font-size:9px;color:#888">›</span> Gewählte Filter</div>
 <div id="sel"><b>Netzbetreiber:</b><br>Alle<br><b>Zeitraum:</b><br>12 Monate<br><b>Netzabdeckung:</b><br>Alle</div>
</div>

<div id="legend">
 <span style="left:255px;font-weight:bold;color:#222;font-size:9px">Legende</span>
 <span style="left:304.500px">Häufigste Netztechnologie (Anzahl Messpunkte)</span>
 <i style="left:526.500px;background:#5ec3d6"></i><span style="left:546.500px">kein Empfang</span>
 <i style="left:629.500px;background:#5a90e6"></i><span style="left:650px">2G</span>
 <i style="left:685px;background:#5a41de"></i><span style="left:705.500px">3G</span>
 <i style="left:741px;background:#cc38e2"></i><span style="left:761px">4G</span>
</div>
<div id="foot">
 <span style="left:10px">Datenschutz&nbsp; ·&nbsp; Nutzungsbedingungen&nbsp; ·&nbsp; Impressum&nbsp; ·&nbsp; Aktuelles</span>
 <span style="left:881px;font-size:8.6px">Breitbandmessung teilen:</span>
 <svg style="position:absolute;left:996px;top:12px" width="16" height="10" viewBox="0 0 16 10"><rect width="16" height="16" rx="1.500" fill="#3b5998"/><path d="M10.800 10V6.500h1.600l.3-1.900h-1.900V3.500c0-.6.2-.9.900-.9h1V.9C12.500.8 11.900.8 11.300.8 9.800.8 8.800 1.700 8.800 3.300v1.300H7.200v1.900h1.600V10z" fill="#fff"/></svg>
 <svg style="position:absolute;left:1024px;top:12px" width="18" height="10" viewBox="0 0 18 10"><path d="M17.500 2.500c-.6.300-1.300.5-2 .6.700-.4 1.300-1.100 1.500-1.900-.7.400-1.400.7-2.200.8C14.200 1.300 13.300.9 12.300.9c-1.900 0-3.400 1.500-3.400 3.400 0 .3 0 .5.100.8C6.100 5 3.600 3.600 1.900 1.500c-.3.500-.5 1.100-.5 1.700 0 1.200.6 2.200 1.500 2.800-.6 0-1.100-.2-1.600-.4 0 1.700 1.200 3 2.800 3.400-.5.100-1 .2-1.500.1.400 1.400 1.700 2.300 3.200 2.400" fill="#2aa3e8"/><path d="M17.500 2.500c-.5.700-1 1.300-1.700 1.800v.4c0 4.600-3.500 9.800-9.800 9.800-2 0-3.800-.6-5.300-1.600 1.900.2 3.700-.3 5.100-1.400-1.500 0-2.800-1-3.200-2.400L8 7l4-4z" fill="#2aa3e8"/></svg>
</div>

<div id="sideshadow"></div>
<div style="position:absolute;left:1194px;top:0;width:5px;height:655px;background:#f4f6f6;z-index:2"></div>
<div id="side">
 <div id="head"></div>
 <div id="logo1">breitband</div>
 <div id="logo2">messung</div>
 <svg id="bars" width="34" height="14" viewBox="0 0 34 14"><path d="M1 1v12M5 1v8.500" stroke="#1c1c1c" stroke-width="1.200"/><path d="M9 1v8.500M13 1v8.500" stroke="#a5342a" stroke-width="1.200"/><path d="M17.500 1v8.500M21.500 1v8.500" stroke="#e0b840" stroke-width="1.100"/><path d="M23.500 2l7.600 3.700-7.600 3.800z" fill="#f2c21c"/></svg>
 <div id="up"><svg width="22" height="22" viewBox="0 0 22 22"><path d="M11 16V7.500M7.300 10.500L11 6.800l3.700 3.700" fill="none" stroke="#2a5f93" stroke-width="2.200"/></svg></div>
 <div id="fl">funkloch-<br>app</div>
 <div id="flic"><svg width="37" height="37" viewBox="0 0 37 37"><path d="M18.500 15.500l-2.400 12.700h-.8v1.600h6.400v-1.600h-.8z" fill="#111"/><circle cx="18.500" cy="14.800" r="2.700" fill="#111"/><path d="M13.900 11.300a5.500 5.500 0 0 0 0 7M23.100 11.300a5.500 5.500 0 0 1 0 7" fill="none" stroke="#a32222" stroke-width="1.900"/><path d="M10.600 7.600a10.500 10.500 0 0 0 0 14.500M26.400 7.600a10.500 10.500 0 0 1 0 14.500" fill="none" stroke="#e4cc55" stroke-width="1.500"/></svg></div>

 <div class="nav" id="n1" style="top:198px;height:32px"><div class="ic" style="top:6px"><svg width="17" height="17" viewBox="0 0 17 17"><path d="M8.500 8.500l-1 4.500h2z" fill="#fff"/><circle cx="8.500" cy="7.800" r="1" fill="#fff"/><path d="M6.300 5.800a3 3 0 0 0 0 4M10.700 5.800a3 3 0 0 1 0 4M4.800 4.600a5 5 0 0 0 0 6.500M12.200 4.600a5 5 0 0 1 0 6.500" fill="none" stroke="#fff" stroke-width=".8"/></svg></div><div class="tx" style="top:3px">Funklöcher<br>erfassen</div></div>
 <div class="nav" id="n2"><div class="ic" style="top:8px;background:#fbfbfb"><svg width="17" height="17" viewBox="0 0 17 17"><path d="M8.500 3a2.800 2.800 0 0 0-2.800 2.800c0 2 2.800 4.700 2.800 4.700s2.800-2.700 2.800-4.700A2.800 2.800 0 0 0 8.500 3z" fill="#2a5f93"/><circle cx="8.500" cy="5.800" r="1.100" fill="#fff"/><path d="M5 9.500l-1.500 4h10l-1.500-4" fill="none" stroke="#2a5f93" stroke-width="1"/></svg></div><div class="tx" style="top:11px">Karte</div></div>
 <div class="nav" id="n3" style="top:269px;height:34px"><div class="ic" style="top:7px"><svg width="17" height="17" viewBox="0 0 17 17"><path d="M4 4.500h7v5H6.500L4 11.500z" fill="#fff"/><path d="M12 6.500h1.500v7L11.500 12H6.500v-1.500H12z" fill="#fff"/></svg></div><div class="tx" style="top:10px">Fragen und Antworten</div></div>
</div>
</div>
</body>
</html>
